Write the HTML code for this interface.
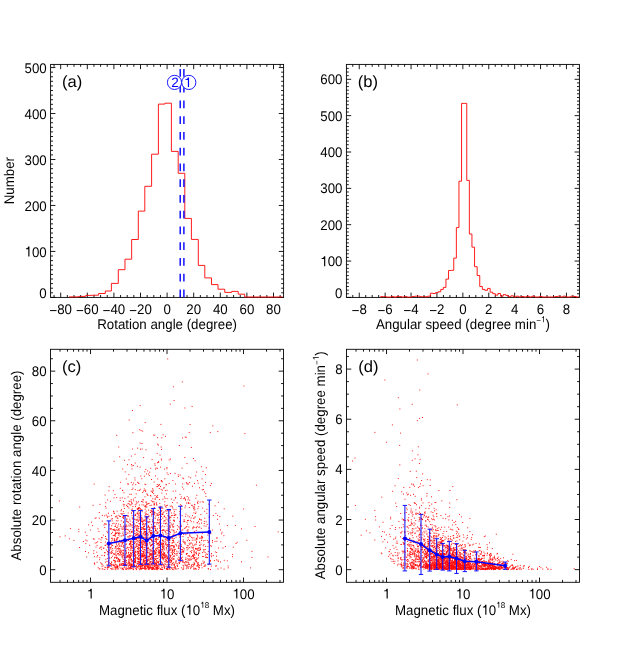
<!DOCTYPE html>
<html><head><meta charset="utf-8"><title>Figure</title>
<style>
html,body{margin:0;padding:0;background:#fff;}
body{width:629px;height:647px;overflow:hidden;}
svg{display:block;font-family:"Liberation Sans",sans-serif;}
text{text-rendering:geometricPrecision;}
</style></head><body>
<svg width="629" height="647" viewBox="0 0 629 647">
<rect width="629" height="647" fill="#fff"/>
<g opacity="0.999">
<rect x="50.60" y="64.40" width="233.00" height="233.00" fill="none" stroke="#000" stroke-width="0.9"/>
<line x1="60.70" y1="297.40" x2="60.70" y2="292.60" stroke="#000" stroke-width="0.9" />
<line x1="60.70" y1="64.40" x2="60.70" y2="69.20" stroke="#000" stroke-width="0.9" />
<line x1="87.30" y1="297.40" x2="87.30" y2="292.60" stroke="#000" stroke-width="0.9" />
<line x1="87.30" y1="64.40" x2="87.30" y2="69.20" stroke="#000" stroke-width="0.9" />
<line x1="113.90" y1="297.40" x2="113.90" y2="292.60" stroke="#000" stroke-width="0.9" />
<line x1="113.90" y1="64.40" x2="113.90" y2="69.20" stroke="#000" stroke-width="0.9" />
<line x1="140.50" y1="297.40" x2="140.50" y2="292.60" stroke="#000" stroke-width="0.9" />
<line x1="140.50" y1="64.40" x2="140.50" y2="69.20" stroke="#000" stroke-width="0.9" />
<line x1="167.10" y1="297.40" x2="167.10" y2="292.60" stroke="#000" stroke-width="0.9" />
<line x1="167.10" y1="64.40" x2="167.10" y2="69.20" stroke="#000" stroke-width="0.9" />
<line x1="193.70" y1="297.40" x2="193.70" y2="292.60" stroke="#000" stroke-width="0.9" />
<line x1="193.70" y1="64.40" x2="193.70" y2="69.20" stroke="#000" stroke-width="0.9" />
<line x1="220.30" y1="297.40" x2="220.30" y2="292.60" stroke="#000" stroke-width="0.9" />
<line x1="220.30" y1="64.40" x2="220.30" y2="69.20" stroke="#000" stroke-width="0.9" />
<line x1="246.90" y1="297.40" x2="246.90" y2="292.60" stroke="#000" stroke-width="0.9" />
<line x1="246.90" y1="64.40" x2="246.90" y2="69.20" stroke="#000" stroke-width="0.9" />
<line x1="273.50" y1="297.40" x2="273.50" y2="292.60" stroke="#000" stroke-width="0.9" />
<line x1="273.50" y1="64.40" x2="273.50" y2="69.20" stroke="#000" stroke-width="0.9" />
<line x1="54.05" y1="297.40" x2="54.05" y2="295.00" stroke="#000" stroke-width="0.9" />
<line x1="54.05" y1="64.40" x2="54.05" y2="66.80" stroke="#000" stroke-width="0.9" />
<line x1="67.35" y1="297.40" x2="67.35" y2="295.00" stroke="#000" stroke-width="0.9" />
<line x1="67.35" y1="64.40" x2="67.35" y2="66.80" stroke="#000" stroke-width="0.9" />
<line x1="74.00" y1="297.40" x2="74.00" y2="295.00" stroke="#000" stroke-width="0.9" />
<line x1="74.00" y1="64.40" x2="74.00" y2="66.80" stroke="#000" stroke-width="0.9" />
<line x1="80.65" y1="297.40" x2="80.65" y2="295.00" stroke="#000" stroke-width="0.9" />
<line x1="80.65" y1="64.40" x2="80.65" y2="66.80" stroke="#000" stroke-width="0.9" />
<line x1="93.95" y1="297.40" x2="93.95" y2="295.00" stroke="#000" stroke-width="0.9" />
<line x1="93.95" y1="64.40" x2="93.95" y2="66.80" stroke="#000" stroke-width="0.9" />
<line x1="100.60" y1="297.40" x2="100.60" y2="295.00" stroke="#000" stroke-width="0.9" />
<line x1="100.60" y1="64.40" x2="100.60" y2="66.80" stroke="#000" stroke-width="0.9" />
<line x1="107.25" y1="297.40" x2="107.25" y2="295.00" stroke="#000" stroke-width="0.9" />
<line x1="107.25" y1="64.40" x2="107.25" y2="66.80" stroke="#000" stroke-width="0.9" />
<line x1="120.55" y1="297.40" x2="120.55" y2="295.00" stroke="#000" stroke-width="0.9" />
<line x1="120.55" y1="64.40" x2="120.55" y2="66.80" stroke="#000" stroke-width="0.9" />
<line x1="127.20" y1="297.40" x2="127.20" y2="295.00" stroke="#000" stroke-width="0.9" />
<line x1="127.20" y1="64.40" x2="127.20" y2="66.80" stroke="#000" stroke-width="0.9" />
<line x1="133.85" y1="297.40" x2="133.85" y2="295.00" stroke="#000" stroke-width="0.9" />
<line x1="133.85" y1="64.40" x2="133.85" y2="66.80" stroke="#000" stroke-width="0.9" />
<line x1="147.15" y1="297.40" x2="147.15" y2="295.00" stroke="#000" stroke-width="0.9" />
<line x1="147.15" y1="64.40" x2="147.15" y2="66.80" stroke="#000" stroke-width="0.9" />
<line x1="153.80" y1="297.40" x2="153.80" y2="295.00" stroke="#000" stroke-width="0.9" />
<line x1="153.80" y1="64.40" x2="153.80" y2="66.80" stroke="#000" stroke-width="0.9" />
<line x1="160.45" y1="297.40" x2="160.45" y2="295.00" stroke="#000" stroke-width="0.9" />
<line x1="160.45" y1="64.40" x2="160.45" y2="66.80" stroke="#000" stroke-width="0.9" />
<line x1="173.75" y1="297.40" x2="173.75" y2="295.00" stroke="#000" stroke-width="0.9" />
<line x1="173.75" y1="64.40" x2="173.75" y2="66.80" stroke="#000" stroke-width="0.9" />
<line x1="180.40" y1="297.40" x2="180.40" y2="295.00" stroke="#000" stroke-width="0.9" />
<line x1="180.40" y1="64.40" x2="180.40" y2="66.80" stroke="#000" stroke-width="0.9" />
<line x1="187.05" y1="297.40" x2="187.05" y2="295.00" stroke="#000" stroke-width="0.9" />
<line x1="187.05" y1="64.40" x2="187.05" y2="66.80" stroke="#000" stroke-width="0.9" />
<line x1="200.35" y1="297.40" x2="200.35" y2="295.00" stroke="#000" stroke-width="0.9" />
<line x1="200.35" y1="64.40" x2="200.35" y2="66.80" stroke="#000" stroke-width="0.9" />
<line x1="207.00" y1="297.40" x2="207.00" y2="295.00" stroke="#000" stroke-width="0.9" />
<line x1="207.00" y1="64.40" x2="207.00" y2="66.80" stroke="#000" stroke-width="0.9" />
<line x1="213.65" y1="297.40" x2="213.65" y2="295.00" stroke="#000" stroke-width="0.9" />
<line x1="213.65" y1="64.40" x2="213.65" y2="66.80" stroke="#000" stroke-width="0.9" />
<line x1="226.95" y1="297.40" x2="226.95" y2="295.00" stroke="#000" stroke-width="0.9" />
<line x1="226.95" y1="64.40" x2="226.95" y2="66.80" stroke="#000" stroke-width="0.9" />
<line x1="233.60" y1="297.40" x2="233.60" y2="295.00" stroke="#000" stroke-width="0.9" />
<line x1="233.60" y1="64.40" x2="233.60" y2="66.80" stroke="#000" stroke-width="0.9" />
<line x1="240.25" y1="297.40" x2="240.25" y2="295.00" stroke="#000" stroke-width="0.9" />
<line x1="240.25" y1="64.40" x2="240.25" y2="66.80" stroke="#000" stroke-width="0.9" />
<line x1="253.55" y1="297.40" x2="253.55" y2="295.00" stroke="#000" stroke-width="0.9" />
<line x1="253.55" y1="64.40" x2="253.55" y2="66.80" stroke="#000" stroke-width="0.9" />
<line x1="260.20" y1="297.40" x2="260.20" y2="295.00" stroke="#000" stroke-width="0.9" />
<line x1="260.20" y1="64.40" x2="260.20" y2="66.80" stroke="#000" stroke-width="0.9" />
<line x1="266.85" y1="297.40" x2="266.85" y2="295.00" stroke="#000" stroke-width="0.9" />
<line x1="266.85" y1="64.40" x2="266.85" y2="66.80" stroke="#000" stroke-width="0.9" />
<line x1="280.15" y1="297.40" x2="280.15" y2="295.00" stroke="#000" stroke-width="0.9" />
<line x1="280.15" y1="64.40" x2="280.15" y2="66.80" stroke="#000" stroke-width="0.9" />
<line x1="50.60" y1="297.40" x2="55.40" y2="297.40" stroke="#000" stroke-width="0.9" />
<line x1="283.60" y1="297.40" x2="278.80" y2="297.40" stroke="#000" stroke-width="0.9" />
<line x1="50.60" y1="251.43" x2="55.40" y2="251.43" stroke="#000" stroke-width="0.9" />
<line x1="283.60" y1="251.43" x2="278.80" y2="251.43" stroke="#000" stroke-width="0.9" />
<line x1="50.60" y1="205.46" x2="55.40" y2="205.46" stroke="#000" stroke-width="0.9" />
<line x1="283.60" y1="205.46" x2="278.80" y2="205.46" stroke="#000" stroke-width="0.9" />
<line x1="50.60" y1="159.49" x2="55.40" y2="159.49" stroke="#000" stroke-width="0.9" />
<line x1="283.60" y1="159.49" x2="278.80" y2="159.49" stroke="#000" stroke-width="0.9" />
<line x1="50.60" y1="113.52" x2="55.40" y2="113.52" stroke="#000" stroke-width="0.9" />
<line x1="283.60" y1="113.52" x2="278.80" y2="113.52" stroke="#000" stroke-width="0.9" />
<line x1="50.60" y1="67.55" x2="55.40" y2="67.55" stroke="#000" stroke-width="0.9" />
<line x1="283.60" y1="67.55" x2="278.80" y2="67.55" stroke="#000" stroke-width="0.9" />
<line x1="50.60" y1="292.80" x2="53.00" y2="292.80" stroke="#000" stroke-width="0.9" />
<line x1="283.60" y1="292.80" x2="281.20" y2="292.80" stroke="#000" stroke-width="0.9" />
<line x1="50.60" y1="288.21" x2="53.00" y2="288.21" stroke="#000" stroke-width="0.9" />
<line x1="283.60" y1="288.21" x2="281.20" y2="288.21" stroke="#000" stroke-width="0.9" />
<line x1="50.60" y1="283.61" x2="53.00" y2="283.61" stroke="#000" stroke-width="0.9" />
<line x1="283.60" y1="283.61" x2="281.20" y2="283.61" stroke="#000" stroke-width="0.9" />
<line x1="50.60" y1="279.01" x2="53.00" y2="279.01" stroke="#000" stroke-width="0.9" />
<line x1="283.60" y1="279.01" x2="281.20" y2="279.01" stroke="#000" stroke-width="0.9" />
<line x1="50.60" y1="274.41" x2="53.00" y2="274.41" stroke="#000" stroke-width="0.9" />
<line x1="283.60" y1="274.41" x2="281.20" y2="274.41" stroke="#000" stroke-width="0.9" />
<line x1="50.60" y1="269.82" x2="53.00" y2="269.82" stroke="#000" stroke-width="0.9" />
<line x1="283.60" y1="269.82" x2="281.20" y2="269.82" stroke="#000" stroke-width="0.9" />
<line x1="50.60" y1="265.22" x2="53.00" y2="265.22" stroke="#000" stroke-width="0.9" />
<line x1="283.60" y1="265.22" x2="281.20" y2="265.22" stroke="#000" stroke-width="0.9" />
<line x1="50.60" y1="260.62" x2="53.00" y2="260.62" stroke="#000" stroke-width="0.9" />
<line x1="283.60" y1="260.62" x2="281.20" y2="260.62" stroke="#000" stroke-width="0.9" />
<line x1="50.60" y1="256.03" x2="53.00" y2="256.03" stroke="#000" stroke-width="0.9" />
<line x1="283.60" y1="256.03" x2="281.20" y2="256.03" stroke="#000" stroke-width="0.9" />
<line x1="50.60" y1="246.83" x2="53.00" y2="246.83" stroke="#000" stroke-width="0.9" />
<line x1="283.60" y1="246.83" x2="281.20" y2="246.83" stroke="#000" stroke-width="0.9" />
<line x1="50.60" y1="242.24" x2="53.00" y2="242.24" stroke="#000" stroke-width="0.9" />
<line x1="283.60" y1="242.24" x2="281.20" y2="242.24" stroke="#000" stroke-width="0.9" />
<line x1="50.60" y1="237.64" x2="53.00" y2="237.64" stroke="#000" stroke-width="0.9" />
<line x1="283.60" y1="237.64" x2="281.20" y2="237.64" stroke="#000" stroke-width="0.9" />
<line x1="50.60" y1="233.04" x2="53.00" y2="233.04" stroke="#000" stroke-width="0.9" />
<line x1="283.60" y1="233.04" x2="281.20" y2="233.04" stroke="#000" stroke-width="0.9" />
<line x1="50.60" y1="228.44" x2="53.00" y2="228.44" stroke="#000" stroke-width="0.9" />
<line x1="283.60" y1="228.44" x2="281.20" y2="228.44" stroke="#000" stroke-width="0.9" />
<line x1="50.60" y1="223.85" x2="53.00" y2="223.85" stroke="#000" stroke-width="0.9" />
<line x1="283.60" y1="223.85" x2="281.20" y2="223.85" stroke="#000" stroke-width="0.9" />
<line x1="50.60" y1="219.25" x2="53.00" y2="219.25" stroke="#000" stroke-width="0.9" />
<line x1="283.60" y1="219.25" x2="281.20" y2="219.25" stroke="#000" stroke-width="0.9" />
<line x1="50.60" y1="214.65" x2="53.00" y2="214.65" stroke="#000" stroke-width="0.9" />
<line x1="283.60" y1="214.65" x2="281.20" y2="214.65" stroke="#000" stroke-width="0.9" />
<line x1="50.60" y1="210.06" x2="53.00" y2="210.06" stroke="#000" stroke-width="0.9" />
<line x1="283.60" y1="210.06" x2="281.20" y2="210.06" stroke="#000" stroke-width="0.9" />
<line x1="50.60" y1="200.86" x2="53.00" y2="200.86" stroke="#000" stroke-width="0.9" />
<line x1="283.60" y1="200.86" x2="281.20" y2="200.86" stroke="#000" stroke-width="0.9" />
<line x1="50.60" y1="196.27" x2="53.00" y2="196.27" stroke="#000" stroke-width="0.9" />
<line x1="283.60" y1="196.27" x2="281.20" y2="196.27" stroke="#000" stroke-width="0.9" />
<line x1="50.60" y1="191.67" x2="53.00" y2="191.67" stroke="#000" stroke-width="0.9" />
<line x1="283.60" y1="191.67" x2="281.20" y2="191.67" stroke="#000" stroke-width="0.9" />
<line x1="50.60" y1="187.07" x2="53.00" y2="187.07" stroke="#000" stroke-width="0.9" />
<line x1="283.60" y1="187.07" x2="281.20" y2="187.07" stroke="#000" stroke-width="0.9" />
<line x1="50.60" y1="182.47" x2="53.00" y2="182.47" stroke="#000" stroke-width="0.9" />
<line x1="283.60" y1="182.47" x2="281.20" y2="182.47" stroke="#000" stroke-width="0.9" />
<line x1="50.60" y1="177.88" x2="53.00" y2="177.88" stroke="#000" stroke-width="0.9" />
<line x1="283.60" y1="177.88" x2="281.20" y2="177.88" stroke="#000" stroke-width="0.9" />
<line x1="50.60" y1="173.28" x2="53.00" y2="173.28" stroke="#000" stroke-width="0.9" />
<line x1="283.60" y1="173.28" x2="281.20" y2="173.28" stroke="#000" stroke-width="0.9" />
<line x1="50.60" y1="168.68" x2="53.00" y2="168.68" stroke="#000" stroke-width="0.9" />
<line x1="283.60" y1="168.68" x2="281.20" y2="168.68" stroke="#000" stroke-width="0.9" />
<line x1="50.60" y1="164.09" x2="53.00" y2="164.09" stroke="#000" stroke-width="0.9" />
<line x1="283.60" y1="164.09" x2="281.20" y2="164.09" stroke="#000" stroke-width="0.9" />
<line x1="50.60" y1="154.89" x2="53.00" y2="154.89" stroke="#000" stroke-width="0.9" />
<line x1="283.60" y1="154.89" x2="281.20" y2="154.89" stroke="#000" stroke-width="0.9" />
<line x1="50.60" y1="150.30" x2="53.00" y2="150.30" stroke="#000" stroke-width="0.9" />
<line x1="283.60" y1="150.30" x2="281.20" y2="150.30" stroke="#000" stroke-width="0.9" />
<line x1="50.60" y1="145.70" x2="53.00" y2="145.70" stroke="#000" stroke-width="0.9" />
<line x1="283.60" y1="145.70" x2="281.20" y2="145.70" stroke="#000" stroke-width="0.9" />
<line x1="50.60" y1="141.10" x2="53.00" y2="141.10" stroke="#000" stroke-width="0.9" />
<line x1="283.60" y1="141.10" x2="281.20" y2="141.10" stroke="#000" stroke-width="0.9" />
<line x1="50.60" y1="136.50" x2="53.00" y2="136.50" stroke="#000" stroke-width="0.9" />
<line x1="283.60" y1="136.50" x2="281.20" y2="136.50" stroke="#000" stroke-width="0.9" />
<line x1="50.60" y1="131.91" x2="53.00" y2="131.91" stroke="#000" stroke-width="0.9" />
<line x1="283.60" y1="131.91" x2="281.20" y2="131.91" stroke="#000" stroke-width="0.9" />
<line x1="50.60" y1="127.31" x2="53.00" y2="127.31" stroke="#000" stroke-width="0.9" />
<line x1="283.60" y1="127.31" x2="281.20" y2="127.31" stroke="#000" stroke-width="0.9" />
<line x1="50.60" y1="122.71" x2="53.00" y2="122.71" stroke="#000" stroke-width="0.9" />
<line x1="283.60" y1="122.71" x2="281.20" y2="122.71" stroke="#000" stroke-width="0.9" />
<line x1="50.60" y1="118.12" x2="53.00" y2="118.12" stroke="#000" stroke-width="0.9" />
<line x1="283.60" y1="118.12" x2="281.20" y2="118.12" stroke="#000" stroke-width="0.9" />
<line x1="50.60" y1="108.92" x2="53.00" y2="108.92" stroke="#000" stroke-width="0.9" />
<line x1="283.60" y1="108.92" x2="281.20" y2="108.92" stroke="#000" stroke-width="0.9" />
<line x1="50.60" y1="104.33" x2="53.00" y2="104.33" stroke="#000" stroke-width="0.9" />
<line x1="283.60" y1="104.33" x2="281.20" y2="104.33" stroke="#000" stroke-width="0.9" />
<line x1="50.60" y1="99.73" x2="53.00" y2="99.73" stroke="#000" stroke-width="0.9" />
<line x1="283.60" y1="99.73" x2="281.20" y2="99.73" stroke="#000" stroke-width="0.9" />
<line x1="50.60" y1="95.13" x2="53.00" y2="95.13" stroke="#000" stroke-width="0.9" />
<line x1="283.60" y1="95.13" x2="281.20" y2="95.13" stroke="#000" stroke-width="0.9" />
<line x1="50.60" y1="90.53" x2="53.00" y2="90.53" stroke="#000" stroke-width="0.9" />
<line x1="283.60" y1="90.53" x2="281.20" y2="90.53" stroke="#000" stroke-width="0.9" />
<line x1="50.60" y1="85.94" x2="53.00" y2="85.94" stroke="#000" stroke-width="0.9" />
<line x1="283.60" y1="85.94" x2="281.20" y2="85.94" stroke="#000" stroke-width="0.9" />
<line x1="50.60" y1="81.34" x2="53.00" y2="81.34" stroke="#000" stroke-width="0.9" />
<line x1="283.60" y1="81.34" x2="281.20" y2="81.34" stroke="#000" stroke-width="0.9" />
<line x1="50.60" y1="76.74" x2="53.00" y2="76.74" stroke="#000" stroke-width="0.9" />
<line x1="283.60" y1="76.74" x2="281.20" y2="76.74" stroke="#000" stroke-width="0.9" />
<line x1="50.60" y1="72.15" x2="53.00" y2="72.15" stroke="#000" stroke-width="0.9" />
<line x1="283.60" y1="72.15" x2="281.20" y2="72.15" stroke="#000" stroke-width="0.9" />
<path d="M69.10,296.90H78.60V296.40H85.70V295.40H92.35V295.20H98.65V293.50H105.30V291.00H111.40V283.40H118.30V269.70H124.97V259.20H131.65V239.50H138.30V211.10H144.80V186.30H151.60V154.20H158.40V104.10H164.90V103.20H171.40V151.40H178.20V173.30H184.80V218.40H191.40V239.40H198.30V265.40H204.80V277.90H211.50V284.60H218.00V289.20H224.75V292.40H231.70V291.40H238.20V294.20H244.70V297.00H282.50" fill="none" stroke="#f00" stroke-width="0.9" stroke-linejoin="miter"/>
<line x1="180.20" y1="68.90" x2="180.20" y2="297.40" stroke="#00f" stroke-width="1.4" stroke-dasharray="7.9 7.85"/>
<line x1="183.90" y1="68.90" x2="183.90" y2="297.40" stroke="#00f" stroke-width="1.4" stroke-dasharray="7.9 7.85"/>
<circle cx="174.5" cy="82.4" r="7.1" fill="#fff" stroke="#00f" stroke-width="0.9"/>
<circle cx="188.8" cy="82.4" r="7.1" fill="#fff" stroke="#00f" stroke-width="0.9"/>
<g transform="translate(174.90 87.10) scale(1 1.0)" fill="#00f"><text x="-3.78" y="0.00" font-size="13.6" xml:space="preserve">2</text></g>
<g transform="translate(187.80 87.10) scale(1 1.0)" fill="#00f"><path transform="translate(-3.78 0.00) scale(0.01360 -0.01360)" d="M284 0V517H102V574C200 574 262 622 282 709H372V0Z"/></g>
<g transform="translate(60.70 313.70) scale(1 1.055)" fill="#000"><path transform="translate(-11.28 0.00) scale(0.01330 -0.01330)" d="M48 186H536V258H48Z"/><text x="-3.51" y="0.00" font-size="13.3" xml:space="preserve">80</text></g>
<g transform="translate(87.30 313.70) scale(1 1.055)" fill="#000"><path transform="translate(-11.28 0.00) scale(0.01330 -0.01330)" d="M48 186H536V258H48Z"/><text x="-3.51" y="0.00" font-size="13.3" xml:space="preserve">60</text></g>
<g transform="translate(113.90 313.70) scale(1 1.055)" fill="#000"><path transform="translate(-11.28 0.00) scale(0.01330 -0.01330)" d="M48 186H536V258H48Z"/><text x="-3.51" y="0.00" font-size="13.3" xml:space="preserve">40</text></g>
<g transform="translate(140.50 313.70) scale(1 1.055)" fill="#000"><path transform="translate(-11.28 0.00) scale(0.01330 -0.01330)" d="M48 186H536V258H48Z"/><text x="-3.51" y="0.00" font-size="13.3" xml:space="preserve">20</text></g>
<g transform="translate(167.10 313.70) scale(1 1.055)" fill="#000"><text x="-3.70" y="0.00" font-size="13.3" xml:space="preserve">0</text></g>
<g transform="translate(193.70 313.70) scale(1 1.055)" fill="#000"><text x="-7.40" y="0.00" font-size="13.3" xml:space="preserve">20</text></g>
<g transform="translate(220.30 313.70) scale(1 1.055)" fill="#000"><text x="-7.40" y="0.00" font-size="13.3" xml:space="preserve">40</text></g>
<g transform="translate(246.90 313.70) scale(1 1.055)" fill="#000"><text x="-7.40" y="0.00" font-size="13.3" xml:space="preserve">60</text></g>
<g transform="translate(273.50 313.70) scale(1 1.055)" fill="#000"><text x="-7.40" y="0.00" font-size="13.3" xml:space="preserve">80</text></g>
<g transform="translate(46.70 297.90) scale(1 1.055)" fill="#000"><text x="-7.40" y="0.00" font-size="13.3" xml:space="preserve">0</text></g>
<g transform="translate(46.70 256.55) scale(1 1.055)" fill="#000"><path transform="translate(-22.19 0.00) scale(0.01330 -0.01330)" d="M284 0V517H102V574C200 574 262 622 282 709H372V0Z"/><text x="-14.79" y="0.00" font-size="13.3" xml:space="preserve">00</text></g>
<g transform="translate(46.70 210.58) scale(1 1.055)" fill="#000"><text x="-22.19" y="0.00" font-size="13.3" xml:space="preserve">200</text></g>
<g transform="translate(46.70 164.61) scale(1 1.055)" fill="#000"><text x="-22.19" y="0.00" font-size="13.3" xml:space="preserve">300</text></g>
<g transform="translate(46.70 118.64) scale(1 1.055)" fill="#000"><text x="-22.19" y="0.00" font-size="13.3" xml:space="preserve">400</text></g>
<g transform="translate(46.70 73.07) scale(1 1.055)" fill="#000"><text x="-22.19" y="0.00" font-size="13.3" xml:space="preserve">500</text></g>
<g transform="translate(167.10 329.15) scale(1 1.055)" fill="#000"><text x="-69.87" y="0.00" font-size="13.3" xml:space="preserve">Rotation angle (degree)</text></g>
<g transform="translate(13.60 180.70) rotate(-90) scale(1 1.055)" fill="#000"><text x="-23.65" y="0.00" font-size="13.3" xml:space="preserve">Number</text></g>
<g transform="translate(62.00 87.40) scale(1 0.98)" fill="#000"><text x="0.00" y="0.00" font-size="16.6" xml:space="preserve">(a)</text></g>
<rect x="346.40" y="64.40" width="233.00" height="233.00" fill="none" stroke="#000" stroke-width="0.9"/>
<line x1="359.25" y1="297.40" x2="359.25" y2="292.60" stroke="#000" stroke-width="0.9" />
<line x1="359.25" y1="64.40" x2="359.25" y2="69.20" stroke="#000" stroke-width="0.9" />
<line x1="385.15" y1="297.40" x2="385.15" y2="292.60" stroke="#000" stroke-width="0.9" />
<line x1="385.15" y1="64.40" x2="385.15" y2="69.20" stroke="#000" stroke-width="0.9" />
<line x1="411.05" y1="297.40" x2="411.05" y2="292.60" stroke="#000" stroke-width="0.9" />
<line x1="411.05" y1="64.40" x2="411.05" y2="69.20" stroke="#000" stroke-width="0.9" />
<line x1="436.95" y1="297.40" x2="436.95" y2="292.60" stroke="#000" stroke-width="0.9" />
<line x1="436.95" y1="64.40" x2="436.95" y2="69.20" stroke="#000" stroke-width="0.9" />
<line x1="462.85" y1="297.40" x2="462.85" y2="292.60" stroke="#000" stroke-width="0.9" />
<line x1="462.85" y1="64.40" x2="462.85" y2="69.20" stroke="#000" stroke-width="0.9" />
<line x1="488.75" y1="297.40" x2="488.75" y2="292.60" stroke="#000" stroke-width="0.9" />
<line x1="488.75" y1="64.40" x2="488.75" y2="69.20" stroke="#000" stroke-width="0.9" />
<line x1="514.65" y1="297.40" x2="514.65" y2="292.60" stroke="#000" stroke-width="0.9" />
<line x1="514.65" y1="64.40" x2="514.65" y2="69.20" stroke="#000" stroke-width="0.9" />
<line x1="540.55" y1="297.40" x2="540.55" y2="292.60" stroke="#000" stroke-width="0.9" />
<line x1="540.55" y1="64.40" x2="540.55" y2="69.20" stroke="#000" stroke-width="0.9" />
<line x1="566.45" y1="297.40" x2="566.45" y2="292.60" stroke="#000" stroke-width="0.9" />
<line x1="566.45" y1="64.40" x2="566.45" y2="69.20" stroke="#000" stroke-width="0.9" />
<line x1="352.78" y1="297.40" x2="352.78" y2="295.00" stroke="#000" stroke-width="0.9" />
<line x1="352.78" y1="64.40" x2="352.78" y2="66.80" stroke="#000" stroke-width="0.9" />
<line x1="365.73" y1="297.40" x2="365.73" y2="295.00" stroke="#000" stroke-width="0.9" />
<line x1="365.73" y1="64.40" x2="365.73" y2="66.80" stroke="#000" stroke-width="0.9" />
<line x1="372.20" y1="297.40" x2="372.20" y2="295.00" stroke="#000" stroke-width="0.9" />
<line x1="372.20" y1="64.40" x2="372.20" y2="66.80" stroke="#000" stroke-width="0.9" />
<line x1="378.68" y1="297.40" x2="378.68" y2="295.00" stroke="#000" stroke-width="0.9" />
<line x1="378.68" y1="64.40" x2="378.68" y2="66.80" stroke="#000" stroke-width="0.9" />
<line x1="391.62" y1="297.40" x2="391.62" y2="295.00" stroke="#000" stroke-width="0.9" />
<line x1="391.62" y1="64.40" x2="391.62" y2="66.80" stroke="#000" stroke-width="0.9" />
<line x1="398.10" y1="297.40" x2="398.10" y2="295.00" stroke="#000" stroke-width="0.9" />
<line x1="398.10" y1="64.40" x2="398.10" y2="66.80" stroke="#000" stroke-width="0.9" />
<line x1="404.58" y1="297.40" x2="404.58" y2="295.00" stroke="#000" stroke-width="0.9" />
<line x1="404.58" y1="64.40" x2="404.58" y2="66.80" stroke="#000" stroke-width="0.9" />
<line x1="417.53" y1="297.40" x2="417.53" y2="295.00" stroke="#000" stroke-width="0.9" />
<line x1="417.53" y1="64.40" x2="417.53" y2="66.80" stroke="#000" stroke-width="0.9" />
<line x1="424.00" y1="297.40" x2="424.00" y2="295.00" stroke="#000" stroke-width="0.9" />
<line x1="424.00" y1="64.40" x2="424.00" y2="66.80" stroke="#000" stroke-width="0.9" />
<line x1="430.48" y1="297.40" x2="430.48" y2="295.00" stroke="#000" stroke-width="0.9" />
<line x1="430.48" y1="64.40" x2="430.48" y2="66.80" stroke="#000" stroke-width="0.9" />
<line x1="443.43" y1="297.40" x2="443.43" y2="295.00" stroke="#000" stroke-width="0.9" />
<line x1="443.43" y1="64.40" x2="443.43" y2="66.80" stroke="#000" stroke-width="0.9" />
<line x1="449.90" y1="297.40" x2="449.90" y2="295.00" stroke="#000" stroke-width="0.9" />
<line x1="449.90" y1="64.40" x2="449.90" y2="66.80" stroke="#000" stroke-width="0.9" />
<line x1="456.38" y1="297.40" x2="456.38" y2="295.00" stroke="#000" stroke-width="0.9" />
<line x1="456.38" y1="64.40" x2="456.38" y2="66.80" stroke="#000" stroke-width="0.9" />
<line x1="469.33" y1="297.40" x2="469.33" y2="295.00" stroke="#000" stroke-width="0.9" />
<line x1="469.33" y1="64.40" x2="469.33" y2="66.80" stroke="#000" stroke-width="0.9" />
<line x1="475.80" y1="297.40" x2="475.80" y2="295.00" stroke="#000" stroke-width="0.9" />
<line x1="475.80" y1="64.40" x2="475.80" y2="66.80" stroke="#000" stroke-width="0.9" />
<line x1="482.28" y1="297.40" x2="482.28" y2="295.00" stroke="#000" stroke-width="0.9" />
<line x1="482.28" y1="64.40" x2="482.28" y2="66.80" stroke="#000" stroke-width="0.9" />
<line x1="495.23" y1="297.40" x2="495.23" y2="295.00" stroke="#000" stroke-width="0.9" />
<line x1="495.23" y1="64.40" x2="495.23" y2="66.80" stroke="#000" stroke-width="0.9" />
<line x1="501.70" y1="297.40" x2="501.70" y2="295.00" stroke="#000" stroke-width="0.9" />
<line x1="501.70" y1="64.40" x2="501.70" y2="66.80" stroke="#000" stroke-width="0.9" />
<line x1="508.18" y1="297.40" x2="508.18" y2="295.00" stroke="#000" stroke-width="0.9" />
<line x1="508.18" y1="64.40" x2="508.18" y2="66.80" stroke="#000" stroke-width="0.9" />
<line x1="521.12" y1="297.40" x2="521.12" y2="295.00" stroke="#000" stroke-width="0.9" />
<line x1="521.12" y1="64.40" x2="521.12" y2="66.80" stroke="#000" stroke-width="0.9" />
<line x1="527.60" y1="297.40" x2="527.60" y2="295.00" stroke="#000" stroke-width="0.9" />
<line x1="527.60" y1="64.40" x2="527.60" y2="66.80" stroke="#000" stroke-width="0.9" />
<line x1="534.08" y1="297.40" x2="534.08" y2="295.00" stroke="#000" stroke-width="0.9" />
<line x1="534.08" y1="64.40" x2="534.08" y2="66.80" stroke="#000" stroke-width="0.9" />
<line x1="547.02" y1="297.40" x2="547.02" y2="295.00" stroke="#000" stroke-width="0.9" />
<line x1="547.02" y1="64.40" x2="547.02" y2="66.80" stroke="#000" stroke-width="0.9" />
<line x1="553.50" y1="297.40" x2="553.50" y2="295.00" stroke="#000" stroke-width="0.9" />
<line x1="553.50" y1="64.40" x2="553.50" y2="66.80" stroke="#000" stroke-width="0.9" />
<line x1="559.98" y1="297.40" x2="559.98" y2="295.00" stroke="#000" stroke-width="0.9" />
<line x1="559.98" y1="64.40" x2="559.98" y2="66.80" stroke="#000" stroke-width="0.9" />
<line x1="572.92" y1="297.40" x2="572.92" y2="295.00" stroke="#000" stroke-width="0.9" />
<line x1="572.92" y1="64.40" x2="572.92" y2="66.80" stroke="#000" stroke-width="0.9" />
<line x1="346.40" y1="297.40" x2="351.20" y2="297.40" stroke="#000" stroke-width="0.9" />
<line x1="579.40" y1="297.40" x2="574.60" y2="297.40" stroke="#000" stroke-width="0.9" />
<line x1="346.40" y1="261.05" x2="351.20" y2="261.05" stroke="#000" stroke-width="0.9" />
<line x1="579.40" y1="261.05" x2="574.60" y2="261.05" stroke="#000" stroke-width="0.9" />
<line x1="346.40" y1="224.70" x2="351.20" y2="224.70" stroke="#000" stroke-width="0.9" />
<line x1="579.40" y1="224.70" x2="574.60" y2="224.70" stroke="#000" stroke-width="0.9" />
<line x1="346.40" y1="188.35" x2="351.20" y2="188.35" stroke="#000" stroke-width="0.9" />
<line x1="579.40" y1="188.35" x2="574.60" y2="188.35" stroke="#000" stroke-width="0.9" />
<line x1="346.40" y1="152.00" x2="351.20" y2="152.00" stroke="#000" stroke-width="0.9" />
<line x1="579.40" y1="152.00" x2="574.60" y2="152.00" stroke="#000" stroke-width="0.9" />
<line x1="346.40" y1="115.65" x2="351.20" y2="115.65" stroke="#000" stroke-width="0.9" />
<line x1="579.40" y1="115.65" x2="574.60" y2="115.65" stroke="#000" stroke-width="0.9" />
<line x1="346.40" y1="79.30" x2="351.20" y2="79.30" stroke="#000" stroke-width="0.9" />
<line x1="579.40" y1="79.30" x2="574.60" y2="79.30" stroke="#000" stroke-width="0.9" />
<line x1="346.40" y1="293.76" x2="348.80" y2="293.76" stroke="#000" stroke-width="0.9" />
<line x1="579.40" y1="293.76" x2="577.00" y2="293.76" stroke="#000" stroke-width="0.9" />
<line x1="346.40" y1="290.13" x2="348.80" y2="290.13" stroke="#000" stroke-width="0.9" />
<line x1="579.40" y1="290.13" x2="577.00" y2="290.13" stroke="#000" stroke-width="0.9" />
<line x1="346.40" y1="286.50" x2="348.80" y2="286.50" stroke="#000" stroke-width="0.9" />
<line x1="579.40" y1="286.50" x2="577.00" y2="286.50" stroke="#000" stroke-width="0.9" />
<line x1="346.40" y1="282.86" x2="348.80" y2="282.86" stroke="#000" stroke-width="0.9" />
<line x1="579.40" y1="282.86" x2="577.00" y2="282.86" stroke="#000" stroke-width="0.9" />
<line x1="346.40" y1="279.22" x2="348.80" y2="279.22" stroke="#000" stroke-width="0.9" />
<line x1="579.40" y1="279.22" x2="577.00" y2="279.22" stroke="#000" stroke-width="0.9" />
<line x1="346.40" y1="275.59" x2="348.80" y2="275.59" stroke="#000" stroke-width="0.9" />
<line x1="579.40" y1="275.59" x2="577.00" y2="275.59" stroke="#000" stroke-width="0.9" />
<line x1="346.40" y1="271.95" x2="348.80" y2="271.95" stroke="#000" stroke-width="0.9" />
<line x1="579.40" y1="271.95" x2="577.00" y2="271.95" stroke="#000" stroke-width="0.9" />
<line x1="346.40" y1="268.32" x2="348.80" y2="268.32" stroke="#000" stroke-width="0.9" />
<line x1="579.40" y1="268.32" x2="577.00" y2="268.32" stroke="#000" stroke-width="0.9" />
<line x1="346.40" y1="264.69" x2="348.80" y2="264.69" stroke="#000" stroke-width="0.9" />
<line x1="579.40" y1="264.69" x2="577.00" y2="264.69" stroke="#000" stroke-width="0.9" />
<line x1="346.40" y1="257.41" x2="348.80" y2="257.41" stroke="#000" stroke-width="0.9" />
<line x1="579.40" y1="257.41" x2="577.00" y2="257.41" stroke="#000" stroke-width="0.9" />
<line x1="346.40" y1="253.78" x2="348.80" y2="253.78" stroke="#000" stroke-width="0.9" />
<line x1="579.40" y1="253.78" x2="577.00" y2="253.78" stroke="#000" stroke-width="0.9" />
<line x1="346.40" y1="250.14" x2="348.80" y2="250.14" stroke="#000" stroke-width="0.9" />
<line x1="579.40" y1="250.14" x2="577.00" y2="250.14" stroke="#000" stroke-width="0.9" />
<line x1="346.40" y1="246.51" x2="348.80" y2="246.51" stroke="#000" stroke-width="0.9" />
<line x1="579.40" y1="246.51" x2="577.00" y2="246.51" stroke="#000" stroke-width="0.9" />
<line x1="346.40" y1="242.87" x2="348.80" y2="242.87" stroke="#000" stroke-width="0.9" />
<line x1="579.40" y1="242.87" x2="577.00" y2="242.87" stroke="#000" stroke-width="0.9" />
<line x1="346.40" y1="239.24" x2="348.80" y2="239.24" stroke="#000" stroke-width="0.9" />
<line x1="579.40" y1="239.24" x2="577.00" y2="239.24" stroke="#000" stroke-width="0.9" />
<line x1="346.40" y1="235.60" x2="348.80" y2="235.60" stroke="#000" stroke-width="0.9" />
<line x1="579.40" y1="235.60" x2="577.00" y2="235.60" stroke="#000" stroke-width="0.9" />
<line x1="346.40" y1="231.97" x2="348.80" y2="231.97" stroke="#000" stroke-width="0.9" />
<line x1="579.40" y1="231.97" x2="577.00" y2="231.97" stroke="#000" stroke-width="0.9" />
<line x1="346.40" y1="228.33" x2="348.80" y2="228.33" stroke="#000" stroke-width="0.9" />
<line x1="579.40" y1="228.33" x2="577.00" y2="228.33" stroke="#000" stroke-width="0.9" />
<line x1="346.40" y1="221.06" x2="348.80" y2="221.06" stroke="#000" stroke-width="0.9" />
<line x1="579.40" y1="221.06" x2="577.00" y2="221.06" stroke="#000" stroke-width="0.9" />
<line x1="346.40" y1="217.43" x2="348.80" y2="217.43" stroke="#000" stroke-width="0.9" />
<line x1="579.40" y1="217.43" x2="577.00" y2="217.43" stroke="#000" stroke-width="0.9" />
<line x1="346.40" y1="213.79" x2="348.80" y2="213.79" stroke="#000" stroke-width="0.9" />
<line x1="579.40" y1="213.79" x2="577.00" y2="213.79" stroke="#000" stroke-width="0.9" />
<line x1="346.40" y1="210.16" x2="348.80" y2="210.16" stroke="#000" stroke-width="0.9" />
<line x1="579.40" y1="210.16" x2="577.00" y2="210.16" stroke="#000" stroke-width="0.9" />
<line x1="346.40" y1="206.52" x2="348.80" y2="206.52" stroke="#000" stroke-width="0.9" />
<line x1="579.40" y1="206.52" x2="577.00" y2="206.52" stroke="#000" stroke-width="0.9" />
<line x1="346.40" y1="202.89" x2="348.80" y2="202.89" stroke="#000" stroke-width="0.9" />
<line x1="579.40" y1="202.89" x2="577.00" y2="202.89" stroke="#000" stroke-width="0.9" />
<line x1="346.40" y1="199.25" x2="348.80" y2="199.25" stroke="#000" stroke-width="0.9" />
<line x1="579.40" y1="199.25" x2="577.00" y2="199.25" stroke="#000" stroke-width="0.9" />
<line x1="346.40" y1="195.62" x2="348.80" y2="195.62" stroke="#000" stroke-width="0.9" />
<line x1="579.40" y1="195.62" x2="577.00" y2="195.62" stroke="#000" stroke-width="0.9" />
<line x1="346.40" y1="191.98" x2="348.80" y2="191.98" stroke="#000" stroke-width="0.9" />
<line x1="579.40" y1="191.98" x2="577.00" y2="191.98" stroke="#000" stroke-width="0.9" />
<line x1="346.40" y1="184.71" x2="348.80" y2="184.71" stroke="#000" stroke-width="0.9" />
<line x1="579.40" y1="184.71" x2="577.00" y2="184.71" stroke="#000" stroke-width="0.9" />
<line x1="346.40" y1="181.08" x2="348.80" y2="181.08" stroke="#000" stroke-width="0.9" />
<line x1="579.40" y1="181.08" x2="577.00" y2="181.08" stroke="#000" stroke-width="0.9" />
<line x1="346.40" y1="177.44" x2="348.80" y2="177.44" stroke="#000" stroke-width="0.9" />
<line x1="579.40" y1="177.44" x2="577.00" y2="177.44" stroke="#000" stroke-width="0.9" />
<line x1="346.40" y1="173.81" x2="348.80" y2="173.81" stroke="#000" stroke-width="0.9" />
<line x1="579.40" y1="173.81" x2="577.00" y2="173.81" stroke="#000" stroke-width="0.9" />
<line x1="346.40" y1="170.17" x2="348.80" y2="170.17" stroke="#000" stroke-width="0.9" />
<line x1="579.40" y1="170.17" x2="577.00" y2="170.17" stroke="#000" stroke-width="0.9" />
<line x1="346.40" y1="166.54" x2="348.80" y2="166.54" stroke="#000" stroke-width="0.9" />
<line x1="579.40" y1="166.54" x2="577.00" y2="166.54" stroke="#000" stroke-width="0.9" />
<line x1="346.40" y1="162.90" x2="348.80" y2="162.90" stroke="#000" stroke-width="0.9" />
<line x1="579.40" y1="162.90" x2="577.00" y2="162.90" stroke="#000" stroke-width="0.9" />
<line x1="346.40" y1="159.27" x2="348.80" y2="159.27" stroke="#000" stroke-width="0.9" />
<line x1="579.40" y1="159.27" x2="577.00" y2="159.27" stroke="#000" stroke-width="0.9" />
<line x1="346.40" y1="155.63" x2="348.80" y2="155.63" stroke="#000" stroke-width="0.9" />
<line x1="579.40" y1="155.63" x2="577.00" y2="155.63" stroke="#000" stroke-width="0.9" />
<line x1="346.40" y1="148.36" x2="348.80" y2="148.36" stroke="#000" stroke-width="0.9" />
<line x1="579.40" y1="148.36" x2="577.00" y2="148.36" stroke="#000" stroke-width="0.9" />
<line x1="346.40" y1="144.73" x2="348.80" y2="144.73" stroke="#000" stroke-width="0.9" />
<line x1="579.40" y1="144.73" x2="577.00" y2="144.73" stroke="#000" stroke-width="0.9" />
<line x1="346.40" y1="141.09" x2="348.80" y2="141.09" stroke="#000" stroke-width="0.9" />
<line x1="579.40" y1="141.09" x2="577.00" y2="141.09" stroke="#000" stroke-width="0.9" />
<line x1="346.40" y1="137.46" x2="348.80" y2="137.46" stroke="#000" stroke-width="0.9" />
<line x1="579.40" y1="137.46" x2="577.00" y2="137.46" stroke="#000" stroke-width="0.9" />
<line x1="346.40" y1="133.82" x2="348.80" y2="133.82" stroke="#000" stroke-width="0.9" />
<line x1="579.40" y1="133.82" x2="577.00" y2="133.82" stroke="#000" stroke-width="0.9" />
<line x1="346.40" y1="130.19" x2="348.80" y2="130.19" stroke="#000" stroke-width="0.9" />
<line x1="579.40" y1="130.19" x2="577.00" y2="130.19" stroke="#000" stroke-width="0.9" />
<line x1="346.40" y1="126.55" x2="348.80" y2="126.55" stroke="#000" stroke-width="0.9" />
<line x1="579.40" y1="126.55" x2="577.00" y2="126.55" stroke="#000" stroke-width="0.9" />
<line x1="346.40" y1="122.92" x2="348.80" y2="122.92" stroke="#000" stroke-width="0.9" />
<line x1="579.40" y1="122.92" x2="577.00" y2="122.92" stroke="#000" stroke-width="0.9" />
<line x1="346.40" y1="119.28" x2="348.80" y2="119.28" stroke="#000" stroke-width="0.9" />
<line x1="579.40" y1="119.28" x2="577.00" y2="119.28" stroke="#000" stroke-width="0.9" />
<line x1="346.40" y1="112.01" x2="348.80" y2="112.01" stroke="#000" stroke-width="0.9" />
<line x1="579.40" y1="112.01" x2="577.00" y2="112.01" stroke="#000" stroke-width="0.9" />
<line x1="346.40" y1="108.38" x2="348.80" y2="108.38" stroke="#000" stroke-width="0.9" />
<line x1="579.40" y1="108.38" x2="577.00" y2="108.38" stroke="#000" stroke-width="0.9" />
<line x1="346.40" y1="104.74" x2="348.80" y2="104.74" stroke="#000" stroke-width="0.9" />
<line x1="579.40" y1="104.74" x2="577.00" y2="104.74" stroke="#000" stroke-width="0.9" />
<line x1="346.40" y1="101.11" x2="348.80" y2="101.11" stroke="#000" stroke-width="0.9" />
<line x1="579.40" y1="101.11" x2="577.00" y2="101.11" stroke="#000" stroke-width="0.9" />
<line x1="346.40" y1="97.47" x2="348.80" y2="97.47" stroke="#000" stroke-width="0.9" />
<line x1="579.40" y1="97.47" x2="577.00" y2="97.47" stroke="#000" stroke-width="0.9" />
<line x1="346.40" y1="93.84" x2="348.80" y2="93.84" stroke="#000" stroke-width="0.9" />
<line x1="579.40" y1="93.84" x2="577.00" y2="93.84" stroke="#000" stroke-width="0.9" />
<line x1="346.40" y1="90.20" x2="348.80" y2="90.20" stroke="#000" stroke-width="0.9" />
<line x1="579.40" y1="90.20" x2="577.00" y2="90.20" stroke="#000" stroke-width="0.9" />
<line x1="346.40" y1="86.57" x2="348.80" y2="86.57" stroke="#000" stroke-width="0.9" />
<line x1="579.40" y1="86.57" x2="577.00" y2="86.57" stroke="#000" stroke-width="0.9" />
<line x1="346.40" y1="82.93" x2="348.80" y2="82.93" stroke="#000" stroke-width="0.9" />
<line x1="579.40" y1="82.93" x2="577.00" y2="82.93" stroke="#000" stroke-width="0.9" />
<line x1="346.40" y1="75.66" x2="348.80" y2="75.66" stroke="#000" stroke-width="0.9" />
<line x1="579.40" y1="75.66" x2="577.00" y2="75.66" stroke="#000" stroke-width="0.9" />
<line x1="346.40" y1="72.03" x2="348.80" y2="72.03" stroke="#000" stroke-width="0.9" />
<line x1="579.40" y1="72.03" x2="577.00" y2="72.03" stroke="#000" stroke-width="0.9" />
<line x1="346.40" y1="68.39" x2="348.80" y2="68.39" stroke="#000" stroke-width="0.9" />
<line x1="579.40" y1="68.39" x2="577.00" y2="68.39" stroke="#000" stroke-width="0.9" />
<path d="M380.00,297.10H380.95V296.60H383.55V296.60H386.15V297.10H388.75V297.10H391.35V296.60H393.95V297.10H396.55V296.40H399.15V296.60H401.75V297.10H404.35V296.60H406.95V297.10H409.55V297.10H412.15V296.50H414.75V296.20H417.35V296.20H419.95V296.70H422.55V296.70H425.15V296.70H427.75V296.20H430.35V293.20H432.95V293.50H435.55V292.60H438.15V291.80H440.75V289.40H443.35V287.40H445.95V279.10H448.55V270.50H451.15V270.30H453.75V258.10H456.35V227.60H458.95V181.20H461.55V103.40H464.15V103.40H466.75V180.40H469.35V234.05H471.95V247.15H474.55V266.70H477.15V275.50H479.75V286.50H482.35V289.40H484.95V290.30H487.55V288.40H490.15V292.20H492.75V293.70H495.35V295.10H497.95V293.50H500.55V296.20H503.15V294.60H505.75V295.40H508.35V296.70H510.95V295.80H513.55V297.00H516.15V296.20H518.75V297.00H521.35V296.50H523.95V297.00H526.55V296.20H529.15V297.00H531.75V296.20H534.35V297.00H536.95V297.00H539.55V296.50H542.15V297.00H544.75V297.00H547.35V297.00H549.95V297.00H552.55V297.00H555.15V296.50H557.75V296.20H560.35V297.00H562.95V296.20H565.55V297.00H568.15V297.00H570.75V296.20H573.35V296.50H575.95V297.00H578.80" fill="none" stroke="#f00" stroke-width="0.9"/>
<g transform="translate(359.25 313.70) scale(1 1.055)" fill="#000"><path transform="translate(-7.58 0.00) scale(0.01330 -0.01330)" d="M48 186H536V258H48Z"/><text x="0.18" y="0.00" font-size="13.3" xml:space="preserve">8</text></g>
<g transform="translate(385.15 313.70) scale(1 1.055)" fill="#000"><path transform="translate(-7.58 0.00) scale(0.01330 -0.01330)" d="M48 186H536V258H48Z"/><text x="0.18" y="0.00" font-size="13.3" xml:space="preserve">6</text></g>
<g transform="translate(411.05 313.70) scale(1 1.055)" fill="#000"><path transform="translate(-7.58 0.00) scale(0.01330 -0.01330)" d="M48 186H536V258H48Z"/><text x="0.18" y="0.00" font-size="13.3" xml:space="preserve">4</text></g>
<g transform="translate(436.95 313.70) scale(1 1.055)" fill="#000"><path transform="translate(-7.58 0.00) scale(0.01330 -0.01330)" d="M48 186H536V258H48Z"/><text x="0.18" y="0.00" font-size="13.3" xml:space="preserve">2</text></g>
<g transform="translate(462.85 313.70) scale(1 1.055)" fill="#000"><text x="-3.70" y="0.00" font-size="13.3" xml:space="preserve">0</text></g>
<g transform="translate(488.75 313.70) scale(1 1.055)" fill="#000"><text x="-3.70" y="0.00" font-size="13.3" xml:space="preserve">2</text></g>
<g transform="translate(514.65 313.70) scale(1 1.055)" fill="#000"><text x="-3.70" y="0.00" font-size="13.3" xml:space="preserve">4</text></g>
<g transform="translate(540.55 313.70) scale(1 1.055)" fill="#000"><text x="-3.70" y="0.00" font-size="13.3" xml:space="preserve">6</text></g>
<g transform="translate(566.45 313.70) scale(1 1.055)" fill="#000"><text x="-3.70" y="0.00" font-size="13.3" xml:space="preserve">8</text></g>
<g transform="translate(342.50 297.90) scale(1 1.055)" fill="#000"><text x="-7.40" y="0.00" font-size="13.3" xml:space="preserve">0</text></g>
<g transform="translate(342.50 266.17) scale(1 1.055)" fill="#000"><path transform="translate(-22.19 0.00) scale(0.01330 -0.01330)" d="M284 0V517H102V574C200 574 262 622 282 709H372V0Z"/><text x="-14.79" y="0.00" font-size="13.3" xml:space="preserve">00</text></g>
<g transform="translate(342.50 229.82) scale(1 1.055)" fill="#000"><text x="-22.19" y="0.00" font-size="13.3" xml:space="preserve">200</text></g>
<g transform="translate(342.50 193.47) scale(1 1.055)" fill="#000"><text x="-22.19" y="0.00" font-size="13.3" xml:space="preserve">300</text></g>
<g transform="translate(342.50 157.12) scale(1 1.055)" fill="#000"><text x="-22.19" y="0.00" font-size="13.3" xml:space="preserve">400</text></g>
<g transform="translate(342.50 120.77) scale(1 1.055)" fill="#000"><text x="-22.19" y="0.00" font-size="13.3" xml:space="preserve">500</text></g>
<g transform="translate(342.50 84.42) scale(1 1.055)" fill="#000"><text x="-22.19" y="0.00" font-size="13.3" xml:space="preserve">600</text></g>
<g transform="translate(462.90 329.15) scale(1 1.055)" fill="#000"><text x="-87.00" y="0.00" font-size="13.3" xml:space="preserve">Angular speed (degree min</text><path transform="translate(73.44 -6.60) scale(0.00800 -0.00800)" d="M48 186H536V258H48Z"/><path transform="translate(78.12 -6.60) scale(0.00800 -0.00800)" d="M284 0V517H102V574C200 574 262 622 282 709H372V0Z"/><text x="82.56" y="0.00" font-size="13.3" xml:space="preserve">)</text></g>
<g transform="translate(357.80 87.40) scale(1 0.98)" fill="#000"><text x="0.00" y="0.00" font-size="16.6" xml:space="preserve">(b)</text></g>
<rect x="50.50" y="349.30" width="233.00" height="233.00" fill="none" stroke="#000" stroke-width="0.9"/>
<line x1="90.50" y1="582.30" x2="90.50" y2="577.50" stroke="#000" stroke-width="0.9" />
<line x1="90.50" y1="349.30" x2="90.50" y2="354.10" stroke="#000" stroke-width="0.9" />
<line x1="167.00" y1="582.30" x2="167.00" y2="577.50" stroke="#000" stroke-width="0.9" />
<line x1="167.00" y1="349.30" x2="167.00" y2="354.10" stroke="#000" stroke-width="0.9" />
<line x1="243.50" y1="582.30" x2="243.50" y2="577.50" stroke="#000" stroke-width="0.9" />
<line x1="243.50" y1="349.30" x2="243.50" y2="354.10" stroke="#000" stroke-width="0.9" />
<line x1="60.06" y1="582.30" x2="60.06" y2="579.90" stroke="#000" stroke-width="0.9" />
<line x1="60.06" y1="349.30" x2="60.06" y2="351.70" stroke="#000" stroke-width="0.9" />
<line x1="67.47" y1="582.30" x2="67.47" y2="579.90" stroke="#000" stroke-width="0.9" />
<line x1="67.47" y1="349.30" x2="67.47" y2="351.70" stroke="#000" stroke-width="0.9" />
<line x1="73.53" y1="582.30" x2="73.53" y2="579.90" stroke="#000" stroke-width="0.9" />
<line x1="73.53" y1="349.30" x2="73.53" y2="351.70" stroke="#000" stroke-width="0.9" />
<line x1="78.65" y1="582.30" x2="78.65" y2="579.90" stroke="#000" stroke-width="0.9" />
<line x1="78.65" y1="349.30" x2="78.65" y2="351.70" stroke="#000" stroke-width="0.9" />
<line x1="83.09" y1="582.30" x2="83.09" y2="579.90" stroke="#000" stroke-width="0.9" />
<line x1="83.09" y1="349.30" x2="83.09" y2="351.70" stroke="#000" stroke-width="0.9" />
<line x1="87.00" y1="582.30" x2="87.00" y2="579.90" stroke="#000" stroke-width="0.9" />
<line x1="87.00" y1="349.30" x2="87.00" y2="351.70" stroke="#000" stroke-width="0.9" />
<line x1="113.53" y1="582.30" x2="113.53" y2="579.90" stroke="#000" stroke-width="0.9" />
<line x1="113.53" y1="349.30" x2="113.53" y2="351.70" stroke="#000" stroke-width="0.9" />
<line x1="127.00" y1="582.30" x2="127.00" y2="579.90" stroke="#000" stroke-width="0.9" />
<line x1="127.00" y1="349.30" x2="127.00" y2="351.70" stroke="#000" stroke-width="0.9" />
<line x1="136.56" y1="582.30" x2="136.56" y2="579.90" stroke="#000" stroke-width="0.9" />
<line x1="136.56" y1="349.30" x2="136.56" y2="351.70" stroke="#000" stroke-width="0.9" />
<line x1="143.97" y1="582.30" x2="143.97" y2="579.90" stroke="#000" stroke-width="0.9" />
<line x1="143.97" y1="349.30" x2="143.97" y2="351.70" stroke="#000" stroke-width="0.9" />
<line x1="150.03" y1="582.30" x2="150.03" y2="579.90" stroke="#000" stroke-width="0.9" />
<line x1="150.03" y1="349.30" x2="150.03" y2="351.70" stroke="#000" stroke-width="0.9" />
<line x1="155.15" y1="582.30" x2="155.15" y2="579.90" stroke="#000" stroke-width="0.9" />
<line x1="155.15" y1="349.30" x2="155.15" y2="351.70" stroke="#000" stroke-width="0.9" />
<line x1="159.59" y1="582.30" x2="159.59" y2="579.90" stroke="#000" stroke-width="0.9" />
<line x1="159.59" y1="349.30" x2="159.59" y2="351.70" stroke="#000" stroke-width="0.9" />
<line x1="163.50" y1="582.30" x2="163.50" y2="579.90" stroke="#000" stroke-width="0.9" />
<line x1="163.50" y1="349.30" x2="163.50" y2="351.70" stroke="#000" stroke-width="0.9" />
<line x1="190.03" y1="582.30" x2="190.03" y2="579.90" stroke="#000" stroke-width="0.9" />
<line x1="190.03" y1="349.30" x2="190.03" y2="351.70" stroke="#000" stroke-width="0.9" />
<line x1="203.50" y1="582.30" x2="203.50" y2="579.90" stroke="#000" stroke-width="0.9" />
<line x1="203.50" y1="349.30" x2="203.50" y2="351.70" stroke="#000" stroke-width="0.9" />
<line x1="213.06" y1="582.30" x2="213.06" y2="579.90" stroke="#000" stroke-width="0.9" />
<line x1="213.06" y1="349.30" x2="213.06" y2="351.70" stroke="#000" stroke-width="0.9" />
<line x1="220.47" y1="582.30" x2="220.47" y2="579.90" stroke="#000" stroke-width="0.9" />
<line x1="220.47" y1="349.30" x2="220.47" y2="351.70" stroke="#000" stroke-width="0.9" />
<line x1="226.53" y1="582.30" x2="226.53" y2="579.90" stroke="#000" stroke-width="0.9" />
<line x1="226.53" y1="349.30" x2="226.53" y2="351.70" stroke="#000" stroke-width="0.9" />
<line x1="231.65" y1="582.30" x2="231.65" y2="579.90" stroke="#000" stroke-width="0.9" />
<line x1="231.65" y1="349.30" x2="231.65" y2="351.70" stroke="#000" stroke-width="0.9" />
<line x1="236.09" y1="582.30" x2="236.09" y2="579.90" stroke="#000" stroke-width="0.9" />
<line x1="236.09" y1="349.30" x2="236.09" y2="351.70" stroke="#000" stroke-width="0.9" />
<line x1="240.00" y1="582.30" x2="240.00" y2="579.90" stroke="#000" stroke-width="0.9" />
<line x1="240.00" y1="349.30" x2="240.00" y2="351.70" stroke="#000" stroke-width="0.9" />
<line x1="266.53" y1="582.30" x2="266.53" y2="579.90" stroke="#000" stroke-width="0.9" />
<line x1="266.53" y1="349.30" x2="266.53" y2="351.70" stroke="#000" stroke-width="0.9" />
<line x1="280.00" y1="582.30" x2="280.00" y2="579.90" stroke="#000" stroke-width="0.9" />
<line x1="280.00" y1="349.30" x2="280.00" y2="351.70" stroke="#000" stroke-width="0.9" />
<line x1="50.50" y1="569.70" x2="55.30" y2="569.70" stroke="#000" stroke-width="0.9" />
<line x1="283.50" y1="569.70" x2="278.70" y2="569.70" stroke="#000" stroke-width="0.9" />
<line x1="50.50" y1="520.06" x2="55.30" y2="520.06" stroke="#000" stroke-width="0.9" />
<line x1="283.50" y1="520.06" x2="278.70" y2="520.06" stroke="#000" stroke-width="0.9" />
<line x1="50.50" y1="470.42" x2="55.30" y2="470.42" stroke="#000" stroke-width="0.9" />
<line x1="283.50" y1="470.42" x2="278.70" y2="470.42" stroke="#000" stroke-width="0.9" />
<line x1="50.50" y1="420.78" x2="55.30" y2="420.78" stroke="#000" stroke-width="0.9" />
<line x1="283.50" y1="420.78" x2="278.70" y2="420.78" stroke="#000" stroke-width="0.9" />
<line x1="50.50" y1="371.14" x2="55.30" y2="371.14" stroke="#000" stroke-width="0.9" />
<line x1="283.50" y1="371.14" x2="278.70" y2="371.14" stroke="#000" stroke-width="0.9" />
<line x1="50.50" y1="557.29" x2="52.90" y2="557.29" stroke="#000" stroke-width="0.9" />
<line x1="283.50" y1="557.29" x2="281.10" y2="557.29" stroke="#000" stroke-width="0.9" />
<line x1="50.50" y1="544.88" x2="52.90" y2="544.88" stroke="#000" stroke-width="0.9" />
<line x1="283.50" y1="544.88" x2="281.10" y2="544.88" stroke="#000" stroke-width="0.9" />
<line x1="50.50" y1="532.47" x2="52.90" y2="532.47" stroke="#000" stroke-width="0.9" />
<line x1="283.50" y1="532.47" x2="281.10" y2="532.47" stroke="#000" stroke-width="0.9" />
<line x1="50.50" y1="507.65" x2="52.90" y2="507.65" stroke="#000" stroke-width="0.9" />
<line x1="283.50" y1="507.65" x2="281.10" y2="507.65" stroke="#000" stroke-width="0.9" />
<line x1="50.50" y1="495.24" x2="52.90" y2="495.24" stroke="#000" stroke-width="0.9" />
<line x1="283.50" y1="495.24" x2="281.10" y2="495.24" stroke="#000" stroke-width="0.9" />
<line x1="50.50" y1="482.83" x2="52.90" y2="482.83" stroke="#000" stroke-width="0.9" />
<line x1="283.50" y1="482.83" x2="281.10" y2="482.83" stroke="#000" stroke-width="0.9" />
<line x1="50.50" y1="458.01" x2="52.90" y2="458.01" stroke="#000" stroke-width="0.9" />
<line x1="283.50" y1="458.01" x2="281.10" y2="458.01" stroke="#000" stroke-width="0.9" />
<line x1="50.50" y1="445.60" x2="52.90" y2="445.60" stroke="#000" stroke-width="0.9" />
<line x1="283.50" y1="445.60" x2="281.10" y2="445.60" stroke="#000" stroke-width="0.9" />
<line x1="50.50" y1="433.19" x2="52.90" y2="433.19" stroke="#000" stroke-width="0.9" />
<line x1="283.50" y1="433.19" x2="281.10" y2="433.19" stroke="#000" stroke-width="0.9" />
<line x1="50.50" y1="408.37" x2="52.90" y2="408.37" stroke="#000" stroke-width="0.9" />
<line x1="283.50" y1="408.37" x2="281.10" y2="408.37" stroke="#000" stroke-width="0.9" />
<line x1="50.50" y1="395.96" x2="52.90" y2="395.96" stroke="#000" stroke-width="0.9" />
<line x1="283.50" y1="395.96" x2="281.10" y2="395.96" stroke="#000" stroke-width="0.9" />
<line x1="50.50" y1="383.55" x2="52.90" y2="383.55" stroke="#000" stroke-width="0.9" />
<line x1="283.50" y1="383.55" x2="281.10" y2="383.55" stroke="#000" stroke-width="0.9" />
<line x1="50.50" y1="358.73" x2="52.90" y2="358.73" stroke="#000" stroke-width="0.9" />
<line x1="283.50" y1="358.73" x2="281.10" y2="358.73" stroke="#000" stroke-width="0.9" />
<rect x="346.50" y="349.30" width="233.00" height="233.00" fill="none" stroke="#000" stroke-width="0.9"/>
<line x1="386.50" y1="582.30" x2="386.50" y2="577.50" stroke="#000" stroke-width="0.9" />
<line x1="386.50" y1="349.30" x2="386.50" y2="354.10" stroke="#000" stroke-width="0.9" />
<line x1="463.00" y1="582.30" x2="463.00" y2="577.50" stroke="#000" stroke-width="0.9" />
<line x1="463.00" y1="349.30" x2="463.00" y2="354.10" stroke="#000" stroke-width="0.9" />
<line x1="539.50" y1="582.30" x2="539.50" y2="577.50" stroke="#000" stroke-width="0.9" />
<line x1="539.50" y1="349.30" x2="539.50" y2="354.10" stroke="#000" stroke-width="0.9" />
<line x1="356.06" y1="582.30" x2="356.06" y2="579.90" stroke="#000" stroke-width="0.9" />
<line x1="356.06" y1="349.30" x2="356.06" y2="351.70" stroke="#000" stroke-width="0.9" />
<line x1="363.47" y1="582.30" x2="363.47" y2="579.90" stroke="#000" stroke-width="0.9" />
<line x1="363.47" y1="349.30" x2="363.47" y2="351.70" stroke="#000" stroke-width="0.9" />
<line x1="369.53" y1="582.30" x2="369.53" y2="579.90" stroke="#000" stroke-width="0.9" />
<line x1="369.53" y1="349.30" x2="369.53" y2="351.70" stroke="#000" stroke-width="0.9" />
<line x1="374.65" y1="582.30" x2="374.65" y2="579.90" stroke="#000" stroke-width="0.9" />
<line x1="374.65" y1="349.30" x2="374.65" y2="351.70" stroke="#000" stroke-width="0.9" />
<line x1="379.09" y1="582.30" x2="379.09" y2="579.90" stroke="#000" stroke-width="0.9" />
<line x1="379.09" y1="349.30" x2="379.09" y2="351.70" stroke="#000" stroke-width="0.9" />
<line x1="383.00" y1="582.30" x2="383.00" y2="579.90" stroke="#000" stroke-width="0.9" />
<line x1="383.00" y1="349.30" x2="383.00" y2="351.70" stroke="#000" stroke-width="0.9" />
<line x1="409.53" y1="582.30" x2="409.53" y2="579.90" stroke="#000" stroke-width="0.9" />
<line x1="409.53" y1="349.30" x2="409.53" y2="351.70" stroke="#000" stroke-width="0.9" />
<line x1="423.00" y1="582.30" x2="423.00" y2="579.90" stroke="#000" stroke-width="0.9" />
<line x1="423.00" y1="349.30" x2="423.00" y2="351.70" stroke="#000" stroke-width="0.9" />
<line x1="432.56" y1="582.30" x2="432.56" y2="579.90" stroke="#000" stroke-width="0.9" />
<line x1="432.56" y1="349.30" x2="432.56" y2="351.70" stroke="#000" stroke-width="0.9" />
<line x1="439.97" y1="582.30" x2="439.97" y2="579.90" stroke="#000" stroke-width="0.9" />
<line x1="439.97" y1="349.30" x2="439.97" y2="351.70" stroke="#000" stroke-width="0.9" />
<line x1="446.03" y1="582.30" x2="446.03" y2="579.90" stroke="#000" stroke-width="0.9" />
<line x1="446.03" y1="349.30" x2="446.03" y2="351.70" stroke="#000" stroke-width="0.9" />
<line x1="451.15" y1="582.30" x2="451.15" y2="579.90" stroke="#000" stroke-width="0.9" />
<line x1="451.15" y1="349.30" x2="451.15" y2="351.70" stroke="#000" stroke-width="0.9" />
<line x1="455.59" y1="582.30" x2="455.59" y2="579.90" stroke="#000" stroke-width="0.9" />
<line x1="455.59" y1="349.30" x2="455.59" y2="351.70" stroke="#000" stroke-width="0.9" />
<line x1="459.50" y1="582.30" x2="459.50" y2="579.90" stroke="#000" stroke-width="0.9" />
<line x1="459.50" y1="349.30" x2="459.50" y2="351.70" stroke="#000" stroke-width="0.9" />
<line x1="486.03" y1="582.30" x2="486.03" y2="579.90" stroke="#000" stroke-width="0.9" />
<line x1="486.03" y1="349.30" x2="486.03" y2="351.70" stroke="#000" stroke-width="0.9" />
<line x1="499.50" y1="582.30" x2="499.50" y2="579.90" stroke="#000" stroke-width="0.9" />
<line x1="499.50" y1="349.30" x2="499.50" y2="351.70" stroke="#000" stroke-width="0.9" />
<line x1="509.06" y1="582.30" x2="509.06" y2="579.90" stroke="#000" stroke-width="0.9" />
<line x1="509.06" y1="349.30" x2="509.06" y2="351.70" stroke="#000" stroke-width="0.9" />
<line x1="516.47" y1="582.30" x2="516.47" y2="579.90" stroke="#000" stroke-width="0.9" />
<line x1="516.47" y1="349.30" x2="516.47" y2="351.70" stroke="#000" stroke-width="0.9" />
<line x1="522.53" y1="582.30" x2="522.53" y2="579.90" stroke="#000" stroke-width="0.9" />
<line x1="522.53" y1="349.30" x2="522.53" y2="351.70" stroke="#000" stroke-width="0.9" />
<line x1="527.65" y1="582.30" x2="527.65" y2="579.90" stroke="#000" stroke-width="0.9" />
<line x1="527.65" y1="349.30" x2="527.65" y2="351.70" stroke="#000" stroke-width="0.9" />
<line x1="532.09" y1="582.30" x2="532.09" y2="579.90" stroke="#000" stroke-width="0.9" />
<line x1="532.09" y1="349.30" x2="532.09" y2="351.70" stroke="#000" stroke-width="0.9" />
<line x1="536.00" y1="582.30" x2="536.00" y2="579.90" stroke="#000" stroke-width="0.9" />
<line x1="536.00" y1="349.30" x2="536.00" y2="351.70" stroke="#000" stroke-width="0.9" />
<line x1="562.53" y1="582.30" x2="562.53" y2="579.90" stroke="#000" stroke-width="0.9" />
<line x1="562.53" y1="349.30" x2="562.53" y2="351.70" stroke="#000" stroke-width="0.9" />
<line x1="576.00" y1="582.30" x2="576.00" y2="579.90" stroke="#000" stroke-width="0.9" />
<line x1="576.00" y1="349.30" x2="576.00" y2="351.70" stroke="#000" stroke-width="0.9" />
<line x1="346.50" y1="569.65" x2="351.30" y2="569.65" stroke="#000" stroke-width="0.9" />
<line x1="579.50" y1="569.65" x2="574.70" y2="569.65" stroke="#000" stroke-width="0.9" />
<line x1="346.50" y1="519.51" x2="351.30" y2="519.51" stroke="#000" stroke-width="0.9" />
<line x1="579.50" y1="519.51" x2="574.70" y2="519.51" stroke="#000" stroke-width="0.9" />
<line x1="346.50" y1="469.37" x2="351.30" y2="469.37" stroke="#000" stroke-width="0.9" />
<line x1="579.50" y1="469.37" x2="574.70" y2="469.37" stroke="#000" stroke-width="0.9" />
<line x1="346.50" y1="419.23" x2="351.30" y2="419.23" stroke="#000" stroke-width="0.9" />
<line x1="579.50" y1="419.23" x2="574.70" y2="419.23" stroke="#000" stroke-width="0.9" />
<line x1="346.50" y1="369.09" x2="351.30" y2="369.09" stroke="#000" stroke-width="0.9" />
<line x1="579.50" y1="369.09" x2="574.70" y2="369.09" stroke="#000" stroke-width="0.9" />
<line x1="346.50" y1="557.12" x2="348.90" y2="557.12" stroke="#000" stroke-width="0.9" />
<line x1="579.50" y1="557.12" x2="577.10" y2="557.12" stroke="#000" stroke-width="0.9" />
<line x1="346.50" y1="544.58" x2="348.90" y2="544.58" stroke="#000" stroke-width="0.9" />
<line x1="579.50" y1="544.58" x2="577.10" y2="544.58" stroke="#000" stroke-width="0.9" />
<line x1="346.50" y1="532.04" x2="348.90" y2="532.04" stroke="#000" stroke-width="0.9" />
<line x1="579.50" y1="532.04" x2="577.10" y2="532.04" stroke="#000" stroke-width="0.9" />
<line x1="346.50" y1="506.97" x2="348.90" y2="506.97" stroke="#000" stroke-width="0.9" />
<line x1="579.50" y1="506.97" x2="577.10" y2="506.97" stroke="#000" stroke-width="0.9" />
<line x1="346.50" y1="494.44" x2="348.90" y2="494.44" stroke="#000" stroke-width="0.9" />
<line x1="579.50" y1="494.44" x2="577.10" y2="494.44" stroke="#000" stroke-width="0.9" />
<line x1="346.50" y1="481.90" x2="348.90" y2="481.90" stroke="#000" stroke-width="0.9" />
<line x1="579.50" y1="481.90" x2="577.10" y2="481.90" stroke="#000" stroke-width="0.9" />
<line x1="346.50" y1="456.83" x2="348.90" y2="456.83" stroke="#000" stroke-width="0.9" />
<line x1="579.50" y1="456.83" x2="577.10" y2="456.83" stroke="#000" stroke-width="0.9" />
<line x1="346.50" y1="444.30" x2="348.90" y2="444.30" stroke="#000" stroke-width="0.9" />
<line x1="579.50" y1="444.30" x2="577.10" y2="444.30" stroke="#000" stroke-width="0.9" />
<line x1="346.50" y1="431.76" x2="348.90" y2="431.76" stroke="#000" stroke-width="0.9" />
<line x1="579.50" y1="431.76" x2="577.10" y2="431.76" stroke="#000" stroke-width="0.9" />
<line x1="346.50" y1="406.69" x2="348.90" y2="406.69" stroke="#000" stroke-width="0.9" />
<line x1="579.50" y1="406.69" x2="577.10" y2="406.69" stroke="#000" stroke-width="0.9" />
<line x1="346.50" y1="394.16" x2="348.90" y2="394.16" stroke="#000" stroke-width="0.9" />
<line x1="579.50" y1="394.16" x2="577.10" y2="394.16" stroke="#000" stroke-width="0.9" />
<line x1="346.50" y1="381.62" x2="348.90" y2="381.62" stroke="#000" stroke-width="0.9" />
<line x1="579.50" y1="381.62" x2="577.10" y2="381.62" stroke="#000" stroke-width="0.9" />
<line x1="346.50" y1="356.55" x2="348.90" y2="356.55" stroke="#000" stroke-width="0.9" />
<line x1="579.50" y1="356.55" x2="577.10" y2="356.55" stroke="#000" stroke-width="0.9" />
<path d="M111.5,562.3h0M109.4,550.3h0M92.6,525.6h0M111.3,568.8h0M110.5,563.8h0M108.8,545.5h0M115.3,533.1h0M110.4,501.3h0M107.8,551.6h0M102.2,568.8h0M116.3,523.5h0M113.8,564.3h0M116.4,567.0h0M101.4,549.4h0M106.0,508.1h0M116.9,568.8h0M78.8,531.7h0M85.3,532.2h0M107.1,564.5h0M108.1,567.8h0M115.6,566.3h0M117.1,541.1h0M110.1,542.4h0M116.7,435.3h0M115.3,568.4h0M114.6,560.7h0M117.0,538.1h0M111.3,519.1h0M111.7,562.0h0M99.6,559.7h0M110.3,547.8h0M107.5,499.9h0M110.7,553.0h0M106.9,539.5h0M111.4,538.3h0M114.2,538.8h0M59.4,501.0h0M65.2,535.9h0M99.7,548.3h0M105.5,542.0h0M113.7,511.3h0M114.8,557.4h0M114.0,523.3h0M116.6,544.2h0M103.4,535.1h0M112.4,552.3h0M99.3,518.2h0M112.6,545.5h0M87.0,540.9h0M99.3,512.5h0M117.3,557.4h0M115.0,526.5h0M94.2,539.2h0M111.2,528.5h0M79.7,507.0h0M112.4,538.3h0M116.5,529.9h0M107.8,551.4h0M102.9,569.1h0M114.3,566.3h0M116.4,557.4h0M113.4,490.7h0M85.5,551.5h0M103.7,548.1h0M116.1,516.6h0M114.6,538.9h0M116.3,555.8h0M116.7,497.6h0M102.0,566.6h0M115.4,546.5h0M109.4,524.8h0M111.6,544.1h0M115.3,567.7h0M104.7,569.5h0M115.9,555.1h0M107.4,558.4h0M116.1,543.0h0M112.1,529.6h0M115.0,562.6h0M114.3,530.5h0M83.4,541.5h0M101.7,547.0h0M113.8,560.2h0M96.6,542.7h0M115.0,494.4h0M112.5,518.8h0M98.9,531.4h0M107.5,569.2h0M116.3,540.0h0M73.9,540.4h0M115.0,560.5h0M114.4,565.4h0M103.1,565.7h0M113.5,529.6h0M113.9,553.7h0M116.5,542.7h0M116.4,520.8h0M108.9,490.8h0M114.6,529.3h0M108.5,513.2h0M112.8,523.7h0M111.5,533.6h0M86.7,557.0h0M111.0,549.1h0M109.1,562.3h0M98.0,528.8h0M115.3,569.6h0M115.7,525.0h0M94.4,556.7h0M101.0,542.5h0M114.5,540.1h0M115.3,564.2h0M104.4,555.4h0M90.3,530.0h0M115.2,534.4h0M88.6,552.8h0M96.8,552.2h0M108.4,561.9h0M112.0,545.4h0M116.2,546.0h0M116.9,515.9h0M85.8,540.1h0M114.7,554.5h0M105.6,524.0h0M114.4,535.7h0M100.7,562.8h0M108.6,563.8h0M114.0,497.9h0M115.4,526.2h0M105.1,495.0h0M116.6,539.9h0M114.8,541.0h0M109.4,566.1h0M99.0,538.9h0M108.2,544.8h0M114.1,461.3h0M93.4,538.8h0M115.1,548.3h0M117.1,532.6h0M114.3,542.7h0M111.6,541.1h0M116.7,565.1h0M115.4,561.6h0M112.9,568.0h0M109.2,557.9h0M115.9,552.2h0M113.0,569.3h0M96.1,517.9h0M79.6,547.5h0M107.0,561.4h0M106.0,538.5h0M108.9,563.9h0M115.8,547.2h0M116.9,539.4h0M117.1,554.2h0M94.2,484.1h0M105.7,545.3h0M85.8,543.6h0M117.1,538.8h0M107.6,532.7h0M111.0,544.2h0M104.7,515.9h0M113.6,511.6h0M70.4,528.6h0M109.7,558.2h0M104.5,523.8h0M95.2,518.3h0M104.5,555.7h0M105.6,562.2h0M102.2,537.7h0M93.7,553.3h0M113.1,565.4h0M106.2,515.0h0M95.2,543.1h0M97.7,541.8h0M112.1,564.7h0M102.3,521.2h0M98.2,567.7h0M109.1,547.6h0M107.9,547.5h0M112.7,548.6h0M108.9,549.1h0M108.3,552.4h0M116.5,558.2h0M107.5,517.3h0M69.4,538.8h0M97.0,556.9h0M104.8,527.5h0M112.6,556.2h0M104.6,552.7h0M109.0,516.2h0M111.7,525.8h0M99.8,557.7h0M116.4,533.5h0M104.0,525.1h0M117.0,566.2h0M108.5,560.6h0M111.0,564.6h0M114.8,541.1h0M105.8,559.3h0M110.7,547.7h0M108.2,566.6h0M93.1,505.3h0M114.4,558.1h0M117.2,561.2h0M113.9,535.5h0M106.4,550.0h0M115.1,530.2h0M115.5,536.1h0M94.7,564.2h0M107.0,531.3h0M111.7,553.5h0M96.0,547.1h0M113.5,529.8h0M106.8,544.1h0M115.2,553.8h0M111.9,569.2h0M101.6,537.7h0M93.8,550.8h0M97.0,562.2h0M112.6,540.0h0M108.9,567.4h0M113.6,565.5h0M115.9,533.2h0M110.7,529.2h0M99.9,504.4h0M99.2,569.0h0M105.4,506.4h0M88.6,524.9h0M114.2,540.3h0M115.5,533.3h0M111.5,557.7h0M114.2,513.2h0M115.0,567.4h0M112.2,520.9h0M107.9,546.3h0M110.8,568.6h0M113.7,560.4h0M99.8,568.7h0M78.8,529.3h0M111.5,551.3h0M116.5,567.0h0M117.0,558.6h0M97.6,555.5h0M116.9,527.6h0M105.5,536.5h0M109.2,552.3h0M113.7,554.0h0M102.3,564.2h0M117.1,517.8h0M115.9,550.8h0M111.5,515.7h0M117.0,527.6h0M100.3,547.3h0M114.7,540.2h0M115.8,547.0h0M116.8,567.8h0M107.8,566.9h0M111.6,564.8h0M107.8,554.7h0M107.1,567.9h0M101.5,563.9h0M86.9,535.6h0M106.2,524.2h0M115.1,561.5h0M111.1,563.4h0M115.4,531.0h0M117.2,511.1h0M111.2,552.3h0M105.3,567.7h0M115.4,516.9h0M114.2,513.3h0M113.2,535.4h0M105.8,502.8h0M110.2,528.6h0M108.2,553.6h0M103.8,548.3h0M112.5,532.3h0M102.3,515.4h0M94.6,563.1h0M116.4,549.0h0M91.5,522.2h0M105.0,545.3h0M115.9,564.3h0M111.5,566.1h0M107.9,567.5h0M94.3,563.2h0M112.8,550.4h0M109.2,486.7h0M97.1,545.4h0M102.0,555.4h0M89.7,545.3h0M111.3,546.9h0M107.2,516.2h0M115.1,557.3h0M105.0,567.2h0M101.0,539.9h0M107.5,542.8h0M105.2,552.7h0M115.0,535.1h0M127.9,547.5h0M128.9,525.1h0M128.9,561.6h0M123.6,564.4h0M126.7,562.5h0M121.1,564.6h0M128.1,555.3h0M127.4,547.2h0M121.4,564.9h0M118.3,529.1h0M122.5,490.5h0M123.8,506.0h0M126.4,521.0h0M123.1,532.0h0M117.6,545.9h0M126.9,557.5h0M118.0,520.8h0M126.8,540.1h0M119.3,545.9h0M121.2,545.4h0M126.6,505.3h0M118.9,515.3h0M119.0,543.9h0M123.4,535.0h0M125.9,544.6h0M127.2,533.3h0M125.4,564.0h0M128.5,559.8h0M123.1,528.0h0M128.5,552.4h0M118.3,529.5h0M119.9,565.4h0M123.5,501.4h0M120.7,553.3h0M125.9,525.2h0M124.9,562.0h0M123.5,569.6h0M127.3,563.9h0M123.9,513.6h0M121.0,510.8h0M121.8,542.1h0M127.3,556.6h0M128.0,547.9h0M119.7,561.6h0M127.4,529.6h0M128.8,557.7h0M123.5,542.7h0M124.1,529.3h0M119.7,456.8h0M123.6,521.9h0M123.2,516.8h0M124.5,560.1h0M117.6,567.4h0M128.8,563.3h0M123.4,550.8h0M122.0,514.3h0M126.8,564.4h0M123.9,554.8h0M123.1,546.6h0M125.5,534.4h0M118.1,566.2h0M123.7,516.5h0M122.2,569.3h0M128.6,563.0h0M128.2,522.5h0M120.5,516.5h0M122.9,561.6h0M118.8,551.0h0M122.4,565.4h0M126.9,555.9h0M128.0,556.0h0M122.9,568.9h0M121.0,565.1h0M119.5,561.0h0M124.6,567.2h0M128.2,536.7h0M118.8,554.9h0M126.5,568.0h0M117.5,566.8h0M119.6,564.5h0M120.0,563.3h0M125.4,517.1h0M121.1,513.6h0M121.5,563.8h0M124.6,460.3h0M118.5,553.6h0M125.9,561.2h0M118.7,544.3h0M123.3,553.2h0M120.2,549.1h0M119.6,560.0h0M123.6,564.1h0M122.5,563.4h0M121.7,541.7h0M122.2,556.4h0M123.6,555.8h0M119.2,567.0h0M119.7,528.8h0M124.8,555.3h0M124.8,560.5h0M123.6,553.2h0M127.4,506.4h0M124.5,564.3h0M127.4,556.1h0M120.0,559.7h0M126.1,540.0h0M126.9,541.1h0M128.0,483.5h0M121.0,550.4h0M121.0,551.5h0M128.2,513.0h0M119.9,536.0h0M129.1,501.1h0M127.8,536.9h0M118.9,542.9h0M120.1,550.3h0M125.9,526.5h0M120.4,526.2h0M118.4,535.1h0M127.1,526.2h0M122.3,550.3h0M126.6,553.7h0M118.8,559.5h0M122.1,552.7h0M125.4,564.1h0M117.5,548.7h0M119.7,554.8h0M125.4,559.1h0M128.1,484.6h0M128.8,561.0h0M118.6,559.1h0M123.3,559.4h0M126.3,534.5h0M123.2,563.8h0M125.4,564.7h0M119.5,540.4h0M118.1,559.0h0M118.5,548.0h0M117.7,553.6h0M123.8,547.5h0M123.4,518.5h0M124.0,492.8h0M119.0,532.3h0M119.5,551.9h0M119.7,560.5h0M127.2,556.2h0M129.0,459.8h0M128.3,566.2h0M118.4,549.1h0M118.0,560.8h0M128.6,516.3h0M122.8,529.4h0M126.3,478.9h0M121.2,546.5h0M122.8,533.7h0M123.4,511.6h0M122.4,543.6h0M124.4,557.6h0M117.4,551.4h0M125.6,568.2h0M127.3,516.1h0M119.4,534.0h0M122.7,558.0h0M126.0,532.1h0M122.1,555.8h0M119.6,565.2h0M119.2,530.3h0M123.4,545.3h0M117.5,565.9h0M127.9,503.9h0M126.8,519.6h0M125.6,550.6h0M127.5,464.7h0M124.7,560.9h0M122.1,557.2h0M124.4,508.5h0M123.3,517.2h0M128.9,474.6h0M126.8,564.9h0M120.3,555.0h0M128.1,496.9h0M126.1,525.0h0M126.5,552.7h0M126.9,556.9h0M122.1,568.0h0M127.9,506.8h0M127.7,568.7h0M125.5,553.9h0M126.4,544.0h0M126.3,548.5h0M122.1,544.1h0M125.8,526.4h0M118.1,569.0h0M121.3,551.8h0M122.8,490.3h0M117.4,567.0h0M121.5,540.4h0M124.8,560.9h0M124.7,504.8h0M120.0,533.4h0M128.5,540.5h0M125.2,527.9h0M121.3,520.8h0M125.1,557.2h0M124.0,526.0h0M123.6,563.3h0M121.9,528.9h0M129.1,537.8h0M124.9,498.3h0M125.6,529.5h0M126.3,557.7h0M128.9,508.1h0M117.5,566.8h0M124.6,557.1h0M126.0,551.0h0M120.3,488.3h0M122.0,564.7h0M117.9,526.0h0M119.6,548.8h0M121.7,554.5h0M118.4,533.5h0M120.2,500.4h0M128.0,568.4h0M123.8,561.5h0M123.3,504.3h0M128.7,552.4h0M124.0,545.9h0M129.1,564.9h0M124.8,528.3h0M126.9,518.8h0M118.2,533.2h0M124.4,527.9h0M126.3,565.9h0M117.8,518.4h0M128.3,567.2h0M119.2,561.7h0M122.9,555.1h0M119.3,546.3h0M123.2,535.7h0M124.5,562.1h0M118.0,568.8h0M128.5,553.1h0M122.3,497.8h0M123.5,540.1h0M124.4,565.1h0M121.6,536.0h0M120.7,568.1h0M125.0,564.4h0M123.9,567.9h0M120.6,482.3h0M125.8,569.6h0M120.8,542.6h0M117.4,566.6h0M120.2,498.1h0M117.8,530.6h0M119.1,548.6h0M126.2,529.5h0M121.9,526.9h0M127.9,521.6h0M126.1,528.1h0M117.9,537.8h0M129.0,565.2h0M128.5,549.7h0M118.1,561.2h0M128.0,532.9h0M122.4,568.5h0M122.9,553.8h0M128.8,569.0h0M120.2,552.7h0M123.5,522.3h0M128.4,556.6h0M125.8,550.1h0M122.8,517.4h0M128.9,503.6h0M127.0,521.5h0M124.4,564.3h0M118.6,558.8h0M124.7,530.3h0M122.7,542.5h0M119.7,516.4h0M117.9,537.6h0M123.5,550.2h0M118.7,447.0h0M122.5,540.1h0M125.2,471.9h0M122.7,469.0h0M120.4,524.7h0M124.2,557.9h0M122.2,513.9h0M126.5,560.6h0M123.6,526.2h0M129.1,554.7h0M128.6,530.0h0M126.0,551.0h0M120.1,552.6h0M118.6,524.0h0M127.9,515.5h0M126.6,569.4h0M124.7,566.0h0M121.5,509.8h0M131.3,482.6h0M134.5,539.4h0M133.6,556.2h0M133.8,562.7h0M134.1,559.7h0M135.1,552.4h0M130.6,556.5h0M131.1,568.5h0M136.9,557.9h0M136.3,503.9h0M136.1,527.1h0M129.4,544.4h0M129.6,535.7h0M131.3,559.0h0M132.5,518.9h0M134.0,542.9h0M129.9,494.2h0M133.4,550.7h0M129.7,555.7h0M129.8,519.2h0M134.5,519.2h0M133.5,569.6h0M134.1,550.1h0M132.1,503.3h0M132.9,506.6h0M130.8,541.9h0M131.8,504.1h0M135.0,561.3h0M135.7,558.4h0M129.7,556.9h0M130.1,536.5h0M135.5,560.0h0M134.0,543.3h0M135.2,556.0h0M130.8,505.0h0M132.5,568.9h0M131.2,501.2h0M135.5,560.1h0M132.0,538.6h0M134.3,548.3h0M136.9,566.5h0M131.7,563.2h0M133.5,523.3h0M135.0,526.2h0M136.4,535.1h0M132.5,531.1h0M132.0,468.9h0M129.9,564.0h0M136.0,545.0h0M129.8,557.3h0M129.8,563.2h0M133.6,555.8h0M133.0,488.2h0M134.5,566.7h0M131.5,565.4h0M135.2,533.9h0M129.7,564.0h0M130.8,525.9h0M134.3,553.9h0M129.8,567.8h0M131.5,555.8h0M134.8,477.9h0M134.6,558.7h0M131.4,513.0h0M130.3,543.5h0M132.0,538.6h0M134.9,547.0h0M132.0,465.9h0M130.1,550.4h0M134.7,533.3h0M133.6,512.7h0M136.4,530.3h0M136.5,529.6h0M136.3,541.2h0M132.6,449.0h0M135.5,535.6h0M131.5,513.1h0M131.6,502.7h0M132.3,517.8h0M136.5,569.6h0M136.2,565.7h0M131.1,566.8h0M132.0,560.5h0M132.0,524.7h0M132.0,547.2h0M132.2,525.7h0M132.2,532.3h0M130.7,553.2h0M133.6,533.3h0M135.4,566.4h0M133.4,567.8h0M135.7,539.6h0M133.6,483.0h0M130.5,555.1h0M135.1,497.6h0M136.1,519.9h0M131.4,568.3h0M129.3,555.0h0M133.2,556.6h0M133.4,518.4h0M133.6,510.7h0M136.7,534.7h0M134.3,552.2h0M135.5,557.9h0M129.6,558.9h0M133.4,552.7h0M135.3,489.6h0M129.8,504.7h0M129.8,562.4h0M134.9,551.8h0M136.2,493.9h0M129.8,567.9h0M134.1,562.6h0M130.3,567.6h0M135.0,454.3h0M134.2,553.6h0M131.1,559.0h0M130.9,545.1h0M135.2,504.8h0M133.2,554.9h0M135.2,463.1h0M132.2,566.4h0M131.8,554.9h0M136.8,567.9h0M134.4,538.1h0M133.0,560.6h0M133.4,499.1h0M134.8,559.1h0M134.7,549.3h0M136.3,501.7h0M132.4,527.4h0M135.6,525.3h0M134.4,561.6h0M135.9,538.9h0M135.5,551.4h0M135.7,568.4h0M136.1,533.9h0M136.7,522.6h0M134.2,528.1h0M133.3,564.2h0M134.7,543.5h0M135.5,506.6h0M132.5,550.4h0M132.4,410.5h0M130.3,557.3h0M135.0,480.0h0M136.9,528.7h0M132.1,489.5h0M130.5,548.9h0M130.7,542.2h0M132.5,548.2h0M131.4,456.1h0M136.8,546.0h0M129.6,544.2h0M131.6,531.4h0M130.0,533.1h0M134.2,556.2h0M135.2,556.4h0M130.5,567.6h0M129.6,531.4h0M132.7,522.2h0M133.7,500.8h0M136.3,569.2h0M129.4,568.8h0M130.0,541.4h0M130.6,543.7h0M130.8,568.1h0M131.0,545.4h0M134.8,541.7h0M133.8,559.4h0M130.9,535.6h0M130.6,564.2h0M131.3,509.9h0M130.5,546.7h0M135.1,560.8h0M131.6,565.3h0M133.5,569.1h0M135.6,515.3h0M132.9,537.6h0M131.2,541.2h0M136.1,519.4h0M136.3,538.8h0M131.8,565.5h0M133.4,546.6h0M136.7,539.6h0M132.9,432.7h0M130.9,564.2h0M129.5,544.4h0M136.6,538.6h0M135.4,562.7h0M132.2,542.3h0M133.3,465.5h0M133.2,552.3h0M131.3,494.4h0M136.9,532.6h0M134.3,564.4h0M131.0,543.9h0M129.2,565.5h0M132.9,511.0h0M132.1,515.7h0M135.4,562.0h0M134.8,553.5h0M133.9,565.8h0M130.4,565.6h0M130.4,541.2h0M131.7,566.2h0M131.2,550.1h0M136.0,552.4h0M133.2,529.1h0M134.2,523.9h0M137.0,544.0h0M131.2,541.1h0M133.3,545.0h0M130.3,557.6h0M135.2,554.5h0M129.1,562.5h0M135.6,547.5h0M135.8,555.7h0M135.6,514.4h0M129.8,547.6h0M131.3,566.1h0M134.8,537.9h0M129.9,560.7h0M132.9,544.5h0M132.8,541.1h0M136.7,565.2h0M133.8,530.6h0M135.9,551.1h0M131.5,532.2h0M135.4,542.2h0M132.4,509.0h0M136.4,546.2h0M129.8,557.0h0M135.6,557.6h0M130.8,568.9h0M133.4,554.2h0M133.3,521.9h0M130.4,566.5h0M135.7,484.6h0M131.6,559.9h0M131.6,464.5h0M129.7,543.6h0M131.5,564.5h0M132.8,537.2h0M134.8,555.3h0M132.0,567.1h0M134.5,565.6h0M130.0,523.5h0M132.2,565.5h0M132.8,535.9h0M136.8,567.9h0M135.7,561.1h0M134.3,526.7h0M129.2,526.1h0M132.1,561.4h0M134.7,565.1h0M131.0,554.0h0M133.6,524.7h0M132.7,484.8h0M129.2,554.8h0M136.9,526.1h0M135.4,562.3h0M130.8,529.6h0M134.0,562.6h0M131.4,559.5h0M132.1,561.5h0M133.4,546.4h0M131.5,546.5h0M131.8,547.7h0M132.2,564.4h0M134.4,561.7h0M131.2,499.7h0M130.7,553.1h0M134.9,515.3h0M131.7,553.6h0M136.6,543.9h0M133.6,552.0h0M134.8,531.2h0M131.7,548.2h0M135.6,554.8h0M129.9,544.8h0M130.2,521.0h0M129.9,555.8h0M134.5,561.1h0M134.7,536.8h0M130.5,524.3h0M132.3,544.7h0M135.7,539.0h0M133.8,527.9h0M129.8,501.6h0M130.9,552.9h0M130.4,542.1h0M130.1,559.1h0M132.3,511.1h0M129.7,531.3h0M136.4,529.2h0M132.5,552.2h0M133.2,563.1h0M134.2,555.5h0M135.2,515.3h0M142.2,511.7h0M139.4,513.1h0M139.1,545.3h0M139.6,517.9h0M137.1,502.8h0M139.5,542.6h0M141.4,520.0h0M143.2,533.9h0M142.0,543.3h0M141.2,537.4h0M140.8,560.7h0M137.1,520.5h0M139.1,516.1h0M139.2,562.0h0M141.1,430.6h0M137.7,561.6h0M139.4,569.7h0M140.2,547.8h0M142.0,566.1h0M142.2,554.7h0M140.8,558.6h0M138.0,536.0h0M141.8,566.7h0M142.7,544.8h0M140.5,563.0h0M139.2,548.9h0M140.2,405.6h0M137.9,512.1h0M141.5,559.3h0M143.2,500.0h0M140.2,510.0h0M141.5,521.4h0M142.3,519.0h0M138.2,552.8h0M142.9,562.0h0M140.9,528.7h0M138.3,547.1h0M137.5,548.5h0M138.5,553.7h0M140.6,568.5h0M141.4,532.8h0M139.1,559.6h0M142.8,556.7h0M139.3,564.8h0M139.9,520.4h0M137.8,558.0h0M143.1,555.2h0M137.9,551.8h0M142.7,549.1h0M140.4,542.8h0M140.5,550.1h0M140.5,449.2h0M138.7,568.0h0M142.7,565.2h0M143.2,556.3h0M142.1,568.1h0M140.8,540.7h0M137.8,534.1h0M142.2,546.1h0M138.8,561.5h0M142.6,555.1h0M138.5,526.7h0M140.6,536.3h0M142.2,529.0h0M138.2,531.4h0M140.4,567.0h0M137.5,525.8h0M137.2,525.7h0M138.1,551.6h0M143.2,560.1h0M142.9,521.4h0M141.1,568.7h0M138.9,507.5h0M141.2,538.0h0M141.6,529.5h0M139.4,505.0h0M140.7,556.9h0M142.1,547.0h0M137.1,566.7h0M138.3,549.5h0M139.9,550.7h0M137.9,542.9h0M139.4,544.3h0M140.6,540.3h0M138.1,551.2h0M140.3,489.3h0M138.7,514.1h0M140.6,538.3h0M139.1,545.6h0M141.0,563.5h0M137.2,563.0h0M141.2,542.3h0M137.9,490.4h0M143.0,502.2h0M140.8,476.0h0M140.0,524.2h0M139.6,490.4h0M140.9,509.8h0M141.3,555.9h0M141.8,534.0h0M141.7,544.1h0M140.1,443.1h0M143.3,559.0h0M142.3,522.9h0M142.4,544.0h0M139.6,562.4h0M139.7,523.6h0M140.6,515.6h0M142.7,565.2h0M140.3,523.2h0M140.3,550.9h0M139.7,558.8h0M142.7,548.4h0M139.0,515.3h0M137.4,567.1h0M141.6,564.5h0M142.7,565.8h0M141.6,501.4h0M140.8,554.9h0M141.7,527.4h0M138.9,508.1h0M140.7,562.2h0M137.4,537.9h0M137.8,530.7h0M139.8,534.3h0M140.2,545.1h0M139.5,551.2h0M137.3,540.7h0M141.4,556.1h0M140.3,560.2h0M138.5,561.3h0M138.9,558.6h0M139.5,508.1h0M138.5,483.2h0M137.4,557.9h0M142.7,431.1h0M143.1,528.3h0M141.2,553.7h0M142.4,542.3h0M139.7,540.3h0M142.1,535.8h0M138.4,508.6h0M141.7,517.6h0M140.6,559.1h0M142.7,527.6h0M137.6,482.3h0M142.0,504.9h0M137.8,508.8h0M140.4,567.6h0M143.0,521.0h0M137.0,537.9h0M138.5,501.8h0M138.9,547.5h0M139.0,523.7h0M137.4,537.0h0M142.6,563.8h0M142.1,546.0h0M139.5,554.0h0M139.2,540.5h0M140.7,563.0h0M137.3,513.0h0M137.2,513.5h0M142.6,546.9h0M138.9,566.4h0M140.1,566.7h0M142.9,556.0h0M143.1,524.4h0M140.0,563.4h0M138.3,521.5h0M138.9,565.7h0M142.8,564.0h0M142.6,546.8h0M138.2,508.3h0M142.3,568.4h0M139.2,542.0h0M140.0,545.6h0M138.1,528.8h0M142.5,568.1h0M143.3,544.9h0M138.3,535.6h0M141.0,559.9h0M138.2,544.6h0M142.5,556.2h0M137.3,563.6h0M137.7,554.4h0M141.6,531.4h0M139.0,483.3h0M142.7,521.9h0M142.5,551.6h0M141.5,565.6h0M137.9,527.0h0M141.4,547.2h0M142.9,547.3h0M139.8,563.0h0M137.5,551.7h0M138.4,562.9h0M138.9,548.7h0M141.5,550.7h0M138.2,558.8h0M138.1,541.3h0M138.5,508.3h0M141.2,515.8h0M142.0,566.9h0M139.3,561.8h0M141.2,547.4h0M142.6,492.6h0M140.7,568.8h0M138.4,520.2h0M138.9,517.8h0M142.8,556.0h0M141.2,542.1h0M138.7,563.2h0M141.0,538.8h0M137.6,509.3h0M143.2,541.6h0M139.8,519.6h0M140.3,560.8h0M140.3,508.4h0M137.3,530.2h0M140.8,552.9h0M138.8,528.6h0M138.6,552.7h0M142.1,501.4h0M137.6,519.2h0M138.8,559.6h0M141.8,478.7h0M138.6,559.1h0M138.8,565.7h0M140.5,517.0h0M138.2,538.2h0M142.6,524.8h0M143.2,565.1h0M137.2,546.5h0M139.9,532.4h0M141.7,518.1h0M139.4,555.6h0M142.8,536.7h0M140.1,543.9h0M138.1,509.1h0M140.5,552.3h0M141.1,542.0h0M139.3,557.3h0M141.1,569.4h0M141.9,509.7h0M140.3,566.5h0M140.2,541.1h0M142.3,540.8h0M141.3,553.8h0M140.3,542.5h0M143.0,499.4h0M138.1,534.7h0M141.9,563.3h0M138.0,559.4h0M140.8,519.3h0M138.5,565.9h0M139.8,568.9h0M141.9,568.6h0M141.9,557.5h0M142.0,521.2h0M138.5,556.3h0M140.1,526.2h0M138.4,538.0h0M140.7,564.9h0M140.1,513.3h0M137.2,534.6h0M140.8,564.0h0M141.5,568.7h0M140.6,557.1h0M142.5,553.7h0M138.1,537.7h0M138.0,551.2h0M137.1,509.0h0M140.1,467.1h0M139.7,429.7h0M139.8,531.6h0M138.7,544.9h0M142.0,443.5h0M137.5,563.8h0M142.7,540.7h0M140.6,566.7h0M140.4,555.8h0M142.0,538.8h0M138.5,510.9h0M137.9,514.1h0M139.0,553.0h0M137.3,516.8h0M139.0,538.8h0M140.9,546.3h0M140.3,536.9h0M138.7,555.7h0M140.7,565.7h0M137.6,448.2h0M142.2,449.0h0M138.1,553.6h0M138.6,547.8h0M138.0,533.5h0M141.3,534.2h0M142.2,555.5h0M141.9,556.0h0M137.4,466.3h0M146.0,549.6h0M145.7,539.8h0M144.7,569.0h0M149.7,554.6h0M143.6,551.9h0M146.5,544.2h0M148.3,569.3h0M149.8,522.1h0M144.2,541.5h0M146.3,547.0h0M148.2,552.7h0M143.5,528.2h0M144.9,558.7h0M149.1,568.9h0M144.2,531.1h0M145.9,556.0h0M145.2,506.0h0M146.1,511.1h0M143.8,544.2h0M143.5,538.1h0M149.8,521.4h0M148.3,525.4h0M148.1,563.6h0M144.8,506.4h0M145.0,484.2h0M146.9,545.6h0M144.9,553.0h0M146.3,539.3h0M149.4,556.5h0M145.7,563.6h0M145.5,531.6h0M149.7,552.9h0M147.3,521.7h0M143.5,533.0h0M145.9,569.6h0M147.6,552.6h0M143.7,542.1h0M145.5,535.1h0M147.9,565.1h0M149.0,567.0h0M147.2,567.0h0M149.1,556.3h0M146.3,554.1h0M145.9,541.1h0M148.8,548.9h0M145.8,519.2h0M148.4,556.8h0M144.7,555.6h0M145.6,533.8h0M144.5,566.4h0M146.9,493.9h0M144.4,531.9h0M144.6,558.2h0M144.7,531.8h0M146.4,568.6h0M145.3,540.1h0M146.2,565.6h0M149.8,530.8h0M147.8,567.1h0M149.0,532.7h0M144.6,526.3h0M145.8,469.4h0M143.8,526.7h0M147.8,563.9h0M145.7,517.1h0M145.1,567.9h0M143.4,540.8h0M144.5,529.2h0M145.0,567.2h0M145.9,505.5h0M149.4,565.9h0M148.0,559.9h0M145.1,541.9h0M145.7,553.0h0M144.3,520.8h0M149.4,553.1h0M145.7,538.5h0M148.3,516.2h0M148.0,514.3h0M149.3,475.6h0M143.4,537.6h0M145.4,563.9h0M145.8,514.5h0M143.8,526.6h0M149.1,503.3h0M145.4,560.9h0M148.4,548.1h0M146.7,543.4h0M143.6,551.9h0M145.9,543.1h0M144.9,542.5h0M143.6,491.2h0M144.3,535.1h0M147.2,548.3h0M143.5,561.6h0M145.3,524.1h0M146.1,513.4h0M146.9,560.9h0M144.2,526.1h0M147.9,535.6h0M145.0,542.2h0M148.1,534.6h0M147.7,543.8h0M144.3,490.3h0M144.6,561.1h0M145.1,567.5h0M148.0,550.8h0M146.0,502.0h0M145.8,537.1h0M149.0,569.6h0M144.8,471.8h0M145.2,529.2h0M145.6,563.8h0M144.7,554.5h0M143.6,551.1h0M143.4,555.6h0M147.4,538.1h0M147.0,551.8h0M148.6,521.9h0M149.7,519.6h0M145.2,509.1h0M147.7,552.7h0M149.3,531.5h0M144.7,568.9h0M147.8,548.5h0M147.7,470.9h0M149.6,567.0h0M149.0,537.3h0M144.8,545.6h0M147.4,544.9h0M143.9,568.0h0M146.1,507.0h0M145.9,533.9h0M143.7,505.0h0M145.8,558.3h0M145.4,557.5h0M146.6,541.5h0M145.1,537.3h0M144.3,547.5h0M145.9,560.7h0M146.4,566.0h0M144.4,555.9h0M147.7,563.3h0M144.9,532.6h0M143.9,552.9h0M145.5,506.8h0M146.1,519.0h0M144.3,488.9h0M147.1,550.2h0M147.9,560.5h0M146.9,545.0h0M147.9,556.2h0M143.4,523.4h0M145.9,555.1h0M145.7,484.6h0M143.7,520.2h0M145.9,563.9h0M143.6,559.7h0M146.5,548.9h0M147.1,537.0h0M146.4,518.3h0M145.4,563.4h0M145.0,496.8h0M143.4,568.4h0M145.6,566.1h0M149.2,516.1h0M147.0,533.7h0M145.0,537.3h0M147.7,556.9h0M144.5,529.4h0M146.4,504.0h0M147.3,565.9h0M149.6,527.4h0M145.7,545.8h0M147.1,543.8h0M149.5,562.1h0M148.4,567.6h0M147.4,567.1h0M147.4,561.5h0M146.0,562.5h0M146.0,533.6h0M145.1,565.7h0M148.7,563.4h0M149.1,560.5h0M145.8,557.1h0M149.3,568.5h0M143.5,554.1h0M144.2,529.1h0M146.6,563.0h0M145.3,558.8h0M145.7,543.4h0M149.7,563.2h0M144.3,568.3h0M144.6,520.1h0M144.8,529.3h0M147.8,563.7h0M144.8,555.5h0M143.3,565.4h0M146.9,506.9h0M145.9,528.9h0M144.9,551.2h0M146.5,531.8h0M147.6,517.2h0M146.9,504.5h0M147.4,559.5h0M147.0,557.8h0M148.8,565.0h0M149.7,564.6h0M145.5,534.6h0M145.6,491.4h0M149.1,565.1h0M145.3,566.1h0M148.0,566.5h0M147.9,547.2h0M147.8,503.9h0M149.6,529.7h0M148.7,540.3h0M144.3,563.2h0M147.4,552.2h0M146.5,517.0h0M147.0,514.5h0M145.7,490.2h0M145.2,557.7h0M148.2,503.5h0M146.8,549.4h0M144.8,560.5h0M144.9,524.9h0M145.4,545.1h0M144.5,564.0h0M146.7,545.4h0M144.1,549.6h0M143.7,562.7h0M143.7,560.4h0M144.0,556.6h0M147.9,518.3h0M144.0,561.7h0M146.3,502.3h0M148.4,474.0h0M146.4,473.9h0M144.4,476.2h0M149.0,556.7h0M149.0,559.6h0M143.6,457.6h0M145.0,515.7h0M146.6,541.6h0M148.5,510.1h0M145.9,550.6h0M148.0,568.1h0M144.9,562.1h0M148.0,527.2h0M145.4,531.8h0M145.5,568.8h0M148.3,522.5h0M148.8,558.8h0M148.7,529.5h0M147.0,559.9h0M146.1,557.7h0M147.9,495.4h0M147.4,533.6h0M148.8,568.6h0M148.6,526.5h0M144.1,564.7h0M145.8,544.7h0M147.7,560.9h0M144.8,567.8h0M144.5,549.7h0M143.4,529.3h0M147.1,538.3h0M149.5,542.4h0M149.7,529.6h0M144.2,534.2h0M147.8,548.3h0M146.0,449.8h0M147.4,494.7h0M145.9,563.7h0M149.4,555.2h0M149.8,544.1h0M143.6,559.8h0M148.0,564.1h0M144.1,543.6h0M143.6,556.9h0M145.2,512.9h0M148.1,527.1h0M149.8,528.3h0M144.1,565.8h0M145.5,521.0h0M143.5,553.2h0M146.9,533.3h0M146.5,560.9h0M145.7,556.2h0M145.3,523.5h0M148.6,564.9h0M148.8,539.1h0M145.2,547.8h0M145.9,562.8h0M147.3,565.9h0M148.3,566.7h0M149.7,472.2h0M145.8,533.9h0M147.9,567.8h0M153.7,493.6h0M155.4,559.4h0M150.9,536.9h0M151.1,551.2h0M150.6,545.4h0M156.4,564.6h0M151.6,557.3h0M153.3,557.1h0M150.7,558.5h0M152.1,541.8h0M150.0,505.6h0M153.8,527.2h0M150.9,565.2h0M154.2,550.5h0M151.8,532.7h0M151.4,555.1h0M153.2,555.0h0M152.4,532.7h0M151.7,544.6h0M150.2,554.0h0M150.3,537.9h0M156.1,563.2h0M152.0,567.5h0M150.4,495.5h0M151.1,561.4h0M153.2,557.6h0M156.8,568.1h0M151.3,511.1h0M155.9,552.2h0M153.2,490.9h0M152.8,554.7h0M155.5,475.9h0M152.6,566.1h0M150.3,559.4h0M153.7,547.4h0M154.4,554.0h0M154.2,482.0h0M151.8,511.7h0M156.4,503.9h0M155.9,548.4h0M156.8,561.3h0M152.9,555.2h0M155.7,567.8h0M154.9,569.4h0M151.1,550.7h0M150.1,564.1h0M151.0,532.7h0M150.7,512.4h0M150.4,512.5h0M152.4,519.9h0M155.1,465.3h0M152.0,540.6h0M153.4,526.5h0M149.9,549.8h0M151.3,539.4h0M156.5,556.5h0M149.9,567.6h0M153.5,514.4h0M155.5,469.1h0M155.4,565.9h0M155.0,499.0h0M152.6,521.3h0M155.5,563.6h0M155.6,553.2h0M155.2,556.6h0M156.7,504.3h0M150.6,555.0h0M156.5,550.5h0M152.7,569.5h0M154.8,561.8h0M151.6,568.0h0M156.2,536.1h0M150.0,551.2h0M153.9,568.4h0M151.4,524.6h0M152.6,563.2h0M152.4,544.4h0M154.4,551.6h0M155.5,526.8h0M152.4,521.8h0M154.3,512.8h0M152.3,562.2h0M151.8,564.3h0M156.2,533.4h0M152.1,553.1h0M150.5,546.1h0M152.2,514.4h0M155.0,495.6h0M151.3,500.8h0M155.0,564.6h0M153.7,554.0h0M154.6,559.0h0M151.1,567.8h0M150.6,553.7h0M150.9,555.7h0M152.3,557.2h0M152.9,556.2h0M149.9,528.0h0M153.4,511.8h0M152.7,514.0h0M152.1,511.1h0M153.6,522.9h0M156.5,563.8h0M151.3,563.7h0M156.0,522.6h0M152.1,459.4h0M155.1,553.0h0M150.6,562.1h0M156.7,569.6h0M152.9,557.1h0M156.6,544.2h0M151.4,554.1h0M152.7,551.2h0M154.8,435.2h0M151.1,564.7h0M151.8,533.8h0M154.6,526.2h0M156.5,541.0h0M152.1,567.6h0M151.1,533.1h0M152.4,527.9h0M156.8,550.0h0M150.9,510.5h0M154.3,514.1h0M152.5,492.5h0M154.3,558.2h0M151.3,536.8h0M154.2,554.0h0M156.0,565.5h0M155.8,552.8h0M154.2,503.5h0M153.4,551.6h0M153.8,567.8h0M150.7,535.3h0M155.7,551.1h0M154.7,532.0h0M153.0,501.4h0M154.5,564.4h0M152.8,511.5h0M152.5,562.1h0M151.5,479.5h0M154.0,514.7h0M153.9,511.2h0M153.5,524.6h0M150.1,558.0h0M154.2,534.1h0M153.0,558.9h0M154.0,518.0h0M154.0,566.2h0M156.3,502.7h0M150.9,539.4h0M153.1,528.5h0M156.8,496.5h0M155.0,513.0h0M152.0,509.8h0M155.0,541.1h0M156.8,524.1h0M152.7,488.7h0M155.9,530.7h0M150.7,558.4h0M156.8,565.2h0M153.3,531.5h0M151.5,540.6h0M155.7,528.7h0M154.4,504.3h0M156.4,542.4h0M155.6,549.4h0M155.4,518.2h0M153.4,541.0h0M156.8,548.1h0M150.3,549.7h0M155.9,553.0h0M154.8,562.2h0M151.6,516.0h0M155.5,530.3h0M153.0,528.8h0M153.6,523.5h0M155.9,567.0h0M151.2,491.1h0M151.8,550.2h0M154.3,543.6h0M150.4,537.9h0M153.7,568.6h0M155.3,535.8h0M153.3,526.7h0M151.5,545.6h0M155.4,556.5h0M155.8,516.0h0M155.2,554.2h0M153.7,435.1h0M156.2,497.4h0M155.4,499.1h0M150.9,496.0h0M152.4,548.1h0M150.6,533.7h0M150.1,561.9h0M152.3,544.6h0M155.9,538.9h0M155.7,558.4h0M150.7,468.3h0M151.1,534.3h0M152.6,568.6h0M155.8,565.3h0M154.2,550.7h0M156.1,542.1h0M150.4,567.9h0M156.7,539.8h0M151.3,505.2h0M154.2,504.9h0M156.0,530.6h0M154.9,463.8h0M151.2,530.7h0M154.5,560.5h0M152.9,569.4h0M150.0,542.9h0M152.2,559.2h0M152.1,491.6h0M154.2,504.8h0M151.8,526.8h0M154.1,502.0h0M154.7,526.3h0M151.1,559.6h0M150.8,567.8h0M154.7,512.4h0M153.1,528.4h0M150.8,539.6h0M150.7,566.7h0M156.4,560.5h0M154.1,541.3h0M152.4,548.8h0M151.2,530.7h0M156.8,568.1h0M154.7,526.0h0M155.0,539.0h0M152.4,501.8h0M152.0,557.0h0M152.7,567.6h0M150.9,565.9h0M154.3,569.2h0M152.8,553.8h0M155.6,539.6h0M152.7,544.1h0M153.0,565.5h0M153.4,567.5h0M156.4,539.0h0M152.3,541.2h0M154.8,528.3h0M151.5,514.1h0M153.9,562.1h0M151.8,569.2h0M155.9,541.6h0M151.9,553.6h0M155.8,529.7h0M154.6,566.4h0M153.0,489.9h0M156.4,538.3h0M152.6,535.1h0M155.0,562.4h0M154.0,545.8h0M153.0,550.9h0M150.3,554.3h0M152.8,568.4h0M151.8,554.9h0M152.9,512.7h0M156.5,567.6h0M151.9,527.4h0M154.7,552.8h0M154.5,522.8h0M151.6,533.3h0M152.7,563.8h0M150.8,532.7h0M156.1,563.3h0M151.6,569.2h0M152.8,498.8h0M152.2,554.7h0M155.6,559.5h0M155.8,568.9h0M154.0,551.2h0M153.7,558.6h0M150.6,561.9h0M156.1,536.7h0M150.5,532.6h0M152.4,544.3h0M152.5,558.4h0M154.9,563.2h0M154.5,565.0h0M152.3,562.4h0M156.1,468.1h0M156.5,564.6h0M150.0,568.1h0M154.3,507.6h0M153.1,560.3h0M152.4,552.2h0M153.1,547.4h0M152.1,557.1h0M154.5,566.2h0M154.1,564.1h0M156.6,567.4h0M156.7,558.7h0M156.8,505.2h0M159.8,503.4h0M163.2,512.7h0M161.8,493.0h0M162.2,557.6h0M164.5,566.0h0M157.3,484.5h0M160.4,552.2h0M159.9,544.8h0M161.8,510.5h0M158.5,485.6h0M164.4,516.0h0M158.4,445.0h0M159.7,550.3h0M157.9,551.9h0M159.8,528.6h0M162.5,553.8h0M157.5,462.7h0M158.1,510.5h0M161.8,437.8h0M161.6,535.8h0M162.5,514.4h0M158.8,552.4h0M163.0,551.4h0M162.4,544.8h0M162.8,514.0h0M157.7,544.8h0M160.4,559.4h0M156.9,535.7h0M163.4,530.1h0M164.1,554.7h0M163.7,536.2h0M157.0,554.9h0M159.5,514.6h0M160.9,551.1h0M160.9,523.6h0M157.7,519.3h0M162.9,508.3h0M159.1,551.2h0M160.7,527.5h0M157.8,532.9h0M161.2,514.0h0M157.8,547.1h0M157.5,543.6h0M160.7,564.0h0M159.1,556.1h0M162.8,558.9h0M158.7,517.7h0M160.0,569.0h0M157.2,555.1h0M158.5,562.4h0M160.3,546.1h0M161.1,569.5h0M160.3,564.1h0M163.3,548.6h0M157.6,562.3h0M163.3,543.1h0M158.0,522.7h0M164.2,516.6h0M160.8,526.6h0M159.9,507.1h0M161.5,555.8h0M163.4,554.1h0M164.2,526.7h0M160.0,455.1h0M156.9,561.9h0M158.0,532.0h0M163.1,540.3h0M162.4,490.2h0M162.3,567.7h0M158.0,565.2h0M160.9,424.4h0M157.0,513.5h0M157.7,514.8h0M159.1,542.5h0M164.2,546.0h0M161.7,569.4h0M163.3,536.1h0M157.2,569.2h0M160.0,508.9h0M157.4,565.9h0M158.8,543.7h0M157.7,478.9h0M163.9,557.2h0M159.3,555.7h0M160.6,558.4h0M161.8,530.4h0M163.6,546.8h0M164.1,557.3h0M161.2,553.7h0M160.7,526.8h0M163.7,552.6h0M159.8,544.6h0M159.1,520.0h0M162.5,556.2h0M158.8,535.8h0M159.6,535.5h0M160.1,557.0h0M160.5,486.5h0M159.6,534.4h0M160.1,512.3h0M160.3,552.1h0M157.2,569.7h0M163.2,564.4h0M157.3,568.4h0M160.9,569.3h0M161.0,562.0h0M159.9,559.9h0M158.5,515.3h0M157.6,522.5h0M159.7,527.0h0M159.2,554.9h0M160.5,528.8h0M158.6,547.4h0M162.6,569.5h0M160.6,528.9h0M156.9,486.6h0M159.9,519.5h0M164.2,548.1h0M156.9,562.9h0M161.4,480.6h0M164.2,567.9h0M159.6,499.5h0M161.4,544.3h0M159.6,507.6h0M159.1,553.2h0M161.5,449.4h0M161.3,459.0h0M159.2,525.7h0M160.6,539.2h0M160.8,558.2h0M162.6,540.5h0M157.2,453.4h0M157.5,528.8h0M158.8,523.6h0M158.9,545.0h0M162.9,550.1h0M160.1,530.6h0M163.4,547.2h0M159.9,545.8h0M159.0,563.6h0M162.0,569.6h0M157.5,468.3h0M164.4,555.1h0M163.2,543.5h0M159.3,547.4h0M159.3,552.4h0M163.1,434.8h0M162.9,499.2h0M161.7,508.3h0M157.3,543.3h0M162.7,532.7h0M157.2,539.3h0M161.6,460.0h0M161.0,552.3h0M163.9,521.7h0M161.7,564.6h0M157.0,515.0h0M164.0,554.0h0M162.6,530.7h0M161.3,565.8h0M156.9,531.7h0M162.5,547.3h0M160.0,565.4h0M162.0,549.3h0M164.4,496.9h0M163.8,488.2h0M157.4,567.4h0M162.8,554.6h0M160.2,524.2h0M162.6,549.4h0M159.7,541.2h0M160.3,531.2h0M160.2,544.5h0M157.7,567.9h0M159.3,550.8h0M162.4,481.8h0M157.4,495.6h0M157.7,548.6h0M163.2,541.4h0M161.9,567.8h0M161.0,557.2h0M157.7,497.5h0M157.7,486.5h0M159.2,553.7h0M164.1,487.7h0M161.1,555.7h0M163.9,566.6h0M158.4,562.9h0M160.0,537.1h0M160.9,544.5h0M163.2,543.8h0M157.8,515.3h0M163.5,543.6h0M160.4,541.9h0M157.1,568.3h0M160.1,559.8h0M159.7,512.2h0M162.0,556.9h0M163.9,555.3h0M160.6,467.1h0M162.1,562.9h0M159.8,552.0h0M162.8,545.6h0M157.6,444.2h0M162.5,549.6h0M158.1,539.3h0M161.3,551.2h0M158.4,568.4h0M159.5,541.6h0M158.1,568.7h0M159.5,522.3h0M161.3,516.5h0M160.8,506.3h0M159.8,508.6h0M161.2,489.3h0M163.3,537.2h0M159.6,535.0h0M161.3,511.7h0M160.5,538.6h0M164.3,537.2h0M159.3,488.5h0M162.2,554.5h0M158.6,461.6h0M158.8,553.3h0M162.4,549.6h0M161.2,447.0h0M158.8,513.0h0M157.3,533.2h0M163.1,529.5h0M159.7,547.4h0M162.3,540.0h0M160.1,521.0h0M161.6,480.9h0M161.1,554.4h0M164.3,520.6h0M163.8,565.1h0M160.3,527.2h0M160.5,568.8h0M158.6,537.7h0M162.6,557.3h0M157.6,558.5h0M159.2,555.6h0M163.3,534.2h0M157.1,566.5h0M162.2,563.0h0M161.2,519.6h0M161.0,561.4h0M159.4,552.5h0M158.0,562.1h0M164.1,511.9h0M162.7,557.4h0M163.0,530.5h0M157.6,437.7h0M162.8,514.3h0M158.5,543.3h0M158.3,565.9h0M160.9,545.0h0M161.5,543.1h0M157.7,532.9h0M162.7,546.9h0M161.3,481.0h0M163.7,544.2h0M163.9,558.5h0M162.1,546.4h0M159.6,484.8h0M164.1,553.3h0M162.3,558.7h0M159.1,561.5h0M163.4,565.1h0M162.4,525.9h0M158.9,557.8h0M158.7,551.0h0M157.0,567.4h0M160.9,562.4h0M158.8,545.3h0M159.1,484.7h0M158.8,566.4h0M157.8,520.4h0M160.5,526.8h0M158.9,537.3h0M159.0,567.7h0M158.9,543.3h0M160.7,534.3h0M163.5,558.5h0M158.1,561.1h0M163.4,559.9h0M163.4,555.6h0M161.5,552.4h0M161.0,514.8h0M162.4,543.1h0M160.9,549.3h0M161.9,565.8h0M163.9,523.4h0M162.8,518.1h0M158.8,549.4h0M157.2,565.2h0M164.0,555.7h0M159.6,534.5h0M162.8,544.8h0M158.6,462.4h0M169.1,550.5h0M168.2,552.7h0M171.9,538.7h0M174.1,534.0h0M169.6,518.5h0M170.2,555.3h0M168.0,524.2h0M166.8,565.0h0M174.1,535.7h0M165.6,523.6h0M174.0,520.5h0M171.2,552.5h0M165.2,531.5h0M173.7,569.7h0M165.5,543.9h0M170.2,556.7h0M165.7,560.0h0M174.5,565.0h0M167.6,510.7h0M173.3,556.5h0M165.1,555.2h0M171.3,499.0h0M165.2,520.8h0M164.8,557.0h0M170.3,537.2h0M174.5,553.6h0M171.4,567.9h0M173.2,540.1h0M172.5,569.4h0M169.8,559.3h0M165.3,559.8h0M169.8,549.4h0M166.4,540.0h0M169.8,548.3h0M168.1,474.6h0M169.6,558.2h0M166.5,505.6h0M171.6,561.6h0M168.7,538.3h0M169.4,558.3h0M165.3,539.4h0M169.4,568.0h0M170.1,555.9h0M174.4,565.2h0M170.2,559.7h0M165.8,532.3h0M167.5,509.9h0M167.9,530.0h0M171.6,506.0h0M174.0,530.4h0M174.4,550.1h0M174.1,542.2h0M173.9,545.5h0M173.2,530.2h0M174.0,520.5h0M164.7,568.3h0M169.5,531.4h0M170.5,562.1h0M171.5,561.8h0M170.7,560.4h0M170.7,550.1h0M174.0,555.8h0M165.4,490.6h0M169.8,546.9h0M174.2,549.6h0M164.8,501.8h0M165.6,561.7h0M173.3,534.9h0M174.2,546.9h0M164.7,530.1h0M164.8,478.8h0M172.9,480.5h0M171.5,560.8h0M169.8,531.2h0M170.4,555.7h0M172.2,524.3h0M172.7,554.3h0M164.5,567.7h0M165.2,541.2h0M172.6,535.9h0M174.4,515.5h0M173.0,542.5h0M168.6,560.5h0M167.9,519.1h0M168.0,557.1h0M164.6,553.4h0M172.3,525.7h0M167.1,498.7h0M170.4,473.5h0M169.8,540.6h0M167.9,538.6h0M171.3,545.4h0M169.1,561.6h0M166.9,555.6h0M173.4,540.6h0M166.3,559.0h0M166.0,484.8h0M167.1,490.3h0M169.3,547.0h0M172.4,553.4h0M167.9,536.9h0M166.9,544.4h0M171.1,523.9h0M167.1,569.0h0M169.8,517.5h0M167.1,526.1h0M173.4,546.6h0M166.4,493.9h0M166.8,568.6h0M167.5,557.7h0M167.8,533.7h0M171.9,529.8h0M171.3,564.9h0M172.5,545.6h0M170.0,560.3h0M165.3,556.2h0M172.2,563.7h0M167.0,550.9h0M166.7,556.2h0M168.7,567.6h0M174.5,556.2h0M168.2,562.9h0M168.1,544.5h0M173.7,558.6h0M174.6,567.1h0M168.4,551.4h0M165.9,554.6h0M172.5,557.9h0M172.4,551.4h0M167.9,530.6h0M172.5,550.5h0M168.3,559.6h0M167.4,552.8h0M170.5,459.0h0M172.0,537.4h0M169.3,567.0h0M172.8,568.0h0M164.6,549.8h0M169.6,540.1h0M168.3,509.4h0M165.1,498.3h0M173.8,547.8h0M165.9,555.8h0M166.6,562.2h0M173.4,386.8h0M174.2,547.1h0M174.0,546.7h0M168.0,541.1h0M173.9,531.9h0M165.9,517.6h0M171.7,568.0h0M174.1,538.5h0M166.4,557.9h0M165.9,538.3h0M171.4,513.0h0M173.5,541.0h0M171.9,543.0h0M174.1,500.1h0M169.1,546.1h0M168.3,531.0h0M165.7,523.7h0M167.3,569.5h0M174.0,509.7h0M165.2,564.4h0M166.4,547.4h0M168.0,520.8h0M165.0,563.8h0M167.6,568.3h0M166.3,548.2h0M165.7,510.3h0M169.8,516.6h0M170.0,522.5h0M170.3,506.3h0M172.2,559.3h0M169.8,534.1h0M174.1,513.2h0M165.3,557.7h0M166.7,568.9h0M165.3,544.1h0M167.6,566.9h0M172.2,549.3h0M173.9,564.8h0M169.6,540.1h0M166.1,534.0h0M167.8,540.4h0M170.3,510.7h0M167.5,546.3h0M172.5,554.4h0M174.4,515.1h0M169.2,459.9h0M170.6,557.1h0M173.1,527.2h0M169.2,483.5h0M166.4,484.6h0M174.1,517.5h0M174.4,550.0h0M164.7,561.8h0M172.2,550.8h0M168.6,521.3h0M165.0,542.0h0M166.1,566.4h0M166.2,511.2h0M172.0,565.0h0M166.6,568.7h0M164.7,504.9h0M166.7,549.1h0M172.6,506.9h0M169.6,525.7h0M171.1,555.4h0M169.2,544.7h0M166.3,545.2h0M164.6,516.6h0M167.6,505.3h0M164.9,557.0h0M167.1,538.2h0M170.8,517.5h0M168.2,566.1h0M169.3,550.9h0M170.8,549.0h0M167.7,558.7h0M168.1,564.5h0M173.5,524.0h0M170.4,532.4h0M168.7,565.5h0M170.0,569.4h0M169.2,528.3h0M167.9,544.8h0M173.8,552.2h0M166.8,513.4h0M174.0,567.7h0M173.2,491.2h0M173.4,562.7h0M166.1,519.3h0M169.7,510.8h0M174.5,551.3h0M167.4,546.0h0M166.2,542.9h0M171.8,548.3h0M166.9,468.8h0M170.4,527.3h0M166.1,507.3h0M174.1,564.7h0M167.4,569.6h0M165.5,436.3h0M171.5,515.7h0M168.0,535.6h0M170.2,520.2h0M169.5,526.9h0M173.9,559.0h0M169.7,529.4h0M168.3,516.5h0M164.5,469.1h0M169.5,560.9h0M167.2,538.5h0M170.3,526.0h0M170.9,546.2h0M169.2,509.4h0M165.4,506.3h0M169.5,537.2h0M169.4,539.5h0M171.0,545.7h0M174.3,521.3h0M167.3,562.2h0M169.0,554.4h0M165.3,536.6h0M172.6,502.5h0M166.9,467.5h0M172.9,526.6h0M172.6,538.1h0M167.1,472.9h0M173.7,559.2h0M169.6,542.5h0M168.8,569.2h0M170.1,562.7h0M174.1,400.5h0M169.5,544.7h0M169.4,566.2h0M167.4,561.4h0M173.0,552.5h0M169.6,568.3h0M168.0,528.2h0M166.5,560.5h0M166.7,523.1h0M173.0,550.3h0M172.7,515.4h0M174.4,511.6h0M173.8,520.0h0M171.4,558.3h0M172.6,540.6h0M171.7,560.5h0M172.7,542.8h0M172.6,563.4h0M166.3,530.3h0M172.8,508.0h0M167.6,558.4h0M167.0,556.6h0M173.8,526.7h0M164.7,552.8h0M169.7,564.5h0M168.0,515.5h0M189.8,544.6h0M186.3,526.9h0M192.1,406.5h0M192.5,486.3h0M187.0,567.0h0M175.9,562.3h0M187.4,553.4h0M176.7,569.0h0M193.4,458.5h0M191.3,521.7h0M180.6,504.7h0M178.2,568.6h0M187.9,515.8h0M189.1,566.4h0M193.5,547.2h0M186.6,503.0h0M177.0,565.3h0M188.5,502.9h0M175.8,554.0h0M191.2,547.0h0M189.4,559.0h0M189.7,500.2h0M191.4,565.6h0M185.5,561.7h0M192.7,547.8h0M186.9,483.8h0M184.1,548.5h0M182.0,532.5h0M181.4,558.2h0M175.1,473.4h0M177.7,542.5h0M189.9,503.2h0M179.0,535.3h0M187.2,533.7h0M189.5,540.5h0M187.9,558.6h0M184.5,497.4h0M180.7,557.5h0M179.9,514.0h0M178.2,474.8h0M187.0,522.2h0M187.8,556.0h0M192.7,555.7h0M181.0,551.7h0M192.4,538.0h0M192.1,547.8h0M180.2,475.1h0M192.9,528.7h0M186.5,547.7h0M193.1,506.9h0M189.5,540.5h0M181.0,525.0h0M180.0,494.4h0M184.6,562.9h0M184.0,550.0h0M175.3,549.3h0M191.1,518.0h0M184.9,543.4h0M183.7,551.9h0M188.9,476.9h0M179.4,562.9h0M178.5,547.9h0M185.8,559.2h0M179.3,445.5h0M180.9,498.5h0M176.0,509.7h0M175.6,484.1h0M181.4,496.9h0M184.7,498.6h0M192.8,566.5h0M186.9,526.5h0M182.6,437.9h0M182.4,561.9h0M179.2,527.7h0M183.7,489.1h0M193.0,545.6h0M177.0,563.6h0M182.9,529.9h0M187.8,547.4h0M189.2,556.6h0M185.3,437.1h0M186.9,566.9h0M192.6,544.1h0M191.9,550.5h0M179.5,553.5h0M185.0,507.8h0M193.7,565.6h0M184.7,521.4h0M178.3,548.3h0M189.3,560.2h0M175.7,497.4h0M177.5,529.4h0M185.2,544.2h0M179.9,562.2h0M188.4,503.0h0M188.5,520.4h0M180.8,557.5h0M189.3,564.5h0M187.0,463.6h0M188.2,548.8h0M183.4,569.1h0M182.9,478.0h0M176.7,545.9h0M183.7,542.3h0M192.9,527.7h0M191.6,552.1h0M175.7,515.2h0M176.0,537.2h0M179.8,521.5h0M187.9,529.5h0M183.0,552.8h0M177.1,502.8h0M182.8,569.3h0M185.6,527.9h0M188.9,563.0h0M182.4,487.1h0M187.1,562.6h0M187.7,524.3h0M186.4,482.6h0M175.5,498.1h0M188.2,545.6h0M177.1,553.3h0M175.7,491.0h0M183.7,478.7h0M175.0,568.6h0M176.0,561.5h0M182.1,468.2h0M183.6,567.9h0M176.7,551.2h0M192.9,558.7h0M190.9,558.1h0M184.0,521.0h0M185.9,514.1h0M180.7,532.3h0M193.5,508.3h0M176.9,555.4h0M180.5,555.6h0M178.9,559.4h0M191.2,566.7h0M184.4,528.3h0M182.5,549.7h0M182.3,381.9h0M191.6,537.4h0M179.6,543.7h0M189.8,535.6h0M188.2,567.2h0M183.2,562.6h0M181.6,505.5h0M183.0,536.5h0M183.3,498.7h0M180.7,536.6h0M186.6,565.3h0M182.5,551.7h0M180.5,561.3h0M189.4,547.6h0M183.4,551.3h0M183.7,566.0h0M191.5,559.7h0M183.3,539.9h0M181.8,554.5h0M191.8,505.3h0M193.3,554.9h0M189.7,534.2h0M182.3,559.7h0M187.5,520.5h0M188.8,564.4h0M180.3,548.5h0M188.5,498.0h0M192.8,555.3h0M187.2,496.6h0M187.4,540.7h0M183.0,541.4h0M187.1,530.8h0M179.0,562.3h0M189.4,516.9h0M185.0,542.5h0M193.4,518.3h0M181.2,526.2h0M188.3,539.2h0M175.0,532.3h0M182.6,557.2h0M189.3,507.5h0M179.6,558.1h0M186.4,554.5h0M178.9,526.4h0M182.3,561.2h0M193.7,521.9h0M178.4,476.4h0M192.1,505.3h0M175.8,514.4h0M185.8,534.7h0M190.4,520.3h0M190.7,543.2h0M182.1,515.7h0M185.9,557.9h0M188.3,503.2h0M189.2,432.6h0M188.9,555.5h0M185.7,565.2h0M179.5,563.3h0M188.1,537.5h0M185.4,516.3h0M185.1,562.8h0M193.5,549.1h0M177.3,525.6h0M189.6,482.5h0M180.9,549.3h0M188.5,562.8h0M192.8,564.4h0M179.9,511.6h0M185.5,500.1h0M184.8,457.5h0M184.1,519.7h0M177.8,559.1h0M186.6,553.5h0M191.7,564.9h0M187.3,545.7h0M180.2,523.1h0M190.1,424.5h0M182.7,483.8h0M177.4,566.2h0M186.2,437.3h0M183.5,561.1h0M184.8,541.8h0M193.6,556.5h0M185.5,499.3h0M192.9,556.4h0M181.4,552.8h0M189.2,543.3h0M176.1,560.7h0M180.4,548.9h0M187.9,483.4h0M187.9,532.0h0M190.5,559.9h0M181.9,530.1h0M179.9,529.0h0M181.5,546.6h0M184.9,408.0h0M175.1,563.2h0M181.8,509.0h0M187.2,549.8h0M177.5,517.8h0M180.6,535.7h0M191.3,447.5h0M192.5,515.7h0M179.4,537.0h0M178.1,551.9h0M176.9,553.9h0M176.3,545.1h0M189.8,556.1h0M188.8,527.0h0M179.7,559.4h0M184.0,521.7h0M187.9,560.9h0M175.2,566.5h0M190.3,551.4h0M191.1,567.6h0M178.7,557.2h0M188.1,484.4h0M188.0,499.8h0M181.1,526.3h0M191.4,556.7h0M178.8,546.0h0M183.7,534.5h0M180.6,555.5h0M183.1,565.3h0M190.2,536.4h0M185.6,505.9h0M186.3,568.7h0M193.5,526.9h0M178.9,541.2h0M178.9,546.6h0M186.5,561.9h0M177.5,566.1h0M193.1,555.5h0M181.2,558.8h0M183.1,547.4h0M182.9,551.0h0M190.5,568.3h0M192.2,540.2h0M187.6,565.1h0M177.9,563.9h0M181.4,544.9h0M188.2,568.4h0M178.8,548.3h0M191.5,552.7h0M191.3,543.0h0M179.0,545.2h0M181.6,567.8h0M179.0,534.2h0M188.4,559.8h0M175.6,567.4h0M188.0,530.9h0M175.8,544.2h0M190.7,477.8h0M185.0,565.0h0M185.8,559.6h0M176.5,531.9h0M175.5,568.9h0M181.4,549.7h0M244.9,433.6h0M205.0,566.4h0M218.0,568.9h0M194.6,532.4h0M195.1,460.8h0M194.0,562.4h0M208.4,542.0h0M196.2,559.5h0M197.7,565.6h0M207.2,524.4h0M208.3,551.5h0M198.5,521.3h0M201.5,540.4h0M198.0,501.2h0M203.9,551.8h0M199.2,550.4h0M199.2,567.4h0M197.3,526.3h0M198.0,548.8h0M197.5,480.7h0M194.0,551.9h0M198.3,562.7h0M204.7,565.2h0M197.6,537.1h0M195.2,552.5h0M216.7,552.5h0M201.5,565.1h0M202.6,537.4h0M198.4,564.5h0M220.5,562.0h0M210.9,533.7h0M205.7,493.6h0M207.0,557.6h0M208.2,568.7h0M202.3,501.8h0M200.3,548.1h0M199.8,545.4h0M202.4,537.9h0M201.5,536.3h0M203.0,561.1h0M203.1,485.7h0M212.8,425.9h0M221.1,568.0h0M196.9,532.5h0M194.0,537.8h0M198.2,483.2h0M194.2,510.0h0M213.3,515.5h0M205.6,555.1h0M197.9,565.2h0M196.4,553.4h0M218.6,548.0h0M215.9,513.4h0M207.9,546.4h0M208.2,542.6h0M210.5,569.6h0M201.2,520.2h0M200.0,538.0h0M203.6,502.1h0M219.8,516.6h0M251.9,557.4h0M224.2,508.8h0M215.9,566.4h0M194.7,555.2h0M197.2,559.0h0M237.1,542.3h0M203.4,540.9h0M202.6,556.5h0M198.3,550.3h0M218.0,560.2h0M202.7,508.1h0M250.6,567.9h0M194.7,504.4h0M255.0,526.5h0M193.9,567.9h0M195.7,548.7h0M199.8,545.4h0M206.3,554.0h0M195.2,560.2h0M203.9,544.6h0M228.1,566.0h0M200.8,514.6h0M211.4,483.5h0M204.7,511.3h0M204.5,562.0h0M196.1,553.2h0M201.4,528.3h0M222.0,532.2h0M207.5,554.3h0M196.8,495.3h0M201.0,519.6h0M203.4,489.5h0M198.8,527.3h0M204.3,521.4h0M206.0,557.4h0M194.0,540.1h0M196.8,539.0h0M206.9,509.3h0M196.7,472.0h0M194.7,504.8h0M211.3,546.4h0M198.7,557.8h0M232.5,556.7h0M203.8,549.7h0M195.1,544.2h0M206.2,521.8h0M197.5,550.0h0M214.4,560.6h0M209.5,531.0h0M211.2,555.1h0M194.5,483.4h0M194.2,554.4h0M213.3,555.6h0M195.6,513.5h0M196.5,553.9h0M194.1,554.0h0M196.0,512.1h0M201.6,563.7h0M232.6,554.4h0M198.5,567.1h0M197.4,522.9h0M215.3,551.9h0M196.3,527.3h0M206.1,526.2h0M205.5,546.4h0M227.3,560.8h0M194.3,557.5h0M203.9,550.0h0M199.7,519.4h0M215.0,541.4h0M197.3,562.9h0M209.1,564.3h0M196.3,551.9h0M202.1,478.9h0M236.0,543.5h0M197.1,522.7h0M197.8,563.8h0M224.3,560.3h0M207.5,557.6h0M194.6,564.3h0M196.3,530.4h0M197.1,535.1h0M198.0,566.6h0M216.6,559.9h0M208.5,528.0h0M241.5,528.8h0M207.3,540.4h0M205.9,496.4h0M199.7,527.0h0M209.2,541.2h0M202.1,567.8h0M194.5,507.9h0M202.1,536.6h0M199.7,553.3h0M203.0,471.4h0M194.4,558.0h0M194.1,506.6h0M243.6,509.0h0M199.5,487.8h0M198.7,506.7h0M195.7,532.6h0M204.8,518.2h0M223.9,535.7h0M196.2,527.8h0M202.3,533.4h0M202.3,489.9h0M211.5,556.7h0M204.0,566.4h0M197.1,558.4h0M196.3,565.8h0M209.6,510.4h0M194.8,545.1h0M218.3,561.5h0M194.2,568.9h0M196.3,544.2h0M201.5,523.1h0M216.5,556.2h0M205.6,565.0h0M210.5,560.4h0M211.3,566.2h0M209.5,563.4h0M194.4,563.5h0M215.1,505.8h0M195.7,561.0h0M195.9,540.1h0M194.2,527.3h0M194.1,551.9h0M219.4,524.0h0M199.6,542.1h0M194.9,509.2h0M194.4,518.0h0M216.7,538.1h0M205.0,540.5h0M224.1,569.1h0M194.2,550.7h0M195.2,569.1h0M197.9,508.7h0M196.4,548.8h0M195.2,559.8h0M196.5,542.1h0M206.3,467.9h0M196.0,549.2h0M196.0,560.9h0M203.2,563.4h0M199.5,519.0h0M195.8,548.4h0M204.1,525.9h0M202.5,552.6h0M199.8,565.3h0M201.6,538.8h0M194.3,531.8h0M205.5,474.6h0M196.4,538.3h0M198.8,553.2h0M193.9,512.9h0M220.5,529.9h0M204.6,492.0h0M199.9,538.2h0M203.3,545.8h0M228.2,567.8h0M195.5,548.6h0M199.7,542.4h0M208.8,564.6h0M199.5,567.9h0M208.8,504.2h0M223.0,548.0h0M194.3,558.5h0M197.9,563.9h0M198.0,548.5h0M210.8,545.5h0M212.5,542.2h0M208.5,568.9h0M225.4,546.5h0M196.3,538.9h0M199.9,548.1h0M217.2,537.9h0M211.5,553.5h0M195.2,516.9h0M241.5,561.8h0M210.3,485.5h0M218.4,502.3h0M199.3,565.6h0M205.2,549.5h0M232.8,516.2h0M221.7,533.8h0M204.3,523.4h0M220.8,541.8h0M278.2,531.8h0M216.1,565.5h0M206.8,513.3h0M233.3,547.2h0M195.7,475.8h0M200.1,502.0h0M203.9,562.7h0M195.5,568.4h0M212.4,530.0h0M194.6,563.7h0M205.9,557.2h0M197.8,503.6h0M198.5,555.6h0M205.2,552.4h0M196.4,569.0h0M201.0,544.2h0M217.6,519.4h0M246.8,540.3h0M197.5,502.4h0M199.3,523.8h0M208.3,533.0h0M196.4,561.7h0M216.9,541.3h0M196.5,542.0h0M203.7,556.5h0M198.9,547.7h0M193.8,564.5h0M193.8,557.8h0M193.8,569.0h0M198.6,569.4h0M197.7,536.0h0M251.9,551.4h0M206.2,557.2h0M194.6,532.0h0M209.2,517.2h0M197.0,539.0h0M201.8,537.5h0M209.5,516.6h0M217.6,515.4h0M227.3,525.6h0M200.5,549.5h0M198.5,532.4h0M200.0,550.0h0M198.4,554.6h0M210.3,561.3h0M201.4,466.8h0M207.9,535.1h0M195.8,498.2h0M212.5,540.5h0M235.4,525.4h0M196.6,561.7h0M205.5,482.4h0M195.9,557.4h0M167.7,359.0h0M243.9,386.0h0M170.3,404.1h0M129.2,420.0h0M145.2,422.6h0M210.3,432.6h0M217.8,431.6h0M256.4,485.2h0M60.0,536.8h0M268.0,557.0h0" fill="none" stroke="#f00" stroke-width="0.9" stroke-linecap="square"/>
<path d="M407.5,494.8h0M405.4,535.2h0M388.6,556.4h0M407.3,554.1h0M406.5,537.9h0M404.8,551.5h0M411.3,549.7h0M406.4,560.3h0M403.8,543.0h0M398.2,564.1h0M412.3,535.6h0M409.8,555.2h0M412.4,567.1h0M397.4,565.1h0M402.0,531.4h0M412.9,531.9h0M374.8,510.4h0M381.3,553.0h0M403.1,542.3h0M404.1,544.4h0M411.6,566.5h0M413.1,566.6h0M406.1,563.9h0M412.7,553.7h0M411.3,519.7h0M410.6,548.3h0M413.0,563.3h0M407.3,527.0h0M407.7,555.7h0M395.6,527.5h0M406.3,512.5h0M403.5,519.5h0M406.7,508.1h0M402.9,559.7h0M407.4,548.5h0M410.2,544.9h0M355.4,505.4h0M361.2,535.2h0M395.7,503.1h0M401.5,562.9h0M409.7,567.1h0M410.8,565.3h0M410.0,532.4h0M412.6,559.6h0M399.4,527.8h0M408.4,566.6h0M395.3,529.5h0M408.6,528.0h0M383.0,522.3h0M395.3,538.6h0M413.3,485.0h0M411.0,548.2h0M390.2,528.6h0M407.2,509.7h0M375.7,520.0h0M408.4,494.1h0M412.5,512.1h0M403.8,526.8h0M398.9,521.6h0M410.3,540.9h0M412.4,450.9h0M409.4,556.0h0M381.5,536.4h0M399.7,445.4h0M412.1,562.6h0M410.6,495.3h0M412.3,460.3h0M412.7,545.3h0M398.0,560.8h0M411.4,562.3h0M405.4,520.7h0M407.6,566.6h0M411.3,544.9h0M400.7,513.5h0M411.9,513.2h0M403.4,567.8h0M412.1,530.1h0M408.1,560.1h0M411.0,568.3h0M410.3,552.6h0M379.4,526.9h0M397.7,543.2h0M409.8,487.3h0M392.6,491.3h0M411.0,542.6h0M408.5,533.8h0M394.9,561.3h0M403.5,494.1h0M412.3,565.9h0M369.9,532.8h0M411.0,557.4h0M410.4,554.2h0M399.1,553.0h0M409.5,538.2h0M409.9,558.1h0M412.5,532.8h0M412.4,528.6h0M404.9,532.4h0M410.6,564.3h0M404.5,543.5h0M408.8,561.2h0M407.5,544.6h0M382.7,531.5h0M407.0,567.1h0M405.1,559.2h0M394.0,548.3h0M411.3,532.9h0M411.7,523.6h0M390.4,558.3h0M397.0,549.6h0M410.5,548.4h0M411.3,522.1h0M400.4,532.9h0M386.3,534.9h0M411.2,509.0h0M384.6,539.6h0M392.8,555.2h0M404.4,559.3h0M408.0,564.5h0M412.2,404.3h0M412.9,554.7h0M381.8,497.1h0M410.7,556.3h0M401.6,527.7h0M410.4,525.2h0M396.7,506.6h0M404.6,513.1h0M410.0,538.6h0M411.4,523.3h0M401.1,557.7h0M412.6,524.0h0M410.8,534.0h0M405.4,540.3h0M395.0,485.8h0M404.2,557.2h0M410.1,542.7h0M389.4,551.6h0M411.1,566.0h0M413.1,537.7h0M410.3,505.5h0M407.6,519.9h0M412.7,549.5h0M411.4,550.0h0M408.9,555.2h0M405.2,538.4h0M411.9,540.2h0M409.0,504.5h0M392.1,525.5h0M375.6,516.7h0M403.0,568.7h0M402.0,567.2h0M404.9,531.9h0M411.8,559.9h0M412.9,568.8h0M413.1,564.5h0M390.2,549.6h0M401.7,491.8h0M381.8,553.7h0M413.1,566.3h0M403.6,565.1h0M407.0,566.8h0M400.7,558.8h0M409.6,563.1h0M366.4,530.8h0M405.7,564.9h0M400.5,536.8h0M391.2,559.0h0M400.5,557.9h0M401.6,565.8h0M398.2,558.7h0M389.7,534.3h0M409.1,554.0h0M402.2,551.1h0M391.2,553.3h0M393.7,539.2h0M408.1,566.2h0M398.3,478.6h0M394.2,563.5h0M405.1,563.2h0M403.9,565.3h0M408.7,517.7h0M404.9,556.2h0M404.3,539.8h0M412.5,567.7h0M403.5,543.9h0M365.4,519.3h0M393.0,545.6h0M400.8,564.2h0M408.6,544.1h0M400.6,433.1h0M405.0,499.2h0M407.7,541.5h0M395.8,537.1h0M412.4,516.1h0M400.0,564.2h0M413.0,562.3h0M404.5,531.8h0M407.0,568.4h0M410.8,512.0h0M401.8,564.7h0M406.7,567.2h0M404.2,550.7h0M389.1,551.7h0M410.4,554.5h0M413.2,563.3h0M409.9,551.8h0M402.4,538.6h0M411.1,510.8h0M411.5,568.0h0M390.7,517.3h0M403.0,553.0h0M407.7,559.6h0M392.0,561.4h0M409.5,546.1h0M402.8,565.9h0M411.2,567.3h0M407.9,531.4h0M397.6,555.8h0M389.8,554.8h0M393.0,559.4h0M408.6,520.2h0M404.9,554.6h0M409.6,568.2h0M411.9,552.6h0M406.7,492.9h0M395.9,547.1h0M395.2,552.5h0M401.4,532.8h0M384.6,532.1h0M410.2,471.4h0M411.5,548.9h0M407.5,550.4h0M410.2,551.5h0M411.0,565.0h0M408.2,545.7h0M403.9,520.5h0M406.8,557.2h0M409.7,553.2h0M395.8,555.6h0M374.8,540.0h0M407.5,561.6h0M412.5,553.9h0M413.0,514.6h0M393.6,561.3h0M412.9,561.7h0M401.5,564.7h0M405.2,552.5h0M409.7,544.9h0M398.3,397.7h0M413.1,551.2h0M411.9,568.8h0M407.5,559.6h0M413.0,553.3h0M396.3,543.1h0M410.7,563.4h0M411.8,562.9h0M412.8,550.6h0M403.8,487.6h0M407.6,551.6h0M403.8,567.8h0M403.1,551.6h0M397.5,553.0h0M382.9,541.8h0M402.2,519.0h0M411.1,546.3h0M407.1,526.7h0M411.4,554.4h0M413.2,484.2h0M407.2,563.5h0M401.3,544.4h0M411.4,484.0h0M410.2,548.7h0M409.2,525.5h0M401.8,560.1h0M406.2,557.3h0M404.2,520.1h0M399.8,464.9h0M408.5,521.0h0M398.3,557.8h0M390.6,518.9h0M412.4,549.0h0M387.5,542.2h0M401.0,559.5h0M411.9,565.8h0M407.5,550.8h0M403.9,552.0h0M390.3,536.7h0M408.8,514.4h0M405.2,539.4h0M393.1,555.9h0M398.0,554.9h0M385.7,547.9h0M407.3,565.4h0M403.2,524.7h0M411.1,525.0h0M401.0,544.5h0M397.0,541.2h0M403.5,563.1h0M401.2,566.1h0M411.0,562.5h0M423.9,569.0h0M424.9,528.7h0M424.9,544.3h0M419.6,530.0h0M422.7,545.7h0M417.1,541.4h0M424.1,565.2h0M423.4,546.6h0M417.4,565.0h0M414.3,502.7h0M418.5,540.8h0M419.8,486.5h0M422.4,527.7h0M419.1,521.1h0M413.6,560.7h0M422.9,559.2h0M414.0,525.7h0M422.8,532.8h0M415.3,548.8h0M417.2,551.9h0M422.6,519.6h0M414.9,533.3h0M415.0,550.1h0M419.4,534.6h0M421.9,525.5h0M423.2,557.8h0M421.4,547.0h0M424.5,515.4h0M419.1,562.1h0M424.5,549.8h0M414.3,562.0h0M415.9,528.2h0M419.5,545.0h0M416.7,555.1h0M421.9,537.6h0M420.9,546.5h0M419.5,540.2h0M423.3,566.2h0M419.9,514.5h0M417.0,556.4h0M417.8,556.1h0M423.3,551.3h0M424.0,539.8h0M415.7,542.9h0M423.4,539.1h0M424.8,532.9h0M419.5,564.2h0M420.1,565.8h0M415.7,560.9h0M419.6,537.4h0M419.2,539.9h0M420.5,483.9h0M413.6,563.8h0M424.8,555.6h0M419.4,508.1h0M418.0,550.4h0M422.8,562.1h0M419.9,533.2h0M419.1,551.3h0M421.5,498.8h0M414.1,560.2h0M419.7,518.9h0M418.2,566.4h0M424.6,553.3h0M424.2,554.1h0M416.5,504.7h0M418.9,569.5h0M414.8,542.0h0M418.4,546.5h0M422.9,552.1h0M424.0,558.9h0M418.9,561.3h0M417.0,558.9h0M415.5,513.9h0M420.6,563.5h0M424.2,547.6h0M414.8,555.8h0M422.5,549.3h0M413.5,568.4h0M415.6,565.1h0M416.0,562.0h0M421.4,500.1h0M417.1,552.6h0M417.5,551.8h0M420.6,562.1h0M414.5,551.9h0M421.9,557.6h0M414.7,554.1h0M419.3,559.2h0M416.2,568.2h0M415.6,559.6h0M419.6,544.2h0M418.5,551.4h0M417.7,513.4h0M418.2,530.9h0M419.6,512.1h0M415.2,524.0h0M415.7,561.7h0M420.8,563.9h0M420.8,546.2h0M419.6,418.4h0M423.4,559.0h0M420.5,513.5h0M423.4,561.3h0M416.0,542.2h0M422.1,550.1h0M422.9,567.5h0M424.0,539.7h0M417.0,531.0h0M417.0,544.7h0M424.2,556.9h0M415.9,509.9h0M425.1,525.2h0M423.8,565.0h0M414.9,553.7h0M416.1,564.6h0M421.9,519.2h0M416.4,514.2h0M414.4,518.2h0M423.1,485.7h0M418.3,567.2h0M422.6,473.9h0M414.8,503.2h0M418.1,549.8h0M421.4,539.8h0M413.5,567.2h0M415.7,520.6h0M421.4,561.8h0M424.1,541.3h0M424.8,549.5h0M414.6,554.9h0M419.3,565.3h0M422.3,560.9h0M419.2,565.6h0M421.4,547.9h0M415.5,564.9h0M414.1,522.8h0M414.5,567.0h0M413.7,552.1h0M419.8,557.4h0M419.4,528.7h0M420.0,564.9h0M415.0,458.8h0M415.5,558.2h0M415.7,565.4h0M423.2,562.7h0M425.0,513.6h0M424.3,536.2h0M414.4,556.7h0M414.0,560.1h0M424.6,545.5h0M418.8,536.0h0M422.3,519.6h0M417.2,559.4h0M418.8,542.7h0M419.4,552.5h0M418.4,555.1h0M420.4,565.7h0M413.4,545.4h0M421.6,480.5h0M423.3,552.9h0M415.4,551.6h0M418.7,528.0h0M422.0,514.8h0M418.1,539.0h0M415.6,565.0h0M415.2,568.2h0M419.4,463.5h0M413.5,494.4h0M423.9,562.7h0M422.8,566.8h0M421.6,505.6h0M423.5,566.9h0M420.7,551.1h0M418.1,556.6h0M420.4,567.6h0M419.3,519.6h0M424.9,561.5h0M422.8,552.4h0M416.3,471.2h0M424.1,564.3h0M422.1,549.4h0M422.5,514.5h0M422.9,566.3h0M418.1,551.0h0M423.9,514.9h0M423.7,517.0h0M421.5,567.1h0M422.4,559.9h0M422.3,566.8h0M418.1,548.3h0M421.8,538.1h0M414.1,568.6h0M417.3,559.4h0M418.8,553.7h0M413.4,567.8h0M417.5,546.6h0M420.8,563.3h0M420.7,559.6h0M416.0,556.2h0M424.5,544.0h0M421.2,518.9h0M417.3,420.7h0M421.1,544.1h0M420.0,566.2h0M419.6,507.2h0M417.9,454.8h0M425.1,554.7h0M420.9,534.5h0M421.6,543.5h0M422.3,560.9h0M424.9,567.0h0M413.5,545.6h0M420.6,564.0h0M422.0,544.6h0M416.3,556.2h0M418.0,566.1h0M413.9,540.4h0M415.6,564.9h0M417.7,561.8h0M414.4,486.3h0M416.2,513.0h0M424.0,531.3h0M419.8,557.2h0M419.3,517.4h0M424.7,560.4h0M420.0,459.3h0M425.1,566.0h0M420.8,517.9h0M422.9,534.9h0M414.2,553.8h0M420.4,553.7h0M422.3,547.8h0M413.8,546.1h0M424.3,567.5h0M415.2,496.3h0M418.9,555.4h0M415.3,503.4h0M419.2,534.9h0M420.5,525.3h0M414.0,568.0h0M424.5,560.7h0M418.3,446.8h0M419.5,561.3h0M420.4,563.3h0M417.6,565.4h0M416.7,549.1h0M421.0,555.9h0M419.9,564.3h0M416.6,536.8h0M421.8,545.9h0M416.8,477.6h0M413.4,542.3h0M416.2,554.7h0M413.8,528.9h0M415.1,533.1h0M422.2,555.6h0M417.9,545.8h0M423.9,564.8h0M422.1,528.6h0M413.9,566.7h0M425.0,550.9h0M424.5,512.3h0M414.1,547.7h0M424.0,557.8h0M418.4,557.8h0M418.9,556.7h0M424.8,540.6h0M416.2,565.7h0M419.5,558.7h0M424.4,549.7h0M421.8,518.6h0M418.8,568.8h0M424.9,549.6h0M423.0,502.9h0M420.4,565.6h0M414.6,563.9h0M420.7,530.9h0M418.7,552.0h0M415.7,550.5h0M413.9,565.1h0M419.5,529.2h0M414.7,565.0h0M418.5,487.6h0M421.2,549.5h0M418.7,559.7h0M416.4,557.9h0M420.2,558.2h0M418.2,513.8h0M422.5,417.5h0M419.6,565.5h0M425.1,562.9h0M424.6,544.7h0M422.0,560.6h0M416.1,568.9h0M414.6,553.1h0M423.9,544.3h0M422.6,547.4h0M420.7,524.0h0M417.5,527.0h0M427.3,541.4h0M430.5,562.1h0M429.6,505.7h0M429.8,550.2h0M430.1,564.1h0M431.1,511.9h0M426.6,564.2h0M427.1,564.0h0M432.9,545.9h0M432.3,528.8h0M432.1,567.2h0M425.4,512.0h0M425.6,557.0h0M427.3,548.5h0M428.5,541.6h0M430.0,565.2h0M425.9,563.7h0M429.4,569.1h0M425.7,552.1h0M425.8,566.3h0M430.5,565.3h0M429.5,538.6h0M430.1,556.3h0M428.1,566.3h0M428.9,502.6h0M426.8,566.2h0M427.8,565.4h0M431.0,567.3h0M431.7,560.7h0M425.7,520.6h0M426.1,563.7h0M431.5,569.0h0M430.0,552.5h0M431.2,569.6h0M426.8,556.5h0M428.5,566.2h0M427.2,557.7h0M431.5,550.1h0M428.0,555.6h0M430.3,545.8h0M432.9,551.0h0M427.7,567.6h0M429.5,569.6h0M431.0,558.7h0M432.4,527.3h0M428.5,543.8h0M428.0,565.4h0M425.9,563.2h0M432.0,550.5h0M425.8,508.3h0M425.8,563.9h0M429.6,567.4h0M429.0,565.6h0M430.5,540.7h0M427.5,549.4h0M431.2,565.6h0M425.7,556.5h0M426.8,547.6h0M430.3,568.4h0M425.8,521.6h0M427.5,565.3h0M430.8,565.6h0M430.6,554.7h0M427.4,546.4h0M426.3,563.6h0M428.0,549.6h0M430.9,553.2h0M428.0,568.1h0M426.1,531.1h0M430.7,533.3h0M429.6,537.9h0M432.4,562.9h0M432.5,546.8h0M432.3,565.3h0M428.6,520.0h0M431.5,556.3h0M427.5,552.9h0M427.6,550.8h0M428.3,565.0h0M432.5,563.1h0M432.2,568.2h0M427.1,568.1h0M428.0,551.7h0M428.0,559.8h0M428.0,560.7h0M428.2,569.4h0M428.2,517.4h0M426.7,554.3h0M429.6,548.8h0M431.4,564.2h0M429.4,563.9h0M431.7,557.8h0M429.6,532.9h0M426.5,553.0h0M431.1,558.7h0M432.1,561.9h0M427.4,551.8h0M425.3,564.1h0M429.2,548.0h0M429.4,568.3h0M429.6,566.5h0M432.7,519.7h0M430.3,559.9h0M431.5,556.8h0M425.6,551.7h0M429.4,529.2h0M431.3,566.4h0M425.8,546.3h0M425.8,565.3h0M430.9,560.1h0M432.2,556.4h0M425.8,561.9h0M430.1,551.9h0M426.3,525.2h0M431.0,567.0h0M430.2,566.7h0M427.1,552.7h0M426.9,534.6h0M431.2,530.1h0M429.2,556.7h0M431.2,566.3h0M428.2,554.8h0M427.8,550.9h0M432.8,569.0h0M430.4,565.5h0M429.0,549.3h0M429.4,567.3h0M430.8,553.6h0M430.7,569.2h0M432.3,566.0h0M428.4,551.1h0M431.6,518.8h0M430.4,565.7h0M431.9,537.6h0M431.5,565.6h0M431.7,504.1h0M432.1,524.7h0M432.7,561.1h0M430.2,485.5h0M429.3,564.5h0M430.7,554.8h0M431.5,496.8h0M428.5,561.3h0M428.4,549.3h0M426.3,567.2h0M431.0,541.1h0M432.9,542.2h0M428.1,536.2h0M426.5,558.1h0M426.7,526.5h0M428.5,561.8h0M427.4,543.1h0M432.8,557.3h0M425.6,568.8h0M427.6,566.7h0M426.0,561.2h0M430.2,564.2h0M431.2,536.6h0M426.5,568.1h0M425.6,567.4h0M428.7,554.3h0M429.7,521.7h0M432.3,564.5h0M425.4,566.7h0M426.0,566.4h0M426.6,565.2h0M426.8,562.4h0M427.0,553.2h0M430.8,564.4h0M429.8,568.8h0M426.9,565.0h0M426.6,557.7h0M427.3,566.6h0M426.5,556.4h0M431.1,568.7h0M427.6,568.3h0M429.5,568.4h0M431.6,553.6h0M428.9,508.5h0M427.2,565.1h0M432.1,553.1h0M432.3,565.3h0M427.8,536.7h0M429.4,550.9h0M432.7,558.2h0M428.9,560.1h0M426.9,564.1h0M425.5,542.8h0M432.6,552.4h0M431.4,563.9h0M428.2,544.4h0M429.3,547.7h0M429.2,549.2h0M427.3,568.6h0M432.9,541.8h0M430.3,560.7h0M427.0,493.5h0M425.2,567.9h0M428.9,542.9h0M428.1,539.5h0M431.4,560.0h0M430.8,529.2h0M429.9,558.5h0M426.4,557.8h0M426.4,516.3h0M427.7,564.1h0M427.2,550.8h0M432.0,560.3h0M429.2,532.6h0M430.2,533.3h0M433.0,557.0h0M427.2,567.2h0M429.3,540.0h0M426.3,553.6h0M431.2,567.6h0M425.1,538.9h0M431.6,568.9h0M431.8,567.6h0M431.6,566.3h0M425.8,554.3h0M427.3,479.7h0M430.8,562.6h0M425.9,553.9h0M428.9,564.6h0M428.8,537.7h0M432.7,531.0h0M429.8,566.8h0M431.9,557.4h0M427.5,519.5h0M431.4,569.0h0M428.4,550.5h0M432.4,562.9h0M425.8,548.4h0M431.6,553.9h0M426.8,496.0h0M429.4,564.2h0M429.3,566.5h0M426.4,555.8h0M431.7,540.3h0M427.6,546.7h0M427.6,539.5h0M425.7,567.2h0M427.5,567.3h0M428.8,543.5h0M430.8,540.0h0M428.0,564.6h0M430.5,558.0h0M426.0,568.1h0M428.2,527.0h0M428.8,567.3h0M432.8,559.3h0M431.7,546.4h0M430.3,479.9h0M425.2,565.9h0M428.1,373.9h0M430.7,568.5h0M427.0,533.2h0M429.6,558.4h0M428.7,516.8h0M425.2,556.9h0M432.9,512.5h0M431.4,563.9h0M426.8,564.8h0M430.0,535.7h0M427.4,550.9h0M428.1,561.4h0M429.4,558.2h0M427.5,555.4h0M427.8,553.8h0M428.2,545.3h0M430.4,562.3h0M427.2,555.4h0M426.7,566.1h0M430.9,560.6h0M427.7,517.8h0M432.6,553.4h0M429.6,566.9h0M430.8,567.9h0M427.7,566.9h0M431.6,543.4h0M425.9,554.2h0M426.2,565.7h0M425.9,546.8h0M430.5,567.6h0M430.7,524.5h0M426.5,557.9h0M428.3,556.2h0M431.7,568.3h0M429.8,565.6h0M425.8,517.0h0M426.9,549.2h0M426.4,564.4h0M426.1,561.7h0M428.3,541.2h0M425.7,551.7h0M432.4,545.7h0M428.5,546.0h0M429.2,559.3h0M430.2,564.8h0M431.2,545.3h0M438.2,558.0h0M435.4,567.0h0M435.1,564.0h0M435.6,530.0h0M433.1,562.9h0M435.5,565.5h0M437.4,563.1h0M439.2,564.8h0M438.0,569.2h0M437.2,542.7h0M436.8,516.5h0M433.1,554.7h0M435.1,502.5h0M435.2,566.9h0M437.1,546.5h0M433.7,556.5h0M435.4,552.4h0M436.2,561.0h0M438.0,564.8h0M438.2,567.7h0M436.8,537.0h0M434.0,564.8h0M437.8,568.7h0M438.7,558.3h0M436.5,558.5h0M435.2,564.3h0M436.2,564.7h0M433.9,564.0h0M437.5,566.0h0M439.2,567.9h0M436.2,562.2h0M437.5,553.8h0M438.3,561.0h0M434.2,555.5h0M438.9,534.2h0M436.9,569.6h0M434.3,561.3h0M433.5,547.9h0M434.5,567.2h0M436.6,558.3h0M437.4,567.6h0M435.1,564.4h0M438.8,527.8h0M435.3,567.2h0M435.9,536.7h0M433.8,538.6h0M439.1,556.7h0M433.9,569.4h0M438.7,542.1h0M436.4,563.6h0M436.5,541.9h0M436.5,564.5h0M434.7,568.2h0M438.7,563.9h0M439.2,561.8h0M438.1,569.4h0M436.8,565.6h0M433.8,556.4h0M438.2,530.5h0M434.8,546.1h0M438.6,561.9h0M434.5,562.9h0M436.6,558.4h0M438.2,543.1h0M434.2,525.8h0M436.4,552.1h0M433.5,558.6h0M433.2,564.7h0M434.1,556.8h0M439.2,558.5h0M438.9,554.6h0M437.1,545.0h0M434.9,564.4h0M437.2,561.0h0M437.6,544.8h0M435.4,562.2h0M436.7,551.1h0M438.1,553.4h0M433.1,515.2h0M434.3,544.2h0M435.9,543.6h0M433.9,533.1h0M435.4,566.5h0M436.6,564.8h0M434.1,556.0h0M436.3,530.8h0M434.7,540.6h0M436.6,567.4h0M435.1,562.7h0M437.0,557.5h0M433.2,545.6h0M437.2,560.1h0M433.9,569.6h0M439.0,563.3h0M436.8,513.6h0M436.0,566.4h0M435.6,554.5h0M436.9,536.0h0M437.3,555.6h0M437.8,561.4h0M437.7,560.9h0M436.1,552.2h0M439.3,544.9h0M438.3,556.8h0M438.4,553.7h0M435.6,566.2h0M435.7,568.1h0M436.6,557.5h0M438.7,566.1h0M436.3,556.3h0M436.3,565.8h0M435.7,529.8h0M438.7,568.0h0M435.0,553.1h0M433.4,565.2h0M437.6,567.7h0M438.7,564.9h0M437.6,557.5h0M436.8,563.8h0M437.7,545.2h0M434.9,549.2h0M436.7,556.6h0M433.4,543.1h0M433.8,557.6h0M435.8,502.4h0M436.2,509.8h0M435.5,548.6h0M433.3,529.4h0M437.4,555.4h0M436.3,555.1h0M434.5,546.5h0M434.9,535.6h0M435.5,553.1h0M434.5,556.1h0M433.4,563.4h0M438.7,562.2h0M439.1,561.0h0M437.2,550.9h0M438.4,546.7h0M435.7,526.0h0M438.1,553.9h0M434.4,553.0h0M437.7,547.0h0M436.6,569.0h0M438.7,563.5h0M433.6,519.1h0M438.0,561.4h0M433.8,516.8h0M436.4,513.9h0M439.0,566.2h0M433.0,568.2h0M434.5,510.9h0M434.9,569.4h0M435.0,556.9h0M433.4,562.0h0M438.6,563.3h0M438.1,568.5h0M435.5,566.9h0M435.2,567.1h0M436.7,569.4h0M433.3,549.8h0M433.2,540.1h0M438.6,544.5h0M434.9,563.9h0M436.1,561.1h0M438.9,569.0h0M439.1,565.1h0M436.0,547.0h0M434.3,561.4h0M434.9,556.6h0M438.8,548.5h0M438.6,559.6h0M434.2,508.3h0M438.3,566.1h0M435.2,552.8h0M436.0,554.0h0M434.1,566.1h0M438.5,535.8h0M439.3,562.4h0M434.3,542.0h0M437.0,560.7h0M434.2,568.6h0M438.5,561.7h0M433.3,567.7h0M433.7,535.6h0M437.6,554.8h0M435.0,563.4h0M438.7,554.4h0M438.5,559.7h0M437.5,565.8h0M433.9,567.7h0M437.4,553.5h0M438.9,490.5h0M435.8,569.3h0M433.5,556.1h0M434.4,540.2h0M434.9,562.6h0M437.5,564.7h0M434.2,565.5h0M434.1,536.0h0M434.5,567.5h0M437.2,559.3h0M438.0,568.2h0M435.3,550.6h0M437.2,565.0h0M438.6,555.1h0M436.7,563.3h0M434.4,551.6h0M434.9,567.9h0M438.8,534.8h0M437.2,530.5h0M434.7,557.7h0M437.0,567.8h0M433.6,547.5h0M439.2,566.2h0M435.8,562.9h0M436.3,557.1h0M436.3,545.3h0M433.3,551.6h0M436.8,533.4h0M434.8,559.5h0M434.6,569.3h0M438.1,563.1h0M433.6,565.0h0M434.8,558.8h0M437.8,563.5h0M434.6,568.9h0M434.8,568.1h0M436.5,551.2h0M434.2,560.3h0M438.6,569.4h0M439.2,547.3h0M433.2,567.1h0M435.9,568.8h0M437.7,546.0h0M435.4,559.4h0M438.8,567.3h0M436.1,548.9h0M434.1,555.1h0M436.5,565.5h0M437.1,565.7h0M435.3,567.6h0M437.1,550.9h0M437.9,560.4h0M436.3,566.9h0M436.2,559.0h0M438.3,561.6h0M437.3,528.7h0M436.3,563.1h0M439.0,564.3h0M434.1,564.7h0M437.9,562.5h0M434.0,554.3h0M436.8,547.6h0M434.5,519.9h0M435.8,527.0h0M437.9,564.9h0M437.9,568.1h0M438.0,560.0h0M434.5,547.1h0M436.1,547.8h0M434.4,565.4h0M436.7,548.9h0M436.1,556.8h0M433.2,562.8h0M436.8,549.2h0M437.5,567.9h0M436.6,535.9h0M438.5,560.1h0M434.1,566.4h0M434.0,564.8h0M433.1,559.7h0M436.1,552.9h0M435.7,560.4h0M435.8,555.5h0M434.7,538.0h0M438.0,557.1h0M433.5,566.4h0M438.7,568.6h0M436.6,565.7h0M436.4,557.4h0M438.0,565.9h0M434.5,565.1h0M433.9,560.4h0M435.0,533.2h0M433.3,566.5h0M435.0,565.8h0M436.9,559.4h0M436.3,540.3h0M434.7,543.3h0M436.7,567.4h0M433.6,536.5h0M438.2,550.7h0M434.1,569.0h0M434.6,564.9h0M434.0,540.3h0M437.3,564.6h0M438.2,564.6h0M437.9,561.3h0M433.4,538.0h0M442.0,567.2h0M441.7,564.2h0M440.7,556.2h0M445.7,563.3h0M439.6,566.5h0M442.5,537.5h0M444.3,558.0h0M445.8,563.1h0M440.2,542.3h0M442.3,561.5h0M444.2,567.6h0M439.5,563.9h0M440.9,515.5h0M445.1,550.9h0M440.2,543.6h0M441.9,567.3h0M441.2,550.6h0M442.1,558.3h0M439.8,555.1h0M439.5,547.6h0M445.8,568.0h0M444.3,558.5h0M444.1,558.8h0M440.8,567.7h0M441.0,566.1h0M442.9,556.6h0M440.9,554.3h0M442.3,569.2h0M445.4,562.5h0M441.7,558.3h0M441.5,567.8h0M445.7,558.8h0M443.3,568.3h0M439.5,566.1h0M441.9,563.4h0M443.6,559.4h0M439.7,564.9h0M441.5,560.6h0M443.9,569.2h0M445.0,568.1h0M443.2,553.8h0M445.1,566.8h0M442.3,566.5h0M441.9,558.1h0M444.8,567.0h0M441.8,553.6h0M444.4,556.9h0M440.7,565.4h0M441.6,555.5h0M440.5,565.7h0M442.9,546.7h0M440.4,550.7h0M440.6,557.1h0M440.7,529.4h0M442.4,562.8h0M441.3,554.2h0M442.2,554.5h0M445.8,561.5h0M443.8,541.0h0M445.0,536.8h0M440.6,560.0h0M441.8,564.5h0M439.8,567.0h0M443.8,557.4h0M441.7,544.9h0M441.1,543.0h0M439.4,567.7h0M440.5,554.2h0M441.0,568.8h0M441.9,560.0h0M445.4,547.6h0M444.0,554.9h0M441.1,569.5h0M441.7,560.6h0M440.3,555.6h0M445.4,556.4h0M441.7,560.3h0M444.3,545.9h0M444.0,560.2h0M445.3,567.3h0M439.4,555.0h0M441.4,561.0h0M441.8,564.0h0M439.8,560.1h0M445.1,556.3h0M441.4,538.3h0M444.4,559.8h0M442.7,556.6h0M439.6,549.7h0M441.9,542.1h0M440.9,554.4h0M439.6,565.5h0M440.3,537.6h0M443.2,560.6h0M439.5,566.3h0M441.3,559.4h0M442.1,560.2h0M442.9,567.9h0M440.2,557.6h0M443.9,568.4h0M441.0,563.8h0M444.1,566.5h0M443.7,565.1h0M440.3,539.5h0M440.6,554.8h0M441.1,554.0h0M444.0,565.5h0M442.0,561.5h0M441.8,568.6h0M445.0,567.7h0M440.8,564.6h0M441.2,563.9h0M441.6,527.3h0M440.7,554.3h0M439.6,545.5h0M439.4,565.6h0M443.4,566.7h0M443.0,566.0h0M444.6,563.2h0M445.7,558.1h0M441.2,558.3h0M443.7,563.4h0M445.3,554.5h0M440.7,541.9h0M443.8,563.7h0M443.7,556.7h0M445.6,558.3h0M445.0,565.9h0M440.8,557.5h0M443.4,549.8h0M439.9,565.3h0M442.1,550.7h0M441.9,557.1h0M439.7,562.1h0M441.8,543.8h0M441.4,551.6h0M442.6,567.1h0M441.1,566.6h0M440.3,559.6h0M441.9,551.9h0M442.4,563.0h0M440.4,567.7h0M443.7,554.3h0M440.9,539.1h0M439.9,564.7h0M441.5,566.7h0M442.1,564.0h0M440.3,566.7h0M443.1,535.7h0M443.9,565.1h0M442.9,564.9h0M443.9,563.1h0M439.4,564.7h0M441.9,566.0h0M441.7,542.6h0M439.7,564.5h0M441.9,565.9h0M439.6,567.5h0M442.5,540.5h0M443.1,518.3h0M442.4,541.1h0M441.4,563.0h0M441.0,553.4h0M439.4,568.1h0M441.6,568.7h0M445.2,563.2h0M443.0,554.3h0M441.0,559.7h0M443.7,569.2h0M440.5,554.9h0M442.4,568.5h0M443.3,553.4h0M445.6,518.7h0M441.7,567.7h0M443.1,565.0h0M445.5,568.2h0M444.4,569.0h0M443.4,543.8h0M443.4,540.7h0M442.0,566.1h0M442.0,540.2h0M441.1,566.5h0M444.7,527.1h0M445.1,562.8h0M441.8,500.9h0M445.3,563.5h0M439.5,560.0h0M440.2,567.7h0M442.6,540.6h0M441.3,562.7h0M441.7,554.6h0M445.7,558.9h0M440.3,566.9h0M440.6,561.7h0M440.8,554.0h0M443.8,567.5h0M440.8,558.7h0M439.3,563.1h0M442.9,562.2h0M441.9,557.3h0M440.9,542.7h0M442.5,546.9h0M443.6,557.2h0M442.9,554.1h0M443.4,545.0h0M443.0,552.7h0M444.8,546.0h0M445.7,514.3h0M441.5,560.4h0M441.6,557.8h0M445.1,548.9h0M441.3,568.1h0M444.0,551.4h0M443.9,555.3h0M443.8,568.1h0M445.6,568.4h0M444.7,567.2h0M440.3,563.8h0M443.4,566.6h0M442.5,567.9h0M443.0,559.5h0M441.7,541.5h0M441.2,540.1h0M444.2,561.0h0M442.8,568.5h0M440.8,564.3h0M440.9,567.6h0M441.4,559.9h0M440.5,565.3h0M442.7,564.5h0M440.1,551.0h0M439.7,552.1h0M439.7,568.4h0M440.0,544.0h0M443.9,531.4h0M440.0,553.7h0M442.3,557.6h0M444.4,559.2h0M442.4,567.3h0M440.4,556.3h0M445.0,539.3h0M445.0,562.9h0M439.6,569.3h0M441.0,565.8h0M442.6,568.9h0M444.5,553.6h0M441.9,560.6h0M444.0,554.5h0M440.9,563.4h0M444.0,560.9h0M441.4,554.3h0M441.5,556.0h0M444.3,568.3h0M444.8,553.5h0M444.7,556.7h0M443.0,533.5h0M442.1,566.4h0M443.9,561.6h0M443.4,568.8h0M444.8,568.7h0M444.6,558.4h0M440.1,553.8h0M441.8,557.5h0M443.7,550.4h0M440.8,567.2h0M440.5,564.3h0M439.4,541.9h0M443.1,553.8h0M445.5,569.4h0M445.7,564.9h0M440.2,558.4h0M443.8,555.1h0M442.0,568.6h0M443.4,561.9h0M441.9,560.6h0M445.4,563.6h0M445.8,546.9h0M439.6,552.8h0M444.0,559.0h0M440.1,545.3h0M439.6,552.0h0M441.2,567.0h0M444.1,545.6h0M445.8,557.8h0M440.1,563.3h0M441.5,566.4h0M439.5,557.8h0M442.9,563.2h0M442.5,545.5h0M441.7,563.9h0M441.3,563.3h0M444.6,553.6h0M444.8,554.5h0M441.2,568.1h0M441.9,562.5h0M443.3,554.6h0M444.3,560.5h0M445.7,565.8h0M441.8,560.0h0M443.9,556.9h0M449.7,559.5h0M451.4,562.5h0M446.9,561.3h0M447.1,565.2h0M446.6,561.5h0M452.4,520.3h0M447.6,545.5h0M449.3,549.3h0M446.7,554.4h0M448.1,565.5h0M446.0,556.3h0M449.8,560.6h0M446.9,552.1h0M450.2,563.2h0M447.8,562.1h0M447.4,557.7h0M449.2,557.7h0M448.4,562.9h0M447.7,562.5h0M446.2,537.9h0M446.3,553.3h0M452.1,562.5h0M448.0,564.3h0M446.4,547.6h0M447.1,549.2h0M449.2,565.0h0M452.8,566.3h0M447.3,560.8h0M451.9,554.5h0M449.2,547.3h0M448.8,555.7h0M451.5,556.4h0M448.6,541.3h0M446.3,545.1h0M449.7,559.2h0M450.4,529.2h0M450.2,548.0h0M447.8,567.1h0M452.4,567.5h0M451.9,568.5h0M452.8,557.7h0M448.9,550.5h0M451.7,561.8h0M450.9,565.4h0M447.1,569.1h0M446.1,553.0h0M447.0,552.1h0M446.7,569.0h0M446.4,557.8h0M448.4,567.4h0M451.1,568.7h0M448.0,551.5h0M449.4,569.0h0M445.9,564.2h0M447.3,556.7h0M452.5,567.7h0M445.9,561.1h0M449.5,515.9h0M451.5,565.0h0M451.4,568.2h0M451.0,568.7h0M448.6,558.1h0M451.5,568.4h0M451.6,567.9h0M451.2,548.6h0M452.7,554.3h0M446.6,566.8h0M452.5,566.3h0M448.7,527.1h0M450.8,548.6h0M447.6,545.3h0M452.2,548.9h0M446.0,561.3h0M449.9,490.5h0M447.4,546.5h0M448.6,549.2h0M448.4,568.3h0M450.4,565.1h0M451.5,555.2h0M448.4,546.5h0M450.3,559.3h0M448.3,568.1h0M447.8,562.1h0M452.2,565.1h0M448.1,539.1h0M446.5,569.4h0M448.2,569.3h0M451.0,550.2h0M447.3,562.2h0M451.0,568.4h0M449.7,503.0h0M450.6,562.8h0M447.1,564.6h0M446.6,561.6h0M446.9,564.5h0M448.3,566.1h0M448.9,567.3h0M445.9,564.6h0M449.4,564.3h0M448.7,567.5h0M448.1,566.0h0M449.6,548.0h0M452.5,552.9h0M447.3,565.6h0M452.0,543.2h0M448.1,561.8h0M451.1,555.6h0M446.6,566.3h0M452.7,558.6h0M448.9,540.2h0M452.6,555.5h0M447.4,565.7h0M448.7,549.7h0M450.8,568.0h0M447.1,568.2h0M447.8,564.5h0M450.6,553.9h0M452.5,559.1h0M448.1,550.3h0M447.1,558.5h0M448.4,567.5h0M452.8,530.0h0M446.9,566.8h0M450.3,559.0h0M448.5,567.0h0M450.3,550.6h0M447.3,568.4h0M450.2,563.2h0M452.0,566.4h0M451.8,566.7h0M450.2,564.6h0M449.4,554.9h0M449.8,565.6h0M446.7,569.3h0M451.7,565.5h0M450.7,569.1h0M449.0,548.0h0M450.5,565.9h0M448.8,519.9h0M448.5,568.6h0M447.5,550.6h0M450.0,565.1h0M449.9,558.1h0M449.5,559.1h0M446.1,562.8h0M450.2,560.8h0M449.0,545.2h0M450.0,557.2h0M450.0,553.0h0M452.3,551.0h0M446.9,562.5h0M449.1,565.6h0M452.8,486.6h0M451.0,565.6h0M448.0,516.6h0M451.0,557.3h0M452.8,568.8h0M448.7,558.7h0M451.9,563.8h0M446.7,552.0h0M452.8,562.0h0M449.3,561.9h0M447.5,562.9h0M451.7,564.2h0M450.4,547.0h0M452.4,568.4h0M451.6,566.2h0M451.4,569.4h0M449.4,567.7h0M452.8,553.3h0M446.3,560.0h0M451.9,565.1h0M450.8,566.7h0M447.6,568.4h0M451.5,566.9h0M449.0,569.0h0M449.6,552.9h0M451.9,567.4h0M447.2,559.1h0M447.8,563.6h0M450.3,556.9h0M446.4,560.1h0M449.7,507.4h0M451.3,541.5h0M449.3,567.8h0M447.5,541.8h0M451.4,544.5h0M451.8,550.4h0M451.2,558.7h0M449.7,566.8h0M452.2,540.2h0M451.4,560.9h0M446.9,555.9h0M448.4,554.9h0M446.6,568.0h0M446.1,545.4h0M448.3,554.0h0M451.9,563.7h0M451.7,562.6h0M446.7,566.1h0M447.1,563.5h0M448.6,546.6h0M451.8,529.6h0M450.2,565.9h0M452.1,569.3h0M446.4,569.3h0M452.7,558.5h0M447.3,551.3h0M450.2,567.6h0M452.0,569.2h0M450.9,549.4h0M447.2,546.8h0M450.5,538.7h0M448.9,565.4h0M446.0,560.8h0M448.2,567.2h0M448.1,546.9h0M450.2,557.8h0M447.8,560.7h0M450.1,562.1h0M450.7,561.1h0M447.1,558.7h0M446.8,562.3h0M450.7,557.7h0M449.1,568.6h0M446.8,552.2h0M446.7,553.0h0M452.4,525.0h0M450.1,567.0h0M448.4,565.2h0M447.2,565.9h0M452.8,563.9h0M450.7,563.3h0M451.0,554.0h0M448.4,563.7h0M448.0,562.8h0M448.7,568.0h0M446.9,566.5h0M450.3,551.1h0M448.8,566.1h0M451.6,568.2h0M448.7,566.8h0M449.0,563.6h0M449.4,558.2h0M452.4,565.8h0M448.3,536.2h0M450.8,546.0h0M447.5,548.2h0M449.9,567.7h0M447.8,563.7h0M451.9,560.9h0M447.9,548.4h0M451.8,566.7h0M450.6,536.6h0M449.0,567.7h0M452.4,569.0h0M448.6,552.9h0M451.0,539.6h0M450.0,552.7h0M449.0,564.0h0M446.3,564.2h0M448.8,538.5h0M447.8,548.2h0M448.9,563.5h0M452.5,560.5h0M447.9,564.0h0M450.7,560.5h0M450.5,558.4h0M447.6,569.5h0M448.7,568.4h0M446.8,567.2h0M452.1,557.6h0M447.6,559.8h0M448.8,567.9h0M448.2,560.5h0M451.6,565.8h0M451.8,565.5h0M450.0,568.7h0M449.7,556.7h0M446.6,531.4h0M452.1,558.1h0M446.5,552.0h0M448.4,559.8h0M448.5,557.1h0M450.9,563.6h0M450.5,549.2h0M448.3,563.3h0M452.1,553.4h0M452.5,564.7h0M446.0,562.2h0M450.3,563.4h0M449.1,560.8h0M448.4,555.8h0M449.1,562.5h0M448.1,554.1h0M450.5,557.2h0M450.1,565.9h0M452.6,558.3h0M452.7,562.1h0M452.8,563.3h0M455.8,524.4h0M459.2,568.0h0M457.8,569.3h0M458.2,554.9h0M460.5,555.8h0M453.3,565.8h0M456.4,554.6h0M455.9,556.4h0M457.8,554.3h0M454.5,559.5h0M460.4,564.6h0M454.4,562.7h0M455.7,562.3h0M453.9,566.8h0M455.8,562.8h0M458.5,568.6h0M453.5,550.9h0M454.1,550.4h0M457.8,568.9h0M457.6,556.9h0M458.5,564.8h0M454.8,555.9h0M459.0,567.6h0M458.4,566.5h0M458.8,557.0h0M453.7,538.1h0M456.4,556.4h0M452.9,565.0h0M459.4,552.4h0M460.1,567.0h0M459.7,539.7h0M453.0,553.8h0M455.5,561.6h0M456.9,563.6h0M456.9,565.2h0M453.7,555.3h0M458.9,559.7h0M455.1,565.1h0M456.7,569.2h0M453.8,538.0h0M457.2,553.6h0M453.8,558.4h0M453.5,567.8h0M456.7,562.6h0M455.1,547.5h0M458.8,550.7h0M454.7,556.4h0M456.0,558.1h0M453.2,558.4h0M454.5,560.7h0M456.3,531.3h0M457.1,568.6h0M456.3,537.4h0M459.3,564.2h0M453.6,535.5h0M459.3,562.8h0M454.0,562.6h0M460.2,557.0h0M456.8,558.2h0M455.9,567.3h0M457.5,532.0h0M459.4,562.9h0M460.2,567.6h0M456.0,558.1h0M452.9,556.4h0M454.0,562.7h0M459.1,567.2h0M458.4,560.5h0M458.3,564.1h0M454.0,568.9h0M456.9,548.0h0M453.0,535.8h0M453.7,568.5h0M455.1,566.9h0M460.2,567.9h0M457.7,537.6h0M459.3,536.4h0M453.2,552.1h0M456.0,564.4h0M453.4,567.7h0M454.8,555.5h0M453.7,565.4h0M459.9,566.1h0M455.3,568.3h0M456.6,560.0h0M457.8,569.3h0M459.6,561.2h0M460.1,569.0h0M457.2,565.4h0M456.7,550.8h0M459.7,564.9h0M455.8,557.5h0M455.1,567.4h0M458.5,568.7h0M454.8,564.4h0M455.6,567.3h0M456.1,563.1h0M456.5,556.5h0M455.6,552.8h0M456.1,554.1h0M456.3,558.8h0M453.2,562.4h0M459.2,555.5h0M453.3,568.3h0M456.9,565.4h0M457.0,561.6h0M455.9,568.6h0M454.5,557.6h0M453.6,564.2h0M455.7,562.3h0M455.2,549.4h0M456.5,533.7h0M454.6,564.5h0M458.6,560.3h0M456.6,561.4h0M452.9,554.6h0M455.9,559.9h0M460.2,552.9h0M452.9,562.8h0M457.4,563.4h0M460.2,552.8h0M455.6,544.4h0M457.4,563.1h0M455.6,566.8h0M455.1,567.4h0M457.5,562.5h0M457.3,527.4h0M455.2,564.0h0M456.6,551.1h0M456.8,567.7h0M458.6,566.6h0M453.2,566.7h0M453.5,554.3h0M454.8,554.1h0M454.9,565.0h0M458.9,565.6h0M456.1,568.3h0M459.4,568.2h0M455.9,563.2h0M455.0,568.4h0M458.0,562.3h0M453.5,566.4h0M460.4,568.2h0M459.2,546.0h0M455.3,544.3h0M455.3,560.9h0M459.1,560.5h0M458.9,566.3h0M457.7,535.8h0M453.3,567.4h0M458.7,533.9h0M453.2,561.9h0M457.6,566.1h0M457.0,540.9h0M459.9,568.6h0M457.7,569.0h0M453.0,563.4h0M460.0,554.5h0M458.6,561.7h0M457.3,569.3h0M452.9,552.4h0M458.5,563.3h0M456.0,558.9h0M458.0,569.2h0M460.4,561.7h0M459.8,553.2h0M453.4,547.5h0M458.8,568.4h0M456.2,567.2h0M458.6,563.8h0M455.7,558.0h0M456.3,554.2h0M456.2,554.5h0M453.7,543.6h0M455.3,561.3h0M458.4,565.6h0M453.4,556.6h0M453.7,548.5h0M459.2,566.3h0M457.9,562.5h0M457.0,568.6h0M453.7,549.1h0M453.7,566.0h0M455.2,565.8h0M460.1,558.4h0M457.1,564.1h0M459.9,564.3h0M454.4,567.0h0M456.0,559.2h0M456.9,499.7h0M459.2,562.2h0M453.8,551.9h0M459.5,514.4h0M456.4,560.7h0M453.1,569.4h0M456.1,568.7h0M455.7,556.5h0M458.0,567.2h0M459.9,545.7h0M456.6,565.1h0M458.1,551.8h0M455.8,567.7h0M458.8,561.5h0M453.6,561.3h0M458.5,566.9h0M454.1,566.7h0M457.3,552.3h0M454.4,569.1h0M455.5,553.0h0M454.1,552.8h0M455.5,564.1h0M457.3,549.3h0M456.8,563.9h0M455.8,567.8h0M457.2,569.4h0M459.3,558.7h0M455.6,541.5h0M457.3,544.5h0M456.5,565.8h0M460.3,554.2h0M455.3,569.3h0M458.2,566.0h0M454.6,549.6h0M454.8,568.0h0M458.4,565.4h0M457.2,560.3h0M454.8,557.0h0M453.3,561.6h0M459.1,561.1h0M455.7,559.6h0M458.3,558.4h0M456.1,558.1h0M457.6,564.4h0M457.1,566.6h0M460.3,544.7h0M459.8,536.0h0M456.3,568.9h0M456.5,561.1h0M454.6,561.4h0M458.6,560.5h0M453.6,555.8h0M455.2,559.0h0M459.3,566.7h0M453.1,551.2h0M458.2,567.9h0M457.2,561.7h0M457.0,563.0h0M455.4,562.1h0M454.0,567.9h0M460.1,548.9h0M458.7,562.3h0M459.0,556.6h0M453.6,568.9h0M458.8,529.5h0M454.5,566.7h0M454.3,563.4h0M456.9,544.0h0M457.5,558.9h0M453.7,557.1h0M458.7,564.8h0M457.3,566.2h0M459.7,565.8h0M459.9,563.5h0M458.1,546.6h0M455.6,560.5h0M460.1,558.3h0M458.3,569.6h0M455.1,552.4h0M459.4,558.4h0M458.4,528.8h0M454.9,562.1h0M454.7,550.2h0M453.0,566.4h0M456.9,565.7h0M454.8,569.2h0M455.1,563.3h0M454.8,563.1h0M453.8,565.1h0M456.5,556.7h0M454.9,559.7h0M455.0,550.6h0M454.9,567.0h0M456.7,569.0h0M459.5,569.5h0M454.1,522.5h0M459.4,558.2h0M459.4,568.2h0M457.5,556.2h0M457.0,569.3h0M458.4,563.5h0M456.9,562.1h0M457.9,563.6h0M459.9,566.0h0M458.8,565.0h0M454.8,549.1h0M453.2,554.5h0M460.0,564.3h0M455.6,521.4h0M458.8,563.6h0M454.6,560.3h0M465.1,562.4h0M464.2,549.8h0M467.9,567.5h0M470.1,563.1h0M465.6,564.2h0M466.2,558.9h0M464.0,563.8h0M462.8,567.4h0M470.1,568.3h0M461.6,558.0h0M470.0,568.9h0M467.2,568.5h0M461.2,562.9h0M469.7,567.7h0M461.5,569.3h0M466.2,568.0h0M461.7,567.7h0M470.5,553.8h0M463.6,569.3h0M469.3,566.0h0M461.1,550.3h0M467.3,535.4h0M461.2,567.9h0M460.8,569.4h0M466.3,568.4h0M470.5,553.8h0M467.4,537.7h0M469.2,567.9h0M468.5,564.5h0M465.8,567.6h0M461.3,565.0h0M465.8,566.1h0M462.4,562.4h0M465.8,566.9h0M464.1,567.0h0M465.6,562.0h0M462.5,567.3h0M467.6,564.4h0M464.7,544.8h0M465.4,567.8h0M461.3,557.2h0M465.4,567.5h0M466.1,564.6h0M470.4,561.0h0M466.2,559.0h0M461.8,569.6h0M463.5,569.3h0M463.9,537.3h0M467.6,569.5h0M470.0,550.9h0M470.4,558.2h0M470.1,551.0h0M469.9,569.0h0M469.2,565.1h0M470.0,569.4h0M460.7,567.3h0M465.5,561.2h0M466.5,565.3h0M467.5,567.5h0M466.7,567.7h0M466.7,558.3h0M470.0,569.6h0M461.4,545.8h0M465.8,553.8h0M470.2,545.0h0M460.8,566.0h0M461.6,565.7h0M469.3,567.1h0M470.2,556.9h0M460.7,565.1h0M460.8,560.6h0M468.9,568.7h0M467.5,567.5h0M465.8,568.4h0M466.4,567.7h0M468.2,564.4h0M468.7,568.7h0M460.5,566.8h0M461.2,564.9h0M468.6,559.7h0M470.4,566.5h0M469.0,564.6h0M464.6,567.5h0M463.9,558.2h0M464.0,565.1h0M460.6,563.4h0M468.3,566.2h0M463.1,565.2h0M466.4,538.9h0M465.8,566.2h0M463.9,552.3h0M467.3,555.1h0M465.1,567.3h0M462.9,541.1h0M469.4,560.5h0M462.3,569.1h0M462.0,564.2h0M463.1,562.7h0M465.3,558.9h0M468.4,565.3h0M463.9,555.7h0M462.9,557.9h0M467.1,566.2h0M463.1,567.5h0M465.8,563.2h0M463.1,563.4h0M469.4,568.0h0M462.4,568.9h0M462.8,565.5h0M463.5,569.4h0M463.8,549.4h0M467.9,567.3h0M467.3,564.7h0M468.5,567.6h0M466.0,561.6h0M461.3,567.5h0M468.2,561.4h0M463.0,560.0h0M462.7,557.6h0M464.7,566.1h0M470.5,563.5h0M464.2,566.9h0M464.1,567.2h0M469.7,567.4h0M470.6,564.0h0M464.4,560.3h0M461.9,548.4h0M468.5,554.1h0M468.4,564.5h0M463.9,552.4h0M468.5,567.4h0M464.3,563.0h0M463.4,561.7h0M466.5,565.0h0M468.0,559.8h0M465.3,566.1h0M468.8,568.9h0M460.6,569.0h0M465.6,557.1h0M464.3,561.0h0M461.1,569.6h0M469.8,563.1h0M461.9,547.7h0M462.6,565.4h0M469.4,566.2h0M470.2,556.3h0M470.0,556.7h0M464.0,552.9h0M469.9,531.6h0M461.9,553.7h0M467.7,566.2h0M470.1,566.0h0M462.4,565.8h0M461.9,561.8h0M467.4,562.2h0M469.5,569.4h0M467.9,564.0h0M470.1,569.1h0M465.1,568.3h0M464.3,551.9h0M461.7,545.7h0M463.3,569.0h0M470.0,566.8h0M461.2,557.1h0M462.4,544.4h0M464.0,566.8h0M461.0,568.3h0M463.6,564.3h0M462.3,561.9h0M461.7,566.6h0M465.8,566.4h0M466.0,558.7h0M466.3,564.6h0M468.2,543.2h0M465.8,552.3h0M470.1,563.2h0M461.3,569.5h0M462.7,566.0h0M461.3,559.8h0M463.6,568.0h0M468.2,569.3h0M469.9,518.4h0M465.6,569.2h0M462.1,568.7h0M463.8,568.8h0M466.3,567.8h0M463.5,555.1h0M468.5,562.3h0M470.4,563.9h0M465.2,569.4h0M466.6,558.7h0M469.1,564.2h0M465.2,552.3h0M462.4,564.7h0M470.1,568.3h0M470.4,567.3h0M460.7,565.0h0M468.2,563.8h0M464.6,568.0h0M461.0,569.2h0M462.1,548.9h0M462.2,560.8h0M468.0,562.6h0M462.6,568.7h0M460.7,556.5h0M462.7,522.5h0M468.6,562.9h0M465.6,568.0h0M467.1,564.1h0M465.2,563.9h0M462.3,565.8h0M460.6,567.2h0M463.6,555.9h0M460.9,565.7h0M463.1,569.4h0M466.8,562.5h0M464.2,558.8h0M465.3,563.2h0M466.8,553.2h0M463.7,567.4h0M464.1,565.4h0M469.5,558.7h0M466.4,569.2h0M464.7,562.8h0M466.0,568.6h0M465.2,559.3h0M463.9,565.4h0M469.8,567.6h0M462.8,560.0h0M470.0,565.4h0M469.2,562.8h0M469.4,545.0h0M462.1,568.1h0M465.7,550.7h0M470.5,568.7h0M463.4,562.2h0M462.2,557.2h0M467.8,566.2h0M462.9,561.3h0M466.4,568.8h0M462.1,554.3h0M470.1,554.7h0M463.4,534.9h0M461.5,562.0h0M467.5,563.1h0M464.0,547.4h0M466.2,564.8h0M465.5,569.2h0M469.9,568.5h0M465.7,564.6h0M464.3,564.7h0M460.5,565.1h0M465.5,568.3h0M463.2,568.6h0M466.3,556.6h0M466.9,557.4h0M465.2,564.1h0M461.4,516.9h0M465.5,549.9h0M465.4,546.7h0M467.0,560.1h0M470.3,569.6h0M463.3,566.1h0M465.0,551.6h0M461.3,557.2h0M468.6,561.5h0M462.9,566.7h0M468.9,561.8h0M468.6,567.4h0M463.1,557.8h0M469.7,568.0h0M465.6,565.5h0M464.8,552.2h0M466.1,556.4h0M470.1,566.0h0M465.5,562.8h0M465.4,545.0h0M463.4,550.3h0M469.0,565.0h0M465.6,563.3h0M464.0,566.8h0M462.5,563.7h0M462.7,558.9h0M469.0,565.0h0M468.7,563.8h0M470.4,553.4h0M469.8,557.7h0M467.4,565.4h0M468.6,559.4h0M467.7,527.8h0M468.7,556.9h0M468.6,556.1h0M462.3,562.2h0M468.8,556.4h0M463.6,563.4h0M463.0,566.4h0M469.8,545.8h0M460.7,563.4h0M465.7,568.7h0M464.0,551.3h0M485.8,564.6h0M482.3,564.6h0M488.1,568.6h0M488.5,568.8h0M483.0,564.0h0M471.9,567.2h0M483.4,563.6h0M472.7,564.1h0M489.4,554.7h0M487.3,549.2h0M476.6,557.3h0M474.2,565.4h0M483.9,561.3h0M485.1,561.4h0M489.5,566.1h0M482.6,569.1h0M473.0,568.2h0M484.5,565.7h0M471.8,551.5h0M487.2,565.2h0M485.4,569.6h0M485.7,563.6h0M487.4,569.6h0M481.5,559.3h0M488.7,567.8h0M482.9,555.8h0M480.1,566.9h0M478.0,558.6h0M477.4,569.2h0M471.1,568.4h0M473.7,544.2h0M485.9,565.9h0M475.0,566.5h0M483.2,569.0h0M485.5,564.7h0M483.9,568.4h0M480.5,569.1h0M476.7,564.8h0M475.9,563.0h0M474.2,564.2h0M483.0,564.7h0M483.8,569.1h0M488.7,565.8h0M477.0,567.0h0M488.4,567.6h0M488.1,566.3h0M476.2,567.0h0M488.9,560.0h0M482.5,568.2h0M489.1,561.2h0M485.5,565.3h0M477.0,553.8h0M476.0,543.4h0M480.6,559.9h0M480.0,550.6h0M471.3,539.4h0M487.1,544.7h0M480.9,565.8h0M479.7,566.1h0M484.9,563.0h0M475.4,562.3h0M474.5,561.6h0M481.8,567.6h0M475.3,563.4h0M476.9,563.4h0M472.0,564.5h0M471.6,565.8h0M477.4,563.5h0M480.7,569.5h0M488.8,568.9h0M482.9,568.5h0M478.6,567.2h0M478.4,547.2h0M475.2,567.6h0M479.7,568.3h0M489.0,563.1h0M473.0,555.4h0M478.9,569.5h0M483.8,568.3h0M485.2,566.0h0M481.3,566.7h0M482.9,565.3h0M488.6,568.6h0M487.9,569.0h0M475.5,550.6h0M481.0,565.6h0M489.7,555.6h0M480.7,567.8h0M474.3,566.0h0M485.3,567.0h0M471.7,537.6h0M473.5,567.1h0M481.2,553.8h0M475.9,568.9h0M484.4,565.0h0M484.5,566.1h0M476.8,564.9h0M485.3,536.0h0M483.0,555.6h0M484.2,561.1h0M479.4,568.6h0M478.9,555.5h0M472.7,552.1h0M479.7,566.0h0M488.9,564.2h0M487.6,564.6h0M471.7,566.6h0M472.0,568.8h0M475.8,564.1h0M483.9,564.9h0M479.0,556.6h0M473.1,563.2h0M478.8,563.4h0M481.6,552.3h0M484.9,569.1h0M478.4,568.9h0M483.1,568.7h0M483.7,568.6h0M482.4,569.1h0M471.5,569.0h0M484.2,569.6h0M473.1,569.1h0M471.7,561.9h0M479.7,566.7h0M471.0,558.9h0M472.0,567.0h0M478.1,561.8h0M479.6,561.3h0M472.7,565.1h0M488.9,563.5h0M486.9,568.8h0M480.0,561.9h0M481.9,568.1h0M476.7,563.4h0M489.5,542.8h0M472.9,568.9h0M476.5,564.7h0M474.9,561.1h0M487.2,567.2h0M480.4,547.4h0M478.5,558.9h0M478.3,568.9h0M487.6,547.3h0M475.6,565.9h0M485.8,562.0h0M484.2,563.2h0M479.2,569.0h0M477.6,559.6h0M479.0,559.6h0M479.3,563.5h0M476.7,567.8h0M482.6,561.7h0M478.5,565.2h0M476.5,567.5h0M485.4,564.4h0M479.4,543.9h0M479.7,560.7h0M487.5,568.6h0M479.3,550.7h0M477.8,568.5h0M487.8,566.6h0M489.3,565.2h0M485.7,568.6h0M478.3,558.4h0M483.5,563.9h0M484.8,564.4h0M476.3,554.7h0M484.5,563.8h0M488.8,561.7h0M483.2,555.7h0M483.4,568.4h0M479.0,558.8h0M483.1,565.7h0M475.0,552.3h0M485.4,565.2h0M481.0,562.4h0M489.4,562.1h0M477.2,563.4h0M484.3,536.6h0M471.0,567.6h0M478.6,567.0h0M485.3,568.4h0M475.6,567.0h0M482.4,558.4h0M474.9,568.6h0M478.3,565.5h0M489.7,565.1h0M474.4,564.5h0M488.1,562.7h0M471.8,559.9h0M481.8,566.1h0M486.4,569.3h0M486.7,561.6h0M478.1,561.1h0M481.9,568.5h0M484.3,565.1h0M485.2,569.6h0M484.9,553.8h0M481.7,561.5h0M475.5,565.0h0M484.1,564.2h0M481.4,551.4h0M481.1,566.8h0M489.5,565.6h0M473.3,568.3h0M485.6,569.4h0M476.9,554.9h0M484.5,555.4h0M488.8,566.7h0M475.9,568.2h0M481.5,558.3h0M480.8,559.3h0M480.1,553.9h0M473.8,552.4h0M482.6,562.1h0M487.7,565.8h0M483.3,569.2h0M476.2,567.2h0M486.1,564.7h0M478.7,559.7h0M473.4,566.9h0M482.2,569.2h0M479.5,558.9h0M480.8,554.4h0M489.6,563.7h0M481.5,569.1h0M488.9,560.6h0M477.4,564.5h0M485.2,563.9h0M472.1,566.2h0M476.4,564.3h0M483.9,552.1h0M483.9,560.7h0M486.5,569.1h0M477.9,567.4h0M475.9,568.7h0M477.5,565.1h0M480.9,569.6h0M471.1,564.8h0M477.8,566.1h0M483.2,566.1h0M473.5,565.7h0M476.6,563.3h0M487.3,567.2h0M488.5,564.4h0M475.4,569.3h0M474.1,558.1h0M472.9,563.7h0M472.3,544.9h0M485.8,568.2h0M484.8,566.7h0M475.7,554.8h0M480.0,566.2h0M483.9,563.4h0M471.2,567.4h0M486.3,563.7h0M487.1,555.1h0M474.7,560.0h0M484.1,555.5h0M484.0,558.7h0M477.1,564.4h0M487.4,553.2h0M474.8,564.5h0M479.7,547.5h0M476.6,559.2h0M479.1,558.3h0M486.2,564.4h0M481.6,563.5h0M482.3,564.9h0M489.5,569.1h0M474.9,564.1h0M474.9,551.2h0M482.5,561.5h0M473.5,551.0h0M489.1,565.5h0M477.2,560.7h0M479.1,561.1h0M478.9,565.6h0M486.5,568.4h0M488.2,564.5h0M483.6,566.5h0M473.9,566.8h0M477.4,563.8h0M484.2,557.0h0M474.8,564.0h0M487.5,553.2h0M487.3,568.5h0M475.0,558.6h0M477.6,567.2h0M475.0,569.4h0M484.4,563.8h0M471.6,567.2h0M484.0,555.5h0M471.8,567.2h0M486.7,565.5h0M481.0,559.9h0M481.8,564.0h0M472.5,534.7h0M471.5,568.4h0M477.4,569.5h0M540.9,567.7h0M501.0,564.3h0M514.0,568.3h0M490.6,563.9h0M491.1,567.9h0M490.0,567.1h0M504.4,569.5h0M492.2,564.9h0M493.7,569.0h0M503.2,563.3h0M504.3,569.5h0M494.5,556.2h0M497.5,558.4h0M494.0,568.2h0M499.9,568.0h0M495.2,567.7h0M495.2,568.8h0M493.3,566.7h0M494.0,565.9h0M493.5,569.6h0M490.0,559.4h0M494.3,565.0h0M500.7,558.6h0M493.6,569.1h0M491.2,567.1h0M512.7,568.3h0M497.5,565.3h0M498.6,562.9h0M494.4,568.4h0M516.5,560.4h0M506.9,567.6h0M501.7,567.2h0M503.0,561.2h0M504.2,567.5h0M498.3,557.1h0M496.3,534.2h0M495.8,564.7h0M498.4,567.5h0M497.5,560.9h0M499.0,563.3h0M499.1,567.6h0M508.8,568.0h0M517.1,566.8h0M492.9,559.2h0M490.0,564.2h0M494.2,566.1h0M490.2,557.2h0M509.3,567.1h0M501.6,565.9h0M493.9,565.0h0M492.4,564.6h0M514.6,560.6h0M511.9,565.0h0M503.9,562.7h0M504.2,568.9h0M506.5,568.0h0M497.2,558.4h0M496.0,568.1h0M499.6,568.7h0M515.8,566.6h0M547.9,569.1h0M520.2,568.0h0M511.9,569.1h0M490.7,563.2h0M493.2,568.4h0M533.1,569.4h0M499.4,561.3h0M498.6,568.5h0M494.3,568.2h0M514.0,568.9h0M498.7,566.8h0M546.6,567.3h0M490.7,568.4h0M551.0,569.4h0M489.9,567.2h0M491.7,564.0h0M495.8,567.3h0M502.3,567.4h0M491.2,565.5h0M499.9,566.6h0M524.1,565.8h0M496.8,567.6h0M507.4,569.2h0M500.7,568.4h0M500.5,565.2h0M492.1,568.9h0M497.4,553.4h0M518.0,565.9h0M503.5,564.2h0M492.8,562.4h0M497.0,554.0h0M499.4,569.3h0M494.8,569.5h0M500.3,566.0h0M502.0,564.0h0M490.0,569.0h0M492.8,559.3h0M502.9,568.8h0M492.7,559.0h0M490.7,567.2h0M507.3,560.8h0M494.7,558.3h0M528.5,567.3h0M499.8,567.5h0M491.1,553.8h0M502.2,567.7h0M493.5,567.7h0M510.4,566.7h0M505.5,565.4h0M507.2,568.5h0M490.5,567.5h0M490.2,563.4h0M509.3,567.8h0M491.6,568.7h0M492.5,565.6h0M490.1,564.9h0M492.0,565.0h0M497.6,568.6h0M528.6,567.7h0M494.5,566.4h0M493.4,568.6h0M511.3,559.6h0M492.3,564.5h0M502.1,568.9h0M501.5,565.6h0M523.3,568.6h0M490.3,563.5h0M499.9,565.6h0M495.7,567.8h0M511.0,569.3h0M493.3,568.2h0M505.1,567.3h0M492.3,548.6h0M498.1,564.2h0M532.0,568.7h0M493.1,557.3h0M493.8,568.3h0M520.3,565.4h0M503.5,557.8h0M490.6,558.8h0M492.3,564.6h0M493.1,566.2h0M494.0,568.7h0M512.6,565.1h0M504.5,564.0h0M537.5,569.5h0M503.3,567.1h0M501.9,563.6h0M495.7,567.9h0M505.2,565.4h0M498.1,568.7h0M490.5,564.7h0M498.1,567.2h0M495.7,566.9h0M499.0,569.2h0M490.4,559.8h0M490.1,568.2h0M539.6,566.5h0M495.5,569.0h0M494.7,563.8h0M491.7,567.5h0M500.8,566.2h0M519.9,569.6h0M492.2,566.1h0M498.3,567.2h0M498.3,568.2h0M507.5,569.6h0M500.0,565.4h0M493.1,565.8h0M492.3,565.1h0M505.6,564.7h0M490.8,555.1h0M514.3,568.8h0M490.2,562.6h0M492.3,564.1h0M497.5,563.5h0M512.5,567.2h0M501.6,566.9h0M506.5,567.5h0M507.3,567.4h0M505.5,563.1h0M490.4,556.4h0M511.1,565.5h0M491.7,564.4h0M491.9,565.1h0M490.2,566.2h0M490.1,565.9h0M515.4,567.5h0M495.6,567.4h0M490.9,562.8h0M490.4,553.6h0M512.7,565.4h0M501.0,561.3h0M520.1,567.8h0M490.2,566.2h0M491.2,567.3h0M493.9,567.1h0M492.4,565.1h0M491.2,564.9h0M492.5,566.5h0M502.3,563.5h0M492.0,568.6h0M492.0,560.4h0M499.2,569.5h0M495.5,567.2h0M491.8,559.2h0M500.1,566.2h0M498.5,559.7h0M495.8,567.2h0M497.6,564.5h0M490.3,567.6h0M501.5,566.1h0M492.4,568.2h0M494.8,568.1h0M489.9,554.8h0M516.5,569.5h0M500.6,569.2h0M495.9,560.1h0M499.3,560.1h0M524.2,565.9h0M491.5,569.6h0M495.7,568.4h0M504.8,566.4h0M495.5,568.3h0M504.8,565.9h0M519.0,568.3h0M490.3,568.5h0M493.9,564.4h0M494.0,561.3h0M506.8,568.2h0M508.5,568.3h0M504.5,567.7h0M521.4,569.2h0M492.3,564.3h0M495.9,566.9h0M513.2,569.0h0M507.5,563.8h0M491.2,567.9h0M537.5,568.2h0M506.3,569.6h0M514.4,567.7h0M495.3,569.3h0M501.2,567.6h0M528.8,569.4h0M517.7,569.3h0M500.3,566.6h0M516.8,569.0h0M574.2,568.7h0M512.1,569.0h0M502.8,562.4h0M529.3,566.4h0M491.7,567.5h0M496.1,568.8h0M499.9,562.6h0M491.5,555.2h0M508.4,561.3h0M490.6,562.0h0M501.9,567.8h0M493.8,567.1h0M494.5,569.4h0M501.2,568.0h0M492.4,560.0h0M497.0,567.0h0M513.6,568.4h0M542.8,569.0h0M493.5,567.8h0M495.3,559.2h0M504.3,566.5h0M492.4,563.0h0M512.9,554.2h0M492.5,567.7h0M499.7,562.5h0M494.9,566.6h0M489.8,569.0h0M489.8,565.8h0M489.8,558.0h0M494.6,568.9h0M493.7,569.6h0M547.9,569.1h0M502.2,563.8h0M490.6,565.2h0M505.2,567.5h0M493.0,568.3h0M497.8,568.7h0M505.5,565.1h0M513.6,567.1h0M523.3,566.9h0M496.5,568.1h0M494.5,557.6h0M496.0,568.2h0M494.4,563.4h0M506.3,563.5h0M497.4,567.1h0M503.9,566.4h0M491.8,569.4h0M508.5,569.5h0M531.4,569.2h0M492.6,563.0h0M501.5,567.9h0M491.9,568.3h0M417.3,360.0h0M384.9,380.0h0M419.8,390.0h0M399.9,409.0h0M374.9,432.4h0M457.3,404.9h0M392.4,424.9h0M386.4,442.3h0M355.0,458.0h0M352.5,461.0h0" fill="none" stroke="#f00" stroke-width="0.9" stroke-linecap="square"/>
<line x1="108.85" y1="520.90" x2="108.85" y2="565.80" stroke="#11f" stroke-width="1.05" />
<line x1="106.65" y1="520.90" x2="111.05" y2="520.90" stroke="#11f" stroke-width="1.0" />
<line x1="106.65" y1="565.80" x2="111.05" y2="565.80" stroke="#11f" stroke-width="1.0" />
<line x1="124.97" y1="515.50" x2="124.97" y2="565.40" stroke="#11f" stroke-width="1.05" />
<line x1="122.77" y1="515.50" x2="127.17" y2="515.50" stroke="#11f" stroke-width="1.0" />
<line x1="122.77" y1="565.40" x2="127.17" y2="565.40" stroke="#11f" stroke-width="1.0" />
<line x1="133.65" y1="510.60" x2="133.65" y2="566.80" stroke="#11f" stroke-width="1.05" />
<line x1="131.45" y1="510.60" x2="135.85" y2="510.60" stroke="#11f" stroke-width="1.0" />
<line x1="131.45" y1="566.80" x2="135.85" y2="566.80" stroke="#11f" stroke-width="1.0" />
<line x1="140.50" y1="510.60" x2="140.50" y2="564.30" stroke="#11f" stroke-width="1.05" />
<line x1="138.30" y1="510.60" x2="142.70" y2="510.60" stroke="#11f" stroke-width="1.0" />
<line x1="138.30" y1="564.30" x2="142.70" y2="564.30" stroke="#11f" stroke-width="1.0" />
<line x1="146.70" y1="516.80" x2="146.70" y2="564.30" stroke="#11f" stroke-width="1.05" />
<line x1="144.50" y1="516.80" x2="148.90" y2="516.80" stroke="#11f" stroke-width="1.0" />
<line x1="144.50" y1="564.30" x2="148.90" y2="564.30" stroke="#11f" stroke-width="1.0" />
<line x1="153.30" y1="508.50" x2="153.30" y2="563.90" stroke="#11f" stroke-width="1.05" />
<line x1="151.10" y1="508.50" x2="155.50" y2="508.50" stroke="#11f" stroke-width="1.0" />
<line x1="151.10" y1="563.90" x2="155.50" y2="563.90" stroke="#11f" stroke-width="1.0" />
<line x1="160.50" y1="507.10" x2="160.50" y2="564.30" stroke="#11f" stroke-width="1.05" />
<line x1="158.30" y1="507.10" x2="162.70" y2="507.10" stroke="#11f" stroke-width="1.0" />
<line x1="158.30" y1="564.30" x2="162.70" y2="564.30" stroke="#11f" stroke-width="1.0" />
<line x1="168.80" y1="509.55" x2="168.80" y2="567.20" stroke="#11f" stroke-width="1.05" />
<line x1="166.60" y1="509.55" x2="171.00" y2="509.55" stroke="#11f" stroke-width="1.0" />
<line x1="166.60" y1="567.20" x2="171.00" y2="567.20" stroke="#11f" stroke-width="1.0" />
<line x1="180.40" y1="506.25" x2="180.40" y2="560.60" stroke="#11f" stroke-width="1.05" />
<line x1="178.20" y1="506.25" x2="182.60" y2="506.25" stroke="#11f" stroke-width="1.0" />
<line x1="178.20" y1="560.60" x2="182.60" y2="560.60" stroke="#11f" stroke-width="1.0" />
<line x1="209.30" y1="500.05" x2="209.30" y2="564.10" stroke="#11f" stroke-width="1.05" />
<line x1="207.10" y1="500.05" x2="211.50" y2="500.05" stroke="#11f" stroke-width="1.0" />
<line x1="207.10" y1="564.10" x2="211.50" y2="564.10" stroke="#11f" stroke-width="1.0" />
<path d="M108.85,543.45L124.97,540.35L133.65,538.30L140.50,536.80L146.70,540.60L153.30,536.00L160.50,535.40L168.80,537.90L180.40,533.30L209.30,531.90" fill="none" stroke="#00f" stroke-width="1.5"/>
<circle cx="108.85" cy="543.45" r="2.0" fill="#00f"/>
<circle cx="124.97" cy="540.35" r="2.0" fill="#00f"/>
<circle cx="133.65" cy="538.30" r="2.0" fill="#00f"/>
<circle cx="140.50" cy="536.80" r="2.0" fill="#00f"/>
<circle cx="146.70" cy="540.60" r="2.0" fill="#00f"/>
<circle cx="153.30" cy="536.00" r="2.0" fill="#00f"/>
<circle cx="160.50" cy="535.40" r="2.0" fill="#00f"/>
<circle cx="168.80" cy="537.90" r="2.0" fill="#00f"/>
<circle cx="180.40" cy="533.30" r="2.0" fill="#00f"/>
<circle cx="209.30" cy="531.90" r="2.0" fill="#00f"/>
<line x1="404.90" y1="505.40" x2="404.90" y2="570.90" stroke="#11f" stroke-width="1.05" />
<line x1="402.70" y1="505.40" x2="407.10" y2="505.40" stroke="#11f" stroke-width="1.0" />
<line x1="402.70" y1="570.90" x2="407.10" y2="570.90" stroke="#11f" stroke-width="1.0" />
<line x1="421.00" y1="514.30" x2="421.00" y2="574.45" stroke="#11f" stroke-width="1.05" />
<line x1="418.80" y1="514.30" x2="423.20" y2="514.30" stroke="#11f" stroke-width="1.0" />
<line x1="418.80" y1="574.45" x2="423.20" y2="574.45" stroke="#11f" stroke-width="1.0" />
<line x1="429.70" y1="529.20" x2="429.70" y2="571.10" stroke="#11f" stroke-width="1.05" />
<line x1="427.50" y1="529.20" x2="431.90" y2="529.20" stroke="#11f" stroke-width="1.0" />
<line x1="427.50" y1="571.10" x2="431.90" y2="571.10" stroke="#11f" stroke-width="1.0" />
<line x1="436.70" y1="538.70" x2="436.70" y2="569.30" stroke="#11f" stroke-width="1.05" />
<line x1="434.50" y1="538.70" x2="438.90" y2="538.70" stroke="#11f" stroke-width="1.0" />
<line x1="434.50" y1="569.30" x2="438.90" y2="569.30" stroke="#11f" stroke-width="1.0" />
<line x1="442.70" y1="543.45" x2="442.70" y2="570.10" stroke="#11f" stroke-width="1.05" />
<line x1="440.50" y1="543.45" x2="444.90" y2="543.45" stroke="#11f" stroke-width="1.0" />
<line x1="440.50" y1="570.10" x2="444.90" y2="570.10" stroke="#11f" stroke-width="1.0" />
<line x1="449.30" y1="541.40" x2="449.30" y2="570.90" stroke="#11f" stroke-width="1.05" />
<line x1="447.10" y1="541.40" x2="451.50" y2="541.40" stroke="#11f" stroke-width="1.0" />
<line x1="447.10" y1="570.90" x2="451.50" y2="570.90" stroke="#11f" stroke-width="1.0" />
<line x1="456.55" y1="543.65" x2="456.55" y2="573.40" stroke="#11f" stroke-width="1.05" />
<line x1="454.35" y1="543.65" x2="458.75" y2="543.65" stroke="#11f" stroke-width="1.0" />
<line x1="454.35" y1="573.40" x2="458.75" y2="573.40" stroke="#11f" stroke-width="1.0" />
<line x1="464.80" y1="550.30" x2="464.80" y2="571.60" stroke="#11f" stroke-width="1.05" />
<line x1="462.60" y1="550.30" x2="467.00" y2="550.30" stroke="#11f" stroke-width="1.0" />
<line x1="462.60" y1="571.60" x2="467.00" y2="571.60" stroke="#11f" stroke-width="1.0" />
<line x1="476.40" y1="551.90" x2="476.40" y2="570.90" stroke="#11f" stroke-width="1.05" />
<line x1="474.20" y1="551.90" x2="478.60" y2="551.90" stroke="#11f" stroke-width="1.0" />
<line x1="474.20" y1="570.90" x2="478.60" y2="570.90" stroke="#11f" stroke-width="1.0" />
<line x1="505.30" y1="562.05" x2="505.30" y2="569.30" stroke="#11f" stroke-width="1.05" />
<line x1="503.10" y1="562.05" x2="507.50" y2="562.05" stroke="#11f" stroke-width="1.0" />
<line x1="503.10" y1="569.30" x2="507.50" y2="569.30" stroke="#11f" stroke-width="1.0" />
<path d="M404.90,538.50L421.00,544.10L429.70,550.30L436.70,554.40L442.70,557.10L449.30,556.50L456.55,558.50L464.80,561.20L476.40,561.85L505.30,565.80" fill="none" stroke="#00f" stroke-width="1.5"/>
<circle cx="404.90" cy="538.50" r="2.0" fill="#00f"/>
<circle cx="421.00" cy="544.10" r="2.0" fill="#00f"/>
<circle cx="429.70" cy="550.30" r="2.0" fill="#00f"/>
<circle cx="436.70" cy="554.40" r="2.0" fill="#00f"/>
<circle cx="442.70" cy="557.10" r="2.0" fill="#00f"/>
<circle cx="449.30" cy="556.50" r="2.0" fill="#00f"/>
<circle cx="456.55" cy="558.50" r="2.0" fill="#00f"/>
<circle cx="464.80" cy="561.20" r="2.0" fill="#00f"/>
<circle cx="476.40" cy="561.85" r="2.0" fill="#00f"/>
<circle cx="505.30" cy="565.80" r="2.0" fill="#00f"/>
<g transform="translate(90.50 598.60) scale(1 1.055)" fill="#000"><path transform="translate(-3.70 0.00) scale(0.01330 -0.01330)" d="M284 0V517H102V574C200 574 262 622 282 709H372V0Z"/></g>
<g transform="translate(167.00 598.60) scale(1 1.055)" fill="#000"><path transform="translate(-7.40 0.00) scale(0.01330 -0.01330)" d="M284 0V517H102V574C200 574 262 622 282 709H372V0Z"/><text x="-0.00" y="0.00" font-size="13.3" xml:space="preserve">0</text></g>
<g transform="translate(243.50 598.60) scale(1 1.055)" fill="#000"><path transform="translate(-11.09 0.00) scale(0.01330 -0.01330)" d="M284 0V517H102V574C200 574 262 622 282 709H372V0Z"/><text x="-3.70" y="0.00" font-size="13.3" xml:space="preserve">00</text></g>
<g transform="translate(167.00 614.75) scale(1 1.055)" fill="#000"><text x="-68.01" y="0.00" font-size="13.3" xml:space="preserve">Magnetic flux (</text><path transform="translate(18.47 0.00) scale(0.01330 -0.01330)" d="M284 0V517H102V574C200 574 262 622 282 709H372V0Z"/><text x="25.86" y="0.00" font-size="13.3" xml:space="preserve">0</text><path transform="translate(33.26 -6.60) scale(0.00800 -0.00800)" d="M284 0V517H102V574C200 574 262 622 282 709H372V0Z"/><text x="37.71" y="-6.60" font-size="8.0" xml:space="preserve">8</text><text x="42.16" y="0.00" font-size="13.3" xml:space="preserve"> Mx)</text></g>
<g transform="translate(386.50 598.60) scale(1 1.055)" fill="#000"><path transform="translate(-3.70 0.00) scale(0.01330 -0.01330)" d="M284 0V517H102V574C200 574 262 622 282 709H372V0Z"/></g>
<g transform="translate(463.00 598.60) scale(1 1.055)" fill="#000"><path transform="translate(-7.40 0.00) scale(0.01330 -0.01330)" d="M284 0V517H102V574C200 574 262 622 282 709H372V0Z"/><text x="-0.00" y="0.00" font-size="13.3" xml:space="preserve">0</text></g>
<g transform="translate(539.50 598.60) scale(1 1.055)" fill="#000"><path transform="translate(-11.09 0.00) scale(0.01330 -0.01330)" d="M284 0V517H102V574C200 574 262 622 282 709H372V0Z"/><text x="-3.70" y="0.00" font-size="13.3" xml:space="preserve">00</text></g>
<g transform="translate(463.00 614.75) scale(1 1.055)" fill="#000"><text x="-68.01" y="0.00" font-size="13.3" xml:space="preserve">Magnetic flux (</text><path transform="translate(18.47 0.00) scale(0.01330 -0.01330)" d="M284 0V517H102V574C200 574 262 622 282 709H372V0Z"/><text x="25.86" y="0.00" font-size="13.3" xml:space="preserve">0</text><path transform="translate(33.26 -6.60) scale(0.00800 -0.00800)" d="M284 0V517H102V574C200 574 262 622 282 709H372V0Z"/><text x="37.71" y="-6.60" font-size="8.0" xml:space="preserve">8</text><text x="42.16" y="0.00" font-size="13.3" xml:space="preserve"> Mx)</text></g>
<g transform="translate(46.60 574.82) scale(1 1.055)" fill="#000"><text x="-7.40" y="0.00" font-size="13.3" xml:space="preserve">0</text></g>
<g transform="translate(46.60 525.18) scale(1 1.055)" fill="#000"><text x="-14.79" y="0.00" font-size="13.3" xml:space="preserve">20</text></g>
<g transform="translate(46.60 475.54) scale(1 1.055)" fill="#000"><text x="-14.79" y="0.00" font-size="13.3" xml:space="preserve">40</text></g>
<g transform="translate(46.60 425.90) scale(1 1.055)" fill="#000"><text x="-14.79" y="0.00" font-size="13.3" xml:space="preserve">60</text></g>
<g transform="translate(46.60 376.26) scale(1 1.055)" fill="#000"><text x="-14.79" y="0.00" font-size="13.3" xml:space="preserve">80</text></g>
<g transform="translate(342.60 574.77) scale(1 1.055)" fill="#000"><text x="-7.40" y="0.00" font-size="13.3" xml:space="preserve">0</text></g>
<g transform="translate(342.60 524.63) scale(1 1.055)" fill="#000"><text x="-7.40" y="0.00" font-size="13.3" xml:space="preserve">2</text></g>
<g transform="translate(342.60 474.49) scale(1 1.055)" fill="#000"><text x="-7.40" y="0.00" font-size="13.3" xml:space="preserve">4</text></g>
<g transform="translate(342.60 424.35) scale(1 1.055)" fill="#000"><text x="-7.40" y="0.00" font-size="13.3" xml:space="preserve">6</text></g>
<g transform="translate(342.60 374.21) scale(1 1.055)" fill="#000"><text x="-7.40" y="0.00" font-size="13.3" xml:space="preserve">8</text></g>
<g transform="translate(21.30 465.50) rotate(-90) scale(1 1.055)" fill="#000"><text x="-95.01" y="0.00" font-size="13.3" xml:space="preserve">Absolute rotation angle (degree)</text></g>
<g transform="translate(324.60 465.40) rotate(-90) scale(1 1.055)" fill="#000"><text x="-113.98" y="0.00" font-size="13.3" xml:space="preserve">Absolute angular speed (degree min</text><path transform="translate(100.43 -5.50) scale(0.00800 -0.00800)" d="M48 186H536V258H48Z"/><path transform="translate(105.11 -5.50) scale(0.00800 -0.00800)" d="M284 0V517H102V574C200 574 262 622 282 709H372V0Z"/><text x="109.55" y="0.00" font-size="13.3" xml:space="preserve">)</text></g>
<g transform="translate(62.00 372.40) scale(1 0.98)" fill="#000"><text x="0.00" y="0.00" font-size="16.6" xml:space="preserve">(c)</text></g>
<g transform="translate(358.20 372.40) scale(1 0.98)" fill="#000"><text x="0.00" y="0.00" font-size="16.6" xml:space="preserve">(d)</text></g>
</g>
</svg>
</body></html>
